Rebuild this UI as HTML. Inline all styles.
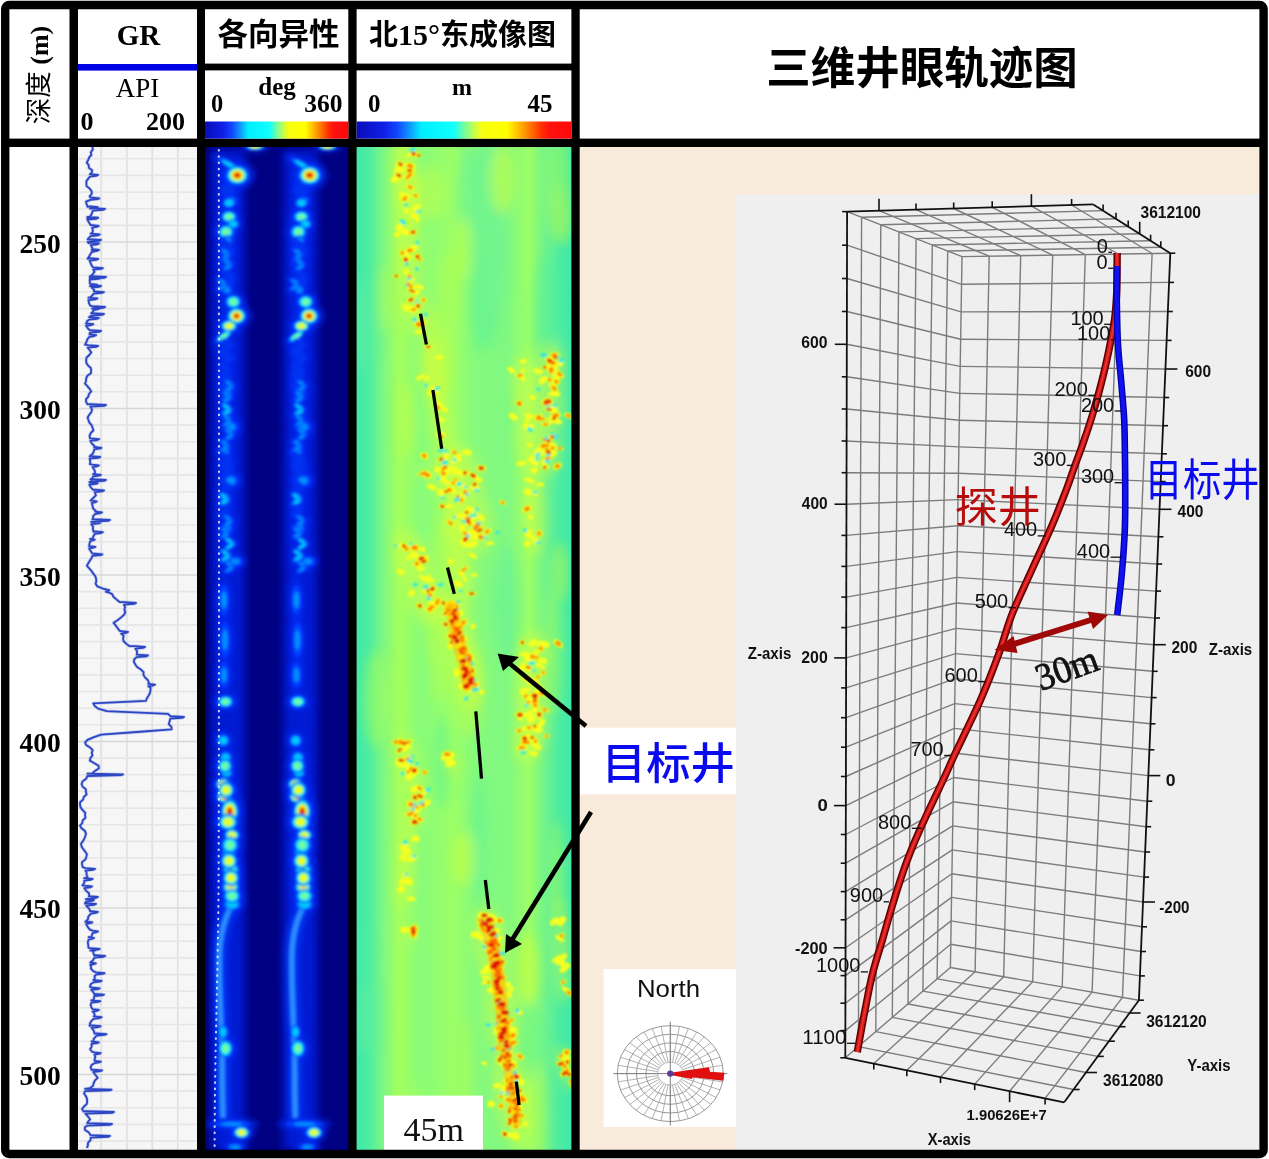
<!DOCTYPE html>
<html><head><meta charset="utf-8"><title>figure</title>
<style>html,body{margin:0;padding:0;background:#fff;}svg{display:block;}</style></head>
<body><svg width="1269" height="1159" viewBox="0 0 1269 1159">
<rect x="0" y="0" width="1269" height="1159" fill="#fff"/>
<rect x="579" y="146" width="681" height="1004" fill="#f9ebdb"/>
<rect x="736" y="194.5" width="524" height="956" fill="#efefef"/>
<rect x="77.5" y="146" width="120.0" height="1004.5" fill="#f6f6f6"/>
<line x1="101.2" y1="146" x2="101.2" y2="1150.5" stroke="#e2e2e2" stroke-width="1.8"/><line x1="126.8" y1="146" x2="126.8" y2="1150.5" stroke="#e2e2e2" stroke-width="1.8"/><line x1="152.3" y1="146" x2="152.3" y2="1150.5" stroke="#e2e2e2" stroke-width="1.8"/><line x1="177.8" y1="146" x2="177.8" y2="1150.5" stroke="#e2e2e2" stroke-width="1.8"/><line x1="77.5" y1="158.8" x2="197.5" y2="158.8" stroke="#e6e6e6" stroke-width="1.6"/><line x1="77.5" y1="175.4" x2="197.5" y2="175.4" stroke="#e6e6e6" stroke-width="1.6"/><line x1="77.5" y1="192.1" x2="197.5" y2="192.1" stroke="#e6e6e6" stroke-width="1.6"/><line x1="77.5" y1="208.7" x2="197.5" y2="208.7" stroke="#e6e6e6" stroke-width="1.6"/><line x1="77.5" y1="225.4" x2="197.5" y2="225.4" stroke="#e6e6e6" stroke-width="1.6"/><line x1="77.5" y1="242.0" x2="197.5" y2="242.0" stroke="#d8d8d8" stroke-width="1.6"/><line x1="77.5" y1="258.7" x2="197.5" y2="258.7" stroke="#e6e6e6" stroke-width="1.6"/><line x1="77.5" y1="275.3" x2="197.5" y2="275.3" stroke="#e6e6e6" stroke-width="1.6"/><line x1="77.5" y1="291.9" x2="197.5" y2="291.9" stroke="#e6e6e6" stroke-width="1.6"/><line x1="77.5" y1="308.6" x2="197.5" y2="308.6" stroke="#e6e6e6" stroke-width="1.6"/><line x1="77.5" y1="325.2" x2="197.5" y2="325.2" stroke="#e6e6e6" stroke-width="1.6"/><line x1="77.5" y1="341.9" x2="197.5" y2="341.9" stroke="#e6e6e6" stroke-width="1.6"/><line x1="77.5" y1="358.5" x2="197.5" y2="358.5" stroke="#e6e6e6" stroke-width="1.6"/><line x1="77.5" y1="375.2" x2="197.5" y2="375.2" stroke="#e6e6e6" stroke-width="1.6"/><line x1="77.5" y1="391.8" x2="197.5" y2="391.8" stroke="#e6e6e6" stroke-width="1.6"/><line x1="77.5" y1="408.5" x2="197.5" y2="408.5" stroke="#d8d8d8" stroke-width="1.6"/><line x1="77.5" y1="425.1" x2="197.5" y2="425.1" stroke="#e6e6e6" stroke-width="1.6"/><line x1="77.5" y1="441.8" x2="197.5" y2="441.8" stroke="#e6e6e6" stroke-width="1.6"/><line x1="77.5" y1="458.4" x2="197.5" y2="458.4" stroke="#e6e6e6" stroke-width="1.6"/><line x1="77.5" y1="475.1" x2="197.5" y2="475.1" stroke="#e6e6e6" stroke-width="1.6"/><line x1="77.5" y1="491.7" x2="197.5" y2="491.7" stroke="#e6e6e6" stroke-width="1.6"/><line x1="77.5" y1="508.4" x2="197.5" y2="508.4" stroke="#e6e6e6" stroke-width="1.6"/><line x1="77.5" y1="525.0" x2="197.5" y2="525.0" stroke="#e6e6e6" stroke-width="1.6"/><line x1="77.5" y1="541.7" x2="197.5" y2="541.7" stroke="#e6e6e6" stroke-width="1.6"/><line x1="77.5" y1="558.3" x2="197.5" y2="558.3" stroke="#e6e6e6" stroke-width="1.6"/><line x1="77.5" y1="575.0" x2="197.5" y2="575.0" stroke="#d8d8d8" stroke-width="1.6"/><line x1="77.5" y1="591.6" x2="197.5" y2="591.6" stroke="#e6e6e6" stroke-width="1.6"/><line x1="77.5" y1="608.3" x2="197.5" y2="608.3" stroke="#e6e6e6" stroke-width="1.6"/><line x1="77.5" y1="624.9" x2="197.5" y2="624.9" stroke="#e6e6e6" stroke-width="1.6"/><line x1="77.5" y1="641.6" x2="197.5" y2="641.6" stroke="#e6e6e6" stroke-width="1.6"/><line x1="77.5" y1="658.2" x2="197.5" y2="658.2" stroke="#e6e6e6" stroke-width="1.6"/><line x1="77.5" y1="674.9" x2="197.5" y2="674.9" stroke="#e6e6e6" stroke-width="1.6"/><line x1="77.5" y1="691.5" x2="197.5" y2="691.5" stroke="#e6e6e6" stroke-width="1.6"/><line x1="77.5" y1="708.2" x2="197.5" y2="708.2" stroke="#e6e6e6" stroke-width="1.6"/><line x1="77.5" y1="724.8" x2="197.5" y2="724.8" stroke="#e6e6e6" stroke-width="1.6"/><line x1="77.5" y1="741.5" x2="197.5" y2="741.5" stroke="#d8d8d8" stroke-width="1.6"/><line x1="77.5" y1="758.1" x2="197.5" y2="758.1" stroke="#e6e6e6" stroke-width="1.6"/><line x1="77.5" y1="774.8" x2="197.5" y2="774.8" stroke="#e6e6e6" stroke-width="1.6"/><line x1="77.5" y1="791.4" x2="197.5" y2="791.4" stroke="#e6e6e6" stroke-width="1.6"/><line x1="77.5" y1="808.1" x2="197.5" y2="808.1" stroke="#e6e6e6" stroke-width="1.6"/><line x1="77.5" y1="824.7" x2="197.5" y2="824.7" stroke="#e6e6e6" stroke-width="1.6"/><line x1="77.5" y1="841.4" x2="197.5" y2="841.4" stroke="#e6e6e6" stroke-width="1.6"/><line x1="77.5" y1="858.0" x2="197.5" y2="858.0" stroke="#e6e6e6" stroke-width="1.6"/><line x1="77.5" y1="874.7" x2="197.5" y2="874.7" stroke="#e6e6e6" stroke-width="1.6"/><line x1="77.5" y1="891.3" x2="197.5" y2="891.3" stroke="#e6e6e6" stroke-width="1.6"/><line x1="77.5" y1="908.0" x2="197.5" y2="908.0" stroke="#d8d8d8" stroke-width="1.6"/><line x1="77.5" y1="924.6" x2="197.5" y2="924.6" stroke="#e6e6e6" stroke-width="1.6"/><line x1="77.5" y1="941.3" x2="197.5" y2="941.3" stroke="#e6e6e6" stroke-width="1.6"/><line x1="77.5" y1="957.9" x2="197.5" y2="957.9" stroke="#e6e6e6" stroke-width="1.6"/><line x1="77.5" y1="974.6" x2="197.5" y2="974.6" stroke="#e6e6e6" stroke-width="1.6"/><line x1="77.5" y1="991.2" x2="197.5" y2="991.2" stroke="#e6e6e6" stroke-width="1.6"/><line x1="77.5" y1="1007.9" x2="197.5" y2="1007.9" stroke="#e6e6e6" stroke-width="1.6"/><line x1="77.5" y1="1024.5" x2="197.5" y2="1024.5" stroke="#e6e6e6" stroke-width="1.6"/><line x1="77.5" y1="1041.2" x2="197.5" y2="1041.2" stroke="#e6e6e6" stroke-width="1.6"/><line x1="77.5" y1="1057.8" x2="197.5" y2="1057.8" stroke="#e6e6e6" stroke-width="1.6"/><line x1="77.5" y1="1074.5" x2="197.5" y2="1074.5" stroke="#d8d8d8" stroke-width="1.6"/><line x1="77.5" y1="1091.1" x2="197.5" y2="1091.1" stroke="#e6e6e6" stroke-width="1.6"/><line x1="77.5" y1="1107.8" x2="197.5" y2="1107.8" stroke="#e6e6e6" stroke-width="1.6"/><line x1="77.5" y1="1124.4" x2="197.5" y2="1124.4" stroke="#e6e6e6" stroke-width="1.6"/><line x1="77.5" y1="1141.1" x2="197.5" y2="1141.1" stroke="#e6e6e6" stroke-width="1.6"/>
<path d="M92.5,147.0 L92.8,149.6 L90.8,152.2 L91.4,154.8 L89.2,157.4 L88.2,160.0 L86.8,162.6 L88.7,165.2 L88.9,167.8 L92.2,170.4 L91.6,173.0 L89.9,174.2 L98.0,175.0 L96.0,175.8 L89.9,176.6 L88.7,178.2 L86.5,180.8 L86.4,183.4 L86.5,186.0 L89.7,188.6 L91.6,191.2 L91.8,193.8 L89.7,196.4 L90.4,197.5 L99.3,198.3 L97.3,199.1 L90.4,199.9 L86.0,201.6 L86.6,204.2 L87.7,206.8 L90.0,206.3 L97.8,207.1 L95.8,207.9 L90.0,208.7 L92.9,208.2 L105.0,209.0 L103.0,209.8 L92.9,210.6 L91.4,214.6 L89.5,217.2 L87.8,216.9 L98.1,217.7 L96.1,218.5 L87.8,219.3 L87.3,217.2 L98.0,218.0 L96.0,218.8 L87.3,219.6 L90.5,225.0 L92.1,225.2 L98.7,226.0 L96.7,226.8 L92.1,227.6 L92.8,230.2 L92.5,232.8 L90.6,233.7 L99.7,234.5 L97.7,235.3 L90.6,236.1 L88.8,238.0 L87.7,239.2 L101.0,240.0 L99.0,240.8 L87.7,241.6 L88.5,243.2 L90.8,242.7 L99.0,243.5 L97.0,244.3 L90.8,245.1 L92.5,248.4 L92.7,249.2 L99.0,250.0 L97.0,250.8 L92.7,251.6 L91.8,249.6 L97.6,250.4 L95.6,251.2 L91.8,252.0 L89.2,256.2 L87.7,258.8 L89.6,258.2 L98.2,259.0 L96.2,259.8 L89.6,260.6 L91.0,264.0 L92.3,266.6 L93.2,267.3 L102.8,268.1 L100.8,268.9 L93.2,269.7 L94.5,271.8 L92.6,274.4 L90.0,277.0 L90.0,276.2 L106.0,277.0 L104.0,277.8 L90.0,278.6 L89.7,277.3 L100.4,278.1 L98.4,278.9 L89.7,279.7 L89.9,283.8 L97.0,284.6 L95.0,285.4 L89.9,286.2 L91.7,285.2 L101.0,286.0 L99.0,286.8 L91.7,287.6 L94.2,290.0 L93.9,291.3 L103.8,292.1 L101.8,292.9 L93.9,293.7 L92.4,295.2 L90.2,297.8 L88.4,297.7 L97.4,298.5 L95.4,299.3 L88.4,300.1 L89.0,303.0 L90.2,305.6 L92.2,306.2 L105.0,307.0 L103.0,307.8 L92.2,308.6 L93.6,307.8 L99.3,308.6 L97.3,309.4 L93.6,310.2 L91.8,313.4 L91.2,313.2 L104.0,314.0 L102.0,314.8 L91.2,315.6 L89.1,317.2 L98.8,318.0 L96.8,318.8 L89.1,319.6 L87.0,321.2 L86.4,323.8 L86.0,323.4 L93.3,324.2 L91.3,325.0 L86.0,325.8 L88.4,329.0 L89.9,330.2 L101.0,331.0 L99.0,331.8 L89.9,332.6 L90.5,334.2 L89.4,334.4 L96.1,335.2 L94.1,336.0 L89.4,336.8 L87.3,339.4 L86.5,342.0 L85.0,344.6 L87.7,345.2 L98.1,346.0 L96.1,346.8 L87.7,347.6 L89.4,349.8 L91.3,352.4 L89.3,355.0 L86.5,357.6 L86.2,360.2 L86.3,362.8 L88.0,365.4 L90.8,368.0 L91.2,370.6 L90.9,373.2 L87.3,375.8 L86.2,378.4 L86.0,381.0 L85.0,383.6 L87.4,386.2 L89.6,388.8 L91.2,391.4 L89.0,394.0 L88.3,396.6 L86.1,399.2 L86.0,401.8 L87.7,404.4 L90.4,404.2 L106.0,405.0 L104.0,405.8 L90.4,406.6 L92.0,409.6 L91.3,412.2 L89.3,414.8 L87.6,417.4 L88.4,420.0 L89.4,422.6 L91.6,425.2 L92.6,427.8 L93.4,430.4 L90.8,433.0 L89.6,435.6 L89.9,438.2 L90.3,438.4 L99.1,439.2 L97.1,440.0 L90.3,440.8 L91.7,443.4 L94.4,446.0 L94.1,447.0 L101.4,447.8 L99.4,448.6 L94.1,449.4 L93.9,451.2 L92.7,453.8 L89.7,456.4 L89.7,456.2 L100.2,457.0 L98.2,457.8 L89.7,458.6 L90.3,461.6 L89.9,464.2 L92.5,464.7 L98.8,465.5 L96.8,466.3 L92.5,467.1 L94.1,469.4 L95.1,472.0 L94.7,474.6 L93.1,474.0 L100.8,474.8 L98.8,475.6 L93.1,476.4 L91.7,479.8 L90.5,479.2 L106.0,480.0 L104.0,480.8 L90.5,481.6 L89.4,482.3 L97.8,483.1 L95.8,483.9 L89.4,484.7 L91.0,487.6 L93.7,490.2 L94.8,489.7 L104.0,490.5 L102.0,491.3 L94.8,492.1 L95.9,495.4 L93.2,498.0 L90.6,500.6 L91.8,500.7 L96.7,501.5 L94.7,502.3 L91.8,503.1 L92.6,505.8 L93.0,508.4 L95.8,511.0 L95.2,511.6 L102.0,512.4 L100.0,513.2 L95.2,514.0 L93.1,516.2 L93.1,518.8 L92.3,519.2 L110.0,520.0 L108.0,520.8 L92.3,521.6 L91.3,521.8 L100.6,522.6 L98.6,523.4 L91.3,524.2 L93.0,526.6 L92.9,529.2 L93.6,531.8 L94.8,531.4 L102.8,532.2 L100.8,533.0 L94.8,533.8 L93.0,537.0 L92.7,539.6 L90.1,538.9 L94.7,539.7 L92.7,540.5 L90.1,541.3 L89.3,544.8 L89.1,546.1 L95.4,546.9 L93.4,547.7 L89.1,548.5 L90.0,550.0 L91.7,552.6 L92.4,553.5 L102.3,554.3 L100.3,555.1 L92.4,555.9 L91.7,557.8 L90.0,560.4 L88.4,563.0 L86.9,565.6 L89.0,568.2 L91.4,570.8 L93.1,573.4 L95.2,576.0 L96.1,578.6 L96.3,581.2 L95.6,583.8 L97.4,586.4 L104.0,589.0 L109.2,590.2 L108.0,591.0 L106.0,591.8 L109.2,592.6 L112.3,594.2 L113.4,596.8 L116.4,599.4 L119.6,602.0 L124.0,602.2 L136.0,603.0 L134.0,603.8 L124.0,604.6 L125.0,607.2 L124.4,609.8 L125.3,612.4 L123.8,615.0 L120.9,617.6 L117.5,620.2 L113.6,622.8 L115.6,625.4 L117.5,628.0 L119.4,630.6 L121.1,631.2 L128.0,632.0 L126.0,632.8 L121.1,633.6 L123.6,635.8 L123.1,638.4 L123.5,641.0 L126.1,643.6 L129.6,646.2 L135.4,646.2 L145.0,647.0 L143.0,647.8 L135.4,648.6 L137.2,651.4 L136.9,654.0 L136.7,654.7 L148.0,655.5 L146.0,656.3 L136.7,657.1 L134.3,659.2 L133.8,661.8 L135.3,664.4 L137.1,667.0 L141.0,669.6 L143.6,672.2 L143.4,674.8 L145.0,677.4 L147.8,680.0 L148.9,682.6 L148.3,683.9 L155.0,684.7 L153.0,685.5 L148.3,686.3 L150.5,687.8 L150.5,690.4 L149.9,693.0 L148.6,695.6 L147.0,698.2 L145.9,700.8 L93.2,703.4 L94.8,706.0 L98.1,708.6 L106.8,711.2 L168.0,713.8 L170.7,716.4 L170.4,716.2 L184.0,717.0 L182.0,717.8 L170.4,718.6 L169.5,721.6 L168.8,724.2 L171.4,726.8 L171.6,729.4 L136.9,732.0 L101.2,734.6 L93.9,737.2 L87.5,739.8 L85.1,742.4 L86.1,745.0 L90.1,747.6 L92.7,750.2 L91.7,752.8 L92.5,755.4 L90.4,758.0 L89.9,760.6 L94.4,763.2 L98.6,765.8 L98.8,768.4 L94.9,771.0 L92.1,773.6 L87.4,773.6 L123.0,774.4 L121.0,775.2 L87.4,776.0 L86.1,778.8 L82.6,781.4 L81.6,784.0 L82.6,786.6 L85.8,789.2 L85.9,791.8 L86.6,794.4 L83.8,797.0 L83.1,799.6 L80.1,802.2 L80.0,804.8 L80.6,807.4 L82.5,810.0 L85.2,812.6 L85.1,815.2 L85.4,817.8 L82.7,820.4 L82.3,823.0 L80.0,825.6 L81.5,828.2 L84.8,830.8 L85.9,833.4 L85.4,836.0 L84.3,838.6 L82.9,841.2 L81.0,843.8 L81.5,846.4 L83.2,849.0 L85.2,851.6 L86.9,854.2 L86.3,856.8 L85.5,859.4 L82.1,862.0 L82.1,864.6 L82.7,867.2 L85.4,868.2 L95.0,869.0 L93.0,869.8 L85.4,870.6 L86.5,872.4 L86.6,875.0 L87.7,877.6 L84.2,878.2 L92.6,879.0 L90.6,879.8 L84.2,880.6 L84.4,882.8 L82.5,885.4 L84.3,885.7 L92.0,886.5 L90.0,887.3 L84.3,888.1 L85.9,890.6 L89.0,893.2 L89.1,895.8 L88.9,896.2 L97.9,897.0 L95.9,897.8 L88.9,898.6 L85.9,899.2 L94.0,900.0 L92.0,900.8 L85.9,901.6 L85.0,903.6 L86.2,903.2 L96.0,904.0 L94.0,904.8 L86.2,905.6 L89.2,908.8 L90.2,911.4 L91.0,911.2 L97.9,912.0 L95.9,912.8 L91.0,913.6 L88.3,916.6 L88.0,919.2 L85.4,921.8 L86.2,921.5 L92.3,922.3 L90.3,923.1 L86.2,923.9 L87.8,927.0 L89.8,929.6 L92.6,930.7 L97.9,931.5 L95.9,932.3 L92.6,933.1 L91.9,934.8 L91.5,937.4 L88.6,937.2 L93.9,938.0 L91.9,938.8 L88.6,939.6 L87.8,942.6 L88.3,945.2 L88.4,947.8 L90.3,948.1 L99.6,948.9 L97.6,949.7 L90.3,950.5 L93.0,949.2 L96.0,950.0 L94.0,950.8 L93.0,951.6 L94.2,955.6 L94.7,955.2 L105.1,956.0 L103.1,956.8 L94.7,957.6 L92.6,960.8 L90.3,962.5 L95.8,963.3 L93.8,964.1 L90.3,964.9 L91.0,966.0 L90.9,968.6 L93.3,971.2 L95.9,972.3 L104.5,973.1 L102.5,973.9 L95.9,974.7 L94.5,976.4 L94.8,979.0 L93.4,980.0 L101.6,980.8 L99.6,981.6 L93.4,982.4 L90.7,984.2 L90.0,986.8 L91.2,987.5 L99.6,988.3 L97.6,989.1 L91.2,989.9 L93.2,992.0 L94.6,994.6 L94.2,993.8 L103.9,994.6 L101.9,995.4 L94.2,996.2 L93.8,999.8 L91.3,1000.3 L100.3,1001.1 L98.3,1001.9 L91.3,1002.7 L90.7,1005.0 L91.5,1007.6 L92.6,1009.2 L98.8,1010.0 L96.8,1010.8 L92.6,1011.6 L94.1,1012.8 L94.7,1015.4 L93.8,1016.4 L101.6,1017.2 L99.6,1018.0 L93.8,1018.8 L91.6,1020.6 L90.1,1023.2 L89.6,1025.8 L91.6,1025.4 L100.6,1026.2 L98.6,1027.0 L91.6,1027.8 L93.9,1031.0 L94.5,1033.6 L96.6,1033.3 L106.4,1034.1 L104.4,1034.9 L96.6,1035.7 L93.7,1038.8 L93.5,1041.4 L91.6,1041.5 L98.8,1042.3 L96.8,1043.1 L91.6,1043.9 L91.7,1046.6 L90.1,1049.2 L92.2,1051.8 L94.5,1052.3 L100.6,1053.1 L98.6,1053.9 L94.5,1054.7 L95.3,1057.0 L94.6,1059.6 L94.5,1060.8 L100.8,1061.6 L98.8,1062.4 L94.5,1063.2 L91.8,1064.8 L90.6,1067.4 L91.7,1070.0 L93.3,1069.6 L102.1,1070.4 L100.1,1071.2 L93.3,1072.0 L95.7,1075.2 L97.7,1077.8 L95.0,1080.4 L93.7,1083.0 L93.1,1085.6 L90.0,1088.2 L85.1,1088.8 L111.5,1089.6 L109.5,1090.4 L85.1,1091.2 L84.0,1093.4 L85.8,1096.0 L87.0,1098.6 L87.1,1101.2 L86.9,1103.8 L84.1,1106.4 L82.1,1109.0 L83.6,1111.6 L85.4,1111.2 L114.0,1112.0 L112.0,1112.8 L85.4,1113.6 L88.3,1116.8 L90.1,1119.4 L87.8,1122.0 L87.3,1123.2 L112.0,1124.0 L110.0,1124.8 L87.3,1125.6 L84.9,1127.2 L84.8,1129.8 L88.8,1132.4 L90.5,1135.0 L90.7,1135.2 L110.0,1136.0 L108.0,1136.8 L90.7,1137.6 L90.5,1140.2 L88.0,1142.8 L87.9,1145.4 L86.9,1148.0" fill="none" stroke="#9aaae6" stroke-width="3.4" stroke-linejoin="round" opacity="0.55"/>
<path d="M92.5,147.0 L92.8,149.6 L90.8,152.2 L91.4,154.8 L89.2,157.4 L88.2,160.0 L86.8,162.6 L88.7,165.2 L88.9,167.8 L92.2,170.4 L91.6,173.0 L89.9,174.2 L98.0,175.0 L96.0,175.8 L89.9,176.6 L88.7,178.2 L86.5,180.8 L86.4,183.4 L86.5,186.0 L89.7,188.6 L91.6,191.2 L91.8,193.8 L89.7,196.4 L90.4,197.5 L99.3,198.3 L97.3,199.1 L90.4,199.9 L86.0,201.6 L86.6,204.2 L87.7,206.8 L90.0,206.3 L97.8,207.1 L95.8,207.9 L90.0,208.7 L92.9,208.2 L105.0,209.0 L103.0,209.8 L92.9,210.6 L91.4,214.6 L89.5,217.2 L87.8,216.9 L98.1,217.7 L96.1,218.5 L87.8,219.3 L87.3,217.2 L98.0,218.0 L96.0,218.8 L87.3,219.6 L90.5,225.0 L92.1,225.2 L98.7,226.0 L96.7,226.8 L92.1,227.6 L92.8,230.2 L92.5,232.8 L90.6,233.7 L99.7,234.5 L97.7,235.3 L90.6,236.1 L88.8,238.0 L87.7,239.2 L101.0,240.0 L99.0,240.8 L87.7,241.6 L88.5,243.2 L90.8,242.7 L99.0,243.5 L97.0,244.3 L90.8,245.1 L92.5,248.4 L92.7,249.2 L99.0,250.0 L97.0,250.8 L92.7,251.6 L91.8,249.6 L97.6,250.4 L95.6,251.2 L91.8,252.0 L89.2,256.2 L87.7,258.8 L89.6,258.2 L98.2,259.0 L96.2,259.8 L89.6,260.6 L91.0,264.0 L92.3,266.6 L93.2,267.3 L102.8,268.1 L100.8,268.9 L93.2,269.7 L94.5,271.8 L92.6,274.4 L90.0,277.0 L90.0,276.2 L106.0,277.0 L104.0,277.8 L90.0,278.6 L89.7,277.3 L100.4,278.1 L98.4,278.9 L89.7,279.7 L89.9,283.8 L97.0,284.6 L95.0,285.4 L89.9,286.2 L91.7,285.2 L101.0,286.0 L99.0,286.8 L91.7,287.6 L94.2,290.0 L93.9,291.3 L103.8,292.1 L101.8,292.9 L93.9,293.7 L92.4,295.2 L90.2,297.8 L88.4,297.7 L97.4,298.5 L95.4,299.3 L88.4,300.1 L89.0,303.0 L90.2,305.6 L92.2,306.2 L105.0,307.0 L103.0,307.8 L92.2,308.6 L93.6,307.8 L99.3,308.6 L97.3,309.4 L93.6,310.2 L91.8,313.4 L91.2,313.2 L104.0,314.0 L102.0,314.8 L91.2,315.6 L89.1,317.2 L98.8,318.0 L96.8,318.8 L89.1,319.6 L87.0,321.2 L86.4,323.8 L86.0,323.4 L93.3,324.2 L91.3,325.0 L86.0,325.8 L88.4,329.0 L89.9,330.2 L101.0,331.0 L99.0,331.8 L89.9,332.6 L90.5,334.2 L89.4,334.4 L96.1,335.2 L94.1,336.0 L89.4,336.8 L87.3,339.4 L86.5,342.0 L85.0,344.6 L87.7,345.2 L98.1,346.0 L96.1,346.8 L87.7,347.6 L89.4,349.8 L91.3,352.4 L89.3,355.0 L86.5,357.6 L86.2,360.2 L86.3,362.8 L88.0,365.4 L90.8,368.0 L91.2,370.6 L90.9,373.2 L87.3,375.8 L86.2,378.4 L86.0,381.0 L85.0,383.6 L87.4,386.2 L89.6,388.8 L91.2,391.4 L89.0,394.0 L88.3,396.6 L86.1,399.2 L86.0,401.8 L87.7,404.4 L90.4,404.2 L106.0,405.0 L104.0,405.8 L90.4,406.6 L92.0,409.6 L91.3,412.2 L89.3,414.8 L87.6,417.4 L88.4,420.0 L89.4,422.6 L91.6,425.2 L92.6,427.8 L93.4,430.4 L90.8,433.0 L89.6,435.6 L89.9,438.2 L90.3,438.4 L99.1,439.2 L97.1,440.0 L90.3,440.8 L91.7,443.4 L94.4,446.0 L94.1,447.0 L101.4,447.8 L99.4,448.6 L94.1,449.4 L93.9,451.2 L92.7,453.8 L89.7,456.4 L89.7,456.2 L100.2,457.0 L98.2,457.8 L89.7,458.6 L90.3,461.6 L89.9,464.2 L92.5,464.7 L98.8,465.5 L96.8,466.3 L92.5,467.1 L94.1,469.4 L95.1,472.0 L94.7,474.6 L93.1,474.0 L100.8,474.8 L98.8,475.6 L93.1,476.4 L91.7,479.8 L90.5,479.2 L106.0,480.0 L104.0,480.8 L90.5,481.6 L89.4,482.3 L97.8,483.1 L95.8,483.9 L89.4,484.7 L91.0,487.6 L93.7,490.2 L94.8,489.7 L104.0,490.5 L102.0,491.3 L94.8,492.1 L95.9,495.4 L93.2,498.0 L90.6,500.6 L91.8,500.7 L96.7,501.5 L94.7,502.3 L91.8,503.1 L92.6,505.8 L93.0,508.4 L95.8,511.0 L95.2,511.6 L102.0,512.4 L100.0,513.2 L95.2,514.0 L93.1,516.2 L93.1,518.8 L92.3,519.2 L110.0,520.0 L108.0,520.8 L92.3,521.6 L91.3,521.8 L100.6,522.6 L98.6,523.4 L91.3,524.2 L93.0,526.6 L92.9,529.2 L93.6,531.8 L94.8,531.4 L102.8,532.2 L100.8,533.0 L94.8,533.8 L93.0,537.0 L92.7,539.6 L90.1,538.9 L94.7,539.7 L92.7,540.5 L90.1,541.3 L89.3,544.8 L89.1,546.1 L95.4,546.9 L93.4,547.7 L89.1,548.5 L90.0,550.0 L91.7,552.6 L92.4,553.5 L102.3,554.3 L100.3,555.1 L92.4,555.9 L91.7,557.8 L90.0,560.4 L88.4,563.0 L86.9,565.6 L89.0,568.2 L91.4,570.8 L93.1,573.4 L95.2,576.0 L96.1,578.6 L96.3,581.2 L95.6,583.8 L97.4,586.4 L104.0,589.0 L109.2,590.2 L108.0,591.0 L106.0,591.8 L109.2,592.6 L112.3,594.2 L113.4,596.8 L116.4,599.4 L119.6,602.0 L124.0,602.2 L136.0,603.0 L134.0,603.8 L124.0,604.6 L125.0,607.2 L124.4,609.8 L125.3,612.4 L123.8,615.0 L120.9,617.6 L117.5,620.2 L113.6,622.8 L115.6,625.4 L117.5,628.0 L119.4,630.6 L121.1,631.2 L128.0,632.0 L126.0,632.8 L121.1,633.6 L123.6,635.8 L123.1,638.4 L123.5,641.0 L126.1,643.6 L129.6,646.2 L135.4,646.2 L145.0,647.0 L143.0,647.8 L135.4,648.6 L137.2,651.4 L136.9,654.0 L136.7,654.7 L148.0,655.5 L146.0,656.3 L136.7,657.1 L134.3,659.2 L133.8,661.8 L135.3,664.4 L137.1,667.0 L141.0,669.6 L143.6,672.2 L143.4,674.8 L145.0,677.4 L147.8,680.0 L148.9,682.6 L148.3,683.9 L155.0,684.7 L153.0,685.5 L148.3,686.3 L150.5,687.8 L150.5,690.4 L149.9,693.0 L148.6,695.6 L147.0,698.2 L145.9,700.8 L93.2,703.4 L94.8,706.0 L98.1,708.6 L106.8,711.2 L168.0,713.8 L170.7,716.4 L170.4,716.2 L184.0,717.0 L182.0,717.8 L170.4,718.6 L169.5,721.6 L168.8,724.2 L171.4,726.8 L171.6,729.4 L136.9,732.0 L101.2,734.6 L93.9,737.2 L87.5,739.8 L85.1,742.4 L86.1,745.0 L90.1,747.6 L92.7,750.2 L91.7,752.8 L92.5,755.4 L90.4,758.0 L89.9,760.6 L94.4,763.2 L98.6,765.8 L98.8,768.4 L94.9,771.0 L92.1,773.6 L87.4,773.6 L123.0,774.4 L121.0,775.2 L87.4,776.0 L86.1,778.8 L82.6,781.4 L81.6,784.0 L82.6,786.6 L85.8,789.2 L85.9,791.8 L86.6,794.4 L83.8,797.0 L83.1,799.6 L80.1,802.2 L80.0,804.8 L80.6,807.4 L82.5,810.0 L85.2,812.6 L85.1,815.2 L85.4,817.8 L82.7,820.4 L82.3,823.0 L80.0,825.6 L81.5,828.2 L84.8,830.8 L85.9,833.4 L85.4,836.0 L84.3,838.6 L82.9,841.2 L81.0,843.8 L81.5,846.4 L83.2,849.0 L85.2,851.6 L86.9,854.2 L86.3,856.8 L85.5,859.4 L82.1,862.0 L82.1,864.6 L82.7,867.2 L85.4,868.2 L95.0,869.0 L93.0,869.8 L85.4,870.6 L86.5,872.4 L86.6,875.0 L87.7,877.6 L84.2,878.2 L92.6,879.0 L90.6,879.8 L84.2,880.6 L84.4,882.8 L82.5,885.4 L84.3,885.7 L92.0,886.5 L90.0,887.3 L84.3,888.1 L85.9,890.6 L89.0,893.2 L89.1,895.8 L88.9,896.2 L97.9,897.0 L95.9,897.8 L88.9,898.6 L85.9,899.2 L94.0,900.0 L92.0,900.8 L85.9,901.6 L85.0,903.6 L86.2,903.2 L96.0,904.0 L94.0,904.8 L86.2,905.6 L89.2,908.8 L90.2,911.4 L91.0,911.2 L97.9,912.0 L95.9,912.8 L91.0,913.6 L88.3,916.6 L88.0,919.2 L85.4,921.8 L86.2,921.5 L92.3,922.3 L90.3,923.1 L86.2,923.9 L87.8,927.0 L89.8,929.6 L92.6,930.7 L97.9,931.5 L95.9,932.3 L92.6,933.1 L91.9,934.8 L91.5,937.4 L88.6,937.2 L93.9,938.0 L91.9,938.8 L88.6,939.6 L87.8,942.6 L88.3,945.2 L88.4,947.8 L90.3,948.1 L99.6,948.9 L97.6,949.7 L90.3,950.5 L93.0,949.2 L96.0,950.0 L94.0,950.8 L93.0,951.6 L94.2,955.6 L94.7,955.2 L105.1,956.0 L103.1,956.8 L94.7,957.6 L92.6,960.8 L90.3,962.5 L95.8,963.3 L93.8,964.1 L90.3,964.9 L91.0,966.0 L90.9,968.6 L93.3,971.2 L95.9,972.3 L104.5,973.1 L102.5,973.9 L95.9,974.7 L94.5,976.4 L94.8,979.0 L93.4,980.0 L101.6,980.8 L99.6,981.6 L93.4,982.4 L90.7,984.2 L90.0,986.8 L91.2,987.5 L99.6,988.3 L97.6,989.1 L91.2,989.9 L93.2,992.0 L94.6,994.6 L94.2,993.8 L103.9,994.6 L101.9,995.4 L94.2,996.2 L93.8,999.8 L91.3,1000.3 L100.3,1001.1 L98.3,1001.9 L91.3,1002.7 L90.7,1005.0 L91.5,1007.6 L92.6,1009.2 L98.8,1010.0 L96.8,1010.8 L92.6,1011.6 L94.1,1012.8 L94.7,1015.4 L93.8,1016.4 L101.6,1017.2 L99.6,1018.0 L93.8,1018.8 L91.6,1020.6 L90.1,1023.2 L89.6,1025.8 L91.6,1025.4 L100.6,1026.2 L98.6,1027.0 L91.6,1027.8 L93.9,1031.0 L94.5,1033.6 L96.6,1033.3 L106.4,1034.1 L104.4,1034.9 L96.6,1035.7 L93.7,1038.8 L93.5,1041.4 L91.6,1041.5 L98.8,1042.3 L96.8,1043.1 L91.6,1043.9 L91.7,1046.6 L90.1,1049.2 L92.2,1051.8 L94.5,1052.3 L100.6,1053.1 L98.6,1053.9 L94.5,1054.7 L95.3,1057.0 L94.6,1059.6 L94.5,1060.8 L100.8,1061.6 L98.8,1062.4 L94.5,1063.2 L91.8,1064.8 L90.6,1067.4 L91.7,1070.0 L93.3,1069.6 L102.1,1070.4 L100.1,1071.2 L93.3,1072.0 L95.7,1075.2 L97.7,1077.8 L95.0,1080.4 L93.7,1083.0 L93.1,1085.6 L90.0,1088.2 L85.1,1088.8 L111.5,1089.6 L109.5,1090.4 L85.1,1091.2 L84.0,1093.4 L85.8,1096.0 L87.0,1098.6 L87.1,1101.2 L86.9,1103.8 L84.1,1106.4 L82.1,1109.0 L83.6,1111.6 L85.4,1111.2 L114.0,1112.0 L112.0,1112.8 L85.4,1113.6 L88.3,1116.8 L90.1,1119.4 L87.8,1122.0 L87.3,1123.2 L112.0,1124.0 L110.0,1124.8 L87.3,1125.6 L84.9,1127.2 L84.8,1129.8 L88.8,1132.4 L90.5,1135.0 L90.7,1135.2 L110.0,1136.0 L108.0,1136.8 L90.7,1137.6 L90.5,1140.2 L88.0,1142.8 L87.9,1145.4 L86.9,1148.0" fill="none" stroke="#2c46c4" stroke-width="1.8" stroke-linejoin="round"/>
<defs><filter id="bl" x="-50%" y="-50%" width="200%" height="200%"><feGaussianBlur stdDeviation="1.6"/></filter><filter id="bl3" x="-50%" y="-50%" width="200%" height="200%"><feGaussianBlur stdDeviation="3.2"/></filter><filter id="bl2" x="-50%" y="-50%" width="200%" height="200%"><feGaussianBlur stdDeviation="5"/></filter><clipPath id="aniclip"><rect x="204" y="146" width="145.5" height="1004.5"/></clipPath></defs>
<g clip-path="url(#aniclip)">
<rect x="204" y="146" width="145.5" height="1004.5" fill="#000082"/>
<rect x="205" y="146" width="4" height="1004.5" fill="#00006a"/>
<g filter="url(#bl2)" opacity="0.8"><rect x="211" y="150" width="34" height="1000" fill="#0020e8"/><rect x="283.4" y="150" width="34" height="1000" fill="#0020e8"/></g>
<g id="anib"><g filter="url(#bl3)" opacity="0.75"><path d="M233,903 C226,915 220,930 219.5,955 C219,990 221,1020 222,1045 C222.5,1070 222,1095 223,1118" fill="none" stroke="#0040ff" stroke-width="14"/><ellipse cx="255" cy="147" rx="14.6" ry="4.4" fill="#0030ff"/><ellipse cx="230" cy="165" rx="20.1" ry="4.4" fill="#0030ff" transform="rotate(30 230 165)"/><ellipse cx="237.3" cy="175.3" rx="17.4" ry="13.7" fill="#0030ff"/><ellipse cx="228" cy="190" rx="9.1" ry="8.5" fill="#0030ff"/><ellipse cx="231" cy="201" rx="9.1" ry="6.8" fill="#0030ff"/><ellipse cx="229" cy="216.8" rx="11.9" ry="8.5" fill="#0030ff"/><ellipse cx="233" cy="224" rx="9.1" ry="6.8" fill="#0030ff"/><ellipse cx="226" cy="232" rx="11.9" ry="10.2" fill="#0030ff"/><ellipse cx="229" cy="203" rx="9.1" ry="6.8" fill="#0030ff"/><ellipse cx="227" cy="240" rx="9.1" ry="6.8" fill="#0030ff"/><ellipse cx="228" cy="252" rx="9.1" ry="10.2" fill="#0030ff"/><ellipse cx="225" cy="264" rx="7.3" ry="8.5" fill="#0030ff"/><ellipse cx="229" cy="280" rx="7.3" ry="10.2" fill="#0030ff"/><ellipse cx="227" cy="290" rx="7.3" ry="6.8" fill="#0030ff"/><ellipse cx="233.3" cy="301.8" rx="11.9" ry="9.4" fill="#0030ff"/><ellipse cx="236.6" cy="316" rx="14.6" ry="12.0" fill="#0030ff"/><ellipse cx="229" cy="326" rx="12.8" ry="8.5" fill="#0030ff"/><ellipse cx="224" cy="336" rx="14.6" ry="5.1" fill="#0030ff" transform="rotate(-35 224 336)"/><ellipse cx="224" cy="352" rx="7.3" ry="8.5" fill="#0030ff"/><ellipse cx="226" cy="375" rx="7.3" ry="13.7" fill="#0030ff"/><ellipse cx="226" cy="398" rx="7.3" ry="8.5" fill="#0030ff"/><ellipse cx="226.5" cy="415" rx="9.1" ry="8.5" fill="#0030ff"/><ellipse cx="230.8" cy="427" rx="11.0" ry="8.5" fill="#0030ff"/><ellipse cx="224.4" cy="451.7" rx="9.1" ry="6.8" fill="#0030ff"/><ellipse cx="226.5" cy="464.6" rx="9.1" ry="6.8" fill="#0030ff"/><ellipse cx="230.8" cy="480.8" rx="11.0" ry="8.5" fill="#0030ff"/><ellipse cx="226" cy="500" rx="7.3" ry="10.2" fill="#0030ff"/><ellipse cx="226.5" cy="529" rx="9.1" ry="8.5" fill="#0030ff"/><ellipse cx="235.2" cy="561.5" rx="11.0" ry="6.8" fill="#0030ff"/><ellipse cx="224" cy="600" rx="7.3" ry="20.5" fill="#0030ff"/><ellipse cx="225" cy="640" rx="7.3" ry="23.9" fill="#0030ff"/><ellipse cx="224" cy="675" rx="7.3" ry="17.1" fill="#0030ff"/><ellipse cx="225.5" cy="701.7" rx="11.9" ry="8.5" fill="#0030ff"/><ellipse cx="223.3" cy="740.5" rx="9.1" ry="8.5" fill="#0030ff"/><ellipse cx="225.5" cy="757.7" rx="9.1" ry="8.5" fill="#0030ff"/><ellipse cx="226.5" cy="772.8" rx="9.1" ry="6.8" fill="#0030ff"/><ellipse cx="223.3" cy="784.6" rx="11.9" ry="9.4" fill="#0030ff"/><ellipse cx="224.4" cy="796.5" rx="11.9" ry="9.4" fill="#0030ff"/><ellipse cx="229.8" cy="811.5" rx="13.7" ry="18.8" fill="#0030ff"/><ellipse cx="232" cy="835" rx="11.9" ry="8.5" fill="#0030ff"/><ellipse cx="228.7" cy="852.5" rx="11.0" ry="8.5" fill="#0030ff"/><ellipse cx="230.8" cy="869.7" rx="12.8" ry="10.2" fill="#0030ff"/><ellipse cx="230.8" cy="887" rx="12.8" ry="11.1" fill="#0030ff"/><ellipse cx="232" cy="904.3" rx="12.8" ry="8.5" fill="#0030ff"/><ellipse cx="223" cy="1032" rx="7.3" ry="10.2" fill="#0030ff"/><ellipse cx="226" cy="790" rx="12.8" ry="12.0" fill="#0030ff"/><ellipse cx="228" cy="822" rx="14.6" ry="12.0" fill="#0030ff"/><ellipse cx="230" cy="845" rx="12.8" ry="12.0" fill="#0030ff"/><ellipse cx="229" cy="861" rx="12.8" ry="12.0" fill="#0030ff"/><ellipse cx="231" cy="878" rx="12.8" ry="12.0" fill="#0030ff"/><ellipse cx="232" cy="896" rx="12.8" ry="10.2" fill="#0030ff"/><ellipse cx="225" cy="766" rx="11.0" ry="10.2" fill="#0030ff"/><ellipse cx="225.5" cy="1048.6" rx="11.0" ry="12.8" fill="#0030ff"/><ellipse cx="232" cy="1124" rx="27.5" ry="4.8" fill="#0030ff"/><ellipse cx="241.6" cy="1132.6" rx="12.8" ry="8.5" fill="#0030ff"/><ellipse cx="235" cy="1147" rx="12.8" ry="5.1" fill="#0030ff"/><ellipse cx="224.92595558485664" cy="241.5" rx="10.1" ry="3.8" fill="#0030ff" transform="rotate(32 224.92595558485664 241.5)"/><ellipse cx="224.92595558485664" cy="246.5" rx="10.1" ry="3.8" fill="#0030ff" transform="rotate(-32 224.92595558485664 246.5)"/><ellipse cx="225.35370330440216" cy="252.17212032184005" rx="10.1" ry="3.8" fill="#0030ff" transform="rotate(32 225.35370330440216 252.17212032184005)"/><ellipse cx="225.35370330440216" cy="257.17212032184005" rx="10.1" ry="3.8" fill="#0030ff" transform="rotate(-32 225.35370330440216 257.17212032184005)"/><ellipse cx="227.654980113674" cy="262.03617771341567" rx="10.1" ry="3.8" fill="#0030ff" transform="rotate(32 227.654980113674 262.03617771341567)"/><ellipse cx="227.654980113674" cy="267.03617771341567" rx="10.1" ry="3.8" fill="#0030ff" transform="rotate(-32 227.654980113674 267.03617771341567)"/><ellipse cx="227.51882462965148" cy="273.086002671966" rx="10.1" ry="3.8" fill="#0030ff" transform="rotate(32 227.51882462965148 273.086002671966)"/><ellipse cx="227.51882462965148" cy="278.086002671966" rx="10.1" ry="3.8" fill="#0030ff" transform="rotate(-32 227.51882462965148 278.086002671966)"/><ellipse cx="222.48485334228317" cy="282.14248806772673" rx="10.1" ry="3.8" fill="#0030ff" transform="rotate(32 222.48485334228317 282.14248806772673)"/><ellipse cx="222.48485334228317" cy="287.14248806772673" rx="10.1" ry="3.8" fill="#0030ff" transform="rotate(-32 222.48485334228317 287.14248806772673)"/><ellipse cx="227.45046505055475" cy="342.5" rx="10.1" ry="3.8" fill="#0030ff" transform="rotate(32 227.45046505055475 342.5)"/><ellipse cx="227.45046505055475" cy="347.5" rx="10.1" ry="3.8" fill="#0030ff" transform="rotate(-32 227.45046505055475 347.5)"/><ellipse cx="227.9829284620852" cy="355.2756740761499" rx="10.1" ry="3.8" fill="#0030ff" transform="rotate(32 227.9829284620852 355.2756740761499)"/><ellipse cx="227.9829284620852" cy="360.2756740761499" rx="10.1" ry="3.8" fill="#0030ff" transform="rotate(-32 227.9829284620852 360.2756740761499)"/><ellipse cx="225.31123062292397" cy="368.2304250840258" rx="10.1" ry="3.8" fill="#0030ff" transform="rotate(32 225.31123062292397 368.2304250840258)"/><ellipse cx="225.31123062292397" cy="373.2304250840258" rx="10.1" ry="3.8" fill="#0030ff" transform="rotate(-32 225.31123062292397 373.2304250840258)"/><ellipse cx="224.7810455000614" cy="378.3667053213657" rx="10.1" ry="3.8" fill="#0030ff" transform="rotate(32 224.7810455000614 378.3667053213657)"/><ellipse cx="224.7810455000614" cy="383.3667053213657" rx="10.1" ry="3.8" fill="#0030ff" transform="rotate(-32 224.7810455000614 383.3667053213657)"/><ellipse cx="227.6637488198681" cy="391.1423669423346" rx="10.1" ry="3.8" fill="#0030ff" transform="rotate(32 227.6637488198681 391.1423669423346)"/><ellipse cx="227.6637488198681" cy="396.1423669423346" rx="10.1" ry="3.8" fill="#0030ff" transform="rotate(-32 227.6637488198681 396.1423669423346)"/><ellipse cx="229.187152465601" cy="383.5" rx="10.1" ry="3.8" fill="#0030ff" transform="rotate(32 229.187152465601 383.5)"/><ellipse cx="229.187152465601" cy="388.5" rx="10.1" ry="3.8" fill="#0030ff" transform="rotate(-32 229.187152465601 388.5)"/><ellipse cx="227.17189315801627" cy="394.35385558381313" rx="10.1" ry="3.8" fill="#0030ff" transform="rotate(32 227.17189315801627 394.35385558381313)"/><ellipse cx="227.17189315801627" cy="399.35385558381313" rx="10.1" ry="3.8" fill="#0030ff" transform="rotate(-32 227.17189315801627 399.35385558381313)"/><ellipse cx="226.809402714617" cy="407.06186708370853" rx="10.1" ry="3.8" fill="#0030ff" transform="rotate(32 226.809402714617 407.06186708370853)"/><ellipse cx="226.809402714617" cy="412.06186708370853" rx="10.1" ry="3.8" fill="#0030ff" transform="rotate(-32 226.809402714617 412.06186708370853)"/><ellipse cx="227.2895941217333" cy="418.16625744224325" rx="10.1" ry="3.8" fill="#0030ff" transform="rotate(32 227.2895941217333 418.16625744224325)"/><ellipse cx="227.2895941217333" cy="423.16625744224325" rx="10.1" ry="3.8" fill="#0030ff" transform="rotate(-32 227.2895941217333 423.16625744224325)"/><ellipse cx="229.46181544945867" cy="431.9468349896405" rx="10.1" ry="3.8" fill="#0030ff" transform="rotate(32 229.46181544945867 431.9468349896405)"/><ellipse cx="229.46181544945867" cy="436.9468349896405" rx="10.1" ry="3.8" fill="#0030ff" transform="rotate(-32 229.46181544945867 436.9468349896405)"/><ellipse cx="224.8573450961773" cy="443.28108385052997" rx="10.1" ry="3.8" fill="#0030ff" transform="rotate(32 224.8573450961773 443.28108385052997)"/><ellipse cx="224.8573450961773" cy="448.28108385052997" rx="10.1" ry="3.8" fill="#0030ff" transform="rotate(-32 224.8573450961773 448.28108385052997)"/><ellipse cx="225.4075559630142" cy="455.6863854082778" rx="10.1" ry="3.8" fill="#0030ff" transform="rotate(32 225.4075559630142 455.6863854082778)"/><ellipse cx="225.4075559630142" cy="460.6863854082778" rx="10.1" ry="3.8" fill="#0030ff" transform="rotate(-32 225.4075559630142 460.6863854082778)"/><ellipse cx="226.04391106632758" cy="469.87905519169567" rx="10.1" ry="3.8" fill="#0030ff" transform="rotate(32 226.04391106632758 469.87905519169567)"/><ellipse cx="226.04391106632758" cy="474.87905519169567" rx="10.1" ry="3.8" fill="#0030ff" transform="rotate(-32 226.04391106632758 474.87905519169567)"/><ellipse cx="226.22566295388265" cy="484.1970885725415" rx="10.1" ry="3.8" fill="#0030ff" transform="rotate(32 226.22566295388265 484.1970885725415)"/><ellipse cx="226.22566295388265" cy="489.1970885725415" rx="10.1" ry="3.8" fill="#0030ff" transform="rotate(-32 226.22566295388265 489.1970885725415)"/><ellipse cx="224.18784964709613" cy="496.6348984388087" rx="10.1" ry="3.8" fill="#0030ff" transform="rotate(32 224.18784964709613 496.6348984388087)"/><ellipse cx="224.18784964709613" cy="501.6348984388087" rx="10.1" ry="3.8" fill="#0030ff" transform="rotate(-32 224.18784964709613 501.6348984388087)"/><ellipse cx="224.0198239418922" cy="507.5079485669987" rx="10.1" ry="3.8" fill="#0030ff" transform="rotate(32 224.0198239418922 507.5079485669987)"/><ellipse cx="224.0198239418922" cy="512.5079485669987" rx="10.1" ry="3.8" fill="#0030ff" transform="rotate(-32 224.0198239418922 512.5079485669987)"/><ellipse cx="228.00062897996835" cy="518.2884151101496" rx="10.1" ry="3.8" fill="#0030ff" transform="rotate(32 228.00062897996835 518.2884151101496)"/><ellipse cx="228.00062897996835" cy="523.2884151101496" rx="10.1" ry="3.8" fill="#0030ff" transform="rotate(-32 228.00062897996835 523.2884151101496)"/><ellipse cx="225.26474151527682" cy="530.0629797207646" rx="10.1" ry="3.8" fill="#0030ff" transform="rotate(32 225.26474151527682 530.0629797207646)"/><ellipse cx="225.26474151527682" cy="535.0629797207646" rx="10.1" ry="3.8" fill="#0030ff" transform="rotate(-32 225.26474151527682 535.0629797207646)"/><ellipse cx="229.83561018474037" cy="541.2433471198162" rx="10.1" ry="3.8" fill="#0030ff" transform="rotate(32 229.83561018474037 541.2433471198162)"/><ellipse cx="229.83561018474037" cy="546.2433471198162" rx="10.1" ry="3.8" fill="#0030ff" transform="rotate(-32 229.83561018474037 546.2433471198162)"/><ellipse cx="225.72035787793183" cy="553.0728599050905" rx="10.1" ry="3.8" fill="#0030ff" transform="rotate(32 225.72035787793183 553.0728599050905)"/><ellipse cx="225.72035787793183" cy="558.0728599050905" rx="10.1" ry="3.8" fill="#0030ff" transform="rotate(-32 225.72035787793183 558.0728599050905)"/><ellipse cx="229.4391301125363" cy="564.2476295470157" rx="10.1" ry="3.8" fill="#0030ff" transform="rotate(32 229.4391301125363 564.2476295470157)"/><ellipse cx="229.4391301125363" cy="569.2476295470157" rx="10.1" ry="3.8" fill="#0030ff" transform="rotate(-32 229.4391301125363 569.2476295470157)"/></g><g filter="url(#bl)"><path d="M233,903 C226,915 220,930 219.5,955 C219,990 221,1020 222,1045 C222.5,1070 222,1095 223,1118" fill="none" stroke="#2a8cff" stroke-width="6"/><ellipse cx="255" cy="147" rx="9.8" ry="3.2" fill="#0058ff"/><ellipse cx="255" cy="147" rx="7.8" ry="2.5" fill="#00d8ff"/><ellipse cx="255" cy="147" rx="5.9" ry="1.9" fill="#90ff70"/><ellipse cx="255" cy="147" rx="4.1" ry="1.3" fill="#f0ff10"/><ellipse cx="230" cy="165" rx="13.4" ry="3.2" fill="#0050ff" transform="rotate(30 230 165)"/><ellipse cx="230" cy="165" rx="9.4" ry="2.2" fill="#00c8ff" transform="rotate(30 230 165)"/><ellipse cx="237.3" cy="175.3" rx="11.6" ry="9.8" fill="#0058ff"/><ellipse cx="237.3" cy="175.3" rx="9.5" ry="8.0" fill="#00d8ff"/><ellipse cx="237.3" cy="175.3" rx="7.4" ry="6.2" fill="#90ff70"/><ellipse cx="237.3" cy="175.3" rx="5.8" ry="4.9" fill="#ffff00"/><ellipse cx="237.3" cy="175.3" rx="4.2" ry="3.5" fill="#ff8000"/><ellipse cx="237.3" cy="175.3" rx="2.5" ry="2.1" fill="#d00000"/><ellipse cx="228" cy="190" rx="6.1" ry="6.1" fill="#0030f0"/><ellipse cx="231" cy="201" rx="6.1" ry="4.9" fill="#0040ff"/><ellipse cx="231" cy="201" rx="3.7" ry="2.9" fill="#0090ff"/><ellipse cx="229" cy="216.8" rx="7.9" ry="6.1" fill="#0058ff"/><ellipse cx="229" cy="216.8" rx="6.2" ry="4.8" fill="#00d8ff"/><ellipse cx="229" cy="216.8" rx="4.0" ry="3.0" fill="#70ffa0"/><ellipse cx="233" cy="224" rx="6.1" ry="4.9" fill="#0050ff"/><ellipse cx="233" cy="224" rx="4.3" ry="3.4" fill="#00c8ff"/><ellipse cx="226" cy="232" rx="7.9" ry="7.3" fill="#0058ff"/><ellipse cx="226" cy="232" rx="6.2" ry="5.7" fill="#00d8ff"/><ellipse cx="226" cy="232" rx="4.0" ry="3.7" fill="#70ffa0"/><ellipse cx="229" cy="203" rx="6.1" ry="4.9" fill="#0050ff"/><ellipse cx="229" cy="203" rx="4.3" ry="3.4" fill="#00c8ff"/><ellipse cx="227" cy="240" rx="6.1" ry="4.9" fill="#0040ff"/><ellipse cx="227" cy="240" rx="3.7" ry="2.9" fill="#0090ff"/><ellipse cx="228" cy="252" rx="6.1" ry="7.3" fill="#0030f0"/><ellipse cx="225" cy="264" rx="4.9" ry="6.1" fill="#0030f0"/><ellipse cx="229" cy="280" rx="4.9" ry="7.3" fill="#0030f0"/><ellipse cx="227" cy="290" rx="4.9" ry="4.9" fill="#0040ff"/><ellipse cx="227" cy="290" rx="2.9" ry="2.9" fill="#0090ff"/><ellipse cx="233.3" cy="301.8" rx="7.9" ry="6.7" fill="#0058ff"/><ellipse cx="233.3" cy="301.8" rx="6.2" ry="5.2" fill="#00d8ff"/><ellipse cx="233.3" cy="301.8" rx="4.0" ry="3.4" fill="#70ffa0"/><ellipse cx="236.6" cy="316" rx="9.8" ry="8.5" fill="#0058ff"/><ellipse cx="236.6" cy="316" rx="8.0" ry="7.0" fill="#00d8ff"/><ellipse cx="236.6" cy="316" rx="6.2" ry="5.5" fill="#90ff70"/><ellipse cx="236.6" cy="316" rx="4.9" ry="4.3" fill="#ffff00"/><ellipse cx="236.6" cy="316" rx="3.5" ry="3.1" fill="#ff8000"/><ellipse cx="236.6" cy="316" rx="2.1" ry="1.9" fill="#d00000"/><ellipse cx="229" cy="326" rx="8.5" ry="6.1" fill="#0058ff"/><ellipse cx="229" cy="326" rx="6.8" ry="4.9" fill="#00d8ff"/><ellipse cx="229" cy="326" rx="5.1" ry="3.7" fill="#90ff70"/><ellipse cx="229" cy="326" rx="3.6" ry="2.6" fill="#f0ff10"/><ellipse cx="224" cy="336" rx="9.8" ry="3.7" fill="#0058ff" transform="rotate(-35 224 336)"/><ellipse cx="224" cy="336" rx="7.6" ry="2.9" fill="#00d8ff" transform="rotate(-35 224 336)"/><ellipse cx="224" cy="336" rx="4.9" ry="1.8" fill="#70ffa0" transform="rotate(-35 224 336)"/><ellipse cx="224" cy="352" rx="4.9" ry="6.1" fill="#0030f0"/><ellipse cx="226" cy="375" rx="4.9" ry="9.8" fill="#0030f0"/><ellipse cx="226" cy="398" rx="4.9" ry="6.1" fill="#0030f0"/><ellipse cx="226.5" cy="415" rx="6.1" ry="6.1" fill="#0030f0"/><ellipse cx="230.8" cy="427" rx="7.3" ry="6.1" fill="#0040ff"/><ellipse cx="230.8" cy="427" rx="4.4" ry="3.7" fill="#0090ff"/><ellipse cx="224.4" cy="451.7" rx="6.1" ry="4.9" fill="#0040ff"/><ellipse cx="224.4" cy="451.7" rx="3.7" ry="2.9" fill="#0090ff"/><ellipse cx="226.5" cy="464.6" rx="6.1" ry="4.9" fill="#0030f0"/><ellipse cx="230.8" cy="480.8" rx="7.3" ry="6.1" fill="#0040ff"/><ellipse cx="230.8" cy="480.8" rx="4.4" ry="3.7" fill="#0090ff"/><ellipse cx="226" cy="500" rx="4.9" ry="7.3" fill="#0030f0"/><ellipse cx="226.5" cy="529" rx="6.1" ry="6.1" fill="#0040ff"/><ellipse cx="226.5" cy="529" rx="3.7" ry="3.7" fill="#0090ff"/><ellipse cx="235.2" cy="561.5" rx="7.3" ry="4.9" fill="#0040ff"/><ellipse cx="235.2" cy="561.5" rx="4.4" ry="2.9" fill="#0090ff"/><ellipse cx="224" cy="600" rx="4.9" ry="14.6" fill="#0040ff"/><ellipse cx="224" cy="600" rx="2.9" ry="8.8" fill="#0090ff"/><ellipse cx="225" cy="640" rx="4.9" ry="17.1" fill="#0040ff"/><ellipse cx="225" cy="640" rx="2.9" ry="10.2" fill="#0090ff"/><ellipse cx="224" cy="675" rx="4.9" ry="12.2" fill="#0040ff"/><ellipse cx="224" cy="675" rx="2.9" ry="7.3" fill="#0090ff"/><ellipse cx="225.5" cy="701.7" rx="7.9" ry="6.1" fill="#0058ff"/><ellipse cx="225.5" cy="701.7" rx="6.2" ry="4.8" fill="#00d8ff"/><ellipse cx="225.5" cy="701.7" rx="4.0" ry="3.0" fill="#70ffa0"/><ellipse cx="223.3" cy="740.5" rx="6.1" ry="6.1" fill="#0050ff"/><ellipse cx="223.3" cy="740.5" rx="4.3" ry="4.3" fill="#00c8ff"/><ellipse cx="225.5" cy="757.7" rx="6.1" ry="6.1" fill="#0050ff"/><ellipse cx="225.5" cy="757.7" rx="4.3" ry="4.3" fill="#00c8ff"/><ellipse cx="226.5" cy="772.8" rx="6.1" ry="4.9" fill="#0050ff"/><ellipse cx="226.5" cy="772.8" rx="4.3" ry="3.4" fill="#00c8ff"/><ellipse cx="223.3" cy="784.6" rx="7.9" ry="6.7" fill="#0058ff"/><ellipse cx="223.3" cy="784.6" rx="6.5" ry="5.5" fill="#00d8ff"/><ellipse cx="223.3" cy="784.6" rx="5.1" ry="4.3" fill="#90ff70"/><ellipse cx="223.3" cy="784.6" rx="4.0" ry="3.4" fill="#ffff00"/><ellipse cx="223.3" cy="784.6" rx="2.9" ry="2.4" fill="#ff8000"/><ellipse cx="223.3" cy="784.6" rx="1.7" ry="1.5" fill="#d00000"/><ellipse cx="224.4" cy="796.5" rx="7.9" ry="6.7" fill="#0058ff"/><ellipse cx="224.4" cy="796.5" rx="6.5" ry="5.5" fill="#00d8ff"/><ellipse cx="224.4" cy="796.5" rx="5.1" ry="4.3" fill="#90ff70"/><ellipse cx="224.4" cy="796.5" rx="4.0" ry="3.4" fill="#ffff00"/><ellipse cx="224.4" cy="796.5" rx="2.9" ry="2.4" fill="#ff8000"/><ellipse cx="224.4" cy="796.5" rx="1.7" ry="1.5" fill="#d00000"/><ellipse cx="229.8" cy="811.5" rx="9.2" ry="13.4" fill="#0058ff"/><ellipse cx="229.8" cy="811.5" rx="7.5" ry="11.0" fill="#00d8ff"/><ellipse cx="229.8" cy="811.5" rx="5.9" ry="8.6" fill="#90ff70"/><ellipse cx="229.8" cy="811.5" rx="4.6" ry="6.7" fill="#ffff00"/><ellipse cx="229.8" cy="811.5" rx="3.3" ry="4.8" fill="#ff8000"/><ellipse cx="229.8" cy="811.5" rx="2.0" ry="3.0" fill="#d00000"/><ellipse cx="232" cy="835" rx="7.9" ry="6.1" fill="#0058ff"/><ellipse cx="232" cy="835" rx="6.3" ry="4.9" fill="#00d8ff"/><ellipse cx="232" cy="835" rx="4.8" ry="3.7" fill="#90ff70"/><ellipse cx="232" cy="835" rx="3.3" ry="2.6" fill="#f0ff10"/><ellipse cx="228.7" cy="852.5" rx="7.3" ry="6.1" fill="#0050ff"/><ellipse cx="228.7" cy="852.5" rx="5.1" ry="4.3" fill="#00c8ff"/><ellipse cx="230.8" cy="869.7" rx="8.5" ry="7.3" fill="#0058ff"/><ellipse cx="230.8" cy="869.7" rx="6.7" ry="5.7" fill="#00d8ff"/><ellipse cx="230.8" cy="869.7" rx="4.3" ry="3.7" fill="#70ffa0"/><ellipse cx="230.8" cy="887" rx="8.5" ry="7.9" fill="#0058ff"/><ellipse cx="230.8" cy="887" rx="6.8" ry="6.3" fill="#00d8ff"/><ellipse cx="230.8" cy="887" rx="5.1" ry="4.8" fill="#90ff70"/><ellipse cx="230.8" cy="887" rx="3.6" ry="3.3" fill="#f0ff10"/><ellipse cx="232" cy="904.3" rx="8.5" ry="6.1" fill="#0050ff"/><ellipse cx="232" cy="904.3" rx="6.0" ry="4.3" fill="#00c8ff"/><ellipse cx="223" cy="1032" rx="4.9" ry="7.3" fill="#0050ff"/><ellipse cx="223" cy="1032" rx="3.4" ry="5.1" fill="#00c8ff"/><ellipse cx="226" cy="790" rx="8.5" ry="8.5" fill="#0058ff"/><ellipse cx="226" cy="790" rx="6.8" ry="6.8" fill="#00d8ff"/><ellipse cx="226" cy="790" rx="5.1" ry="5.1" fill="#90ff70"/><ellipse cx="226" cy="790" rx="3.6" ry="3.6" fill="#f0ff10"/><ellipse cx="228" cy="822" rx="9.8" ry="8.5" fill="#0058ff"/><ellipse cx="228" cy="822" rx="7.8" ry="6.8" fill="#00d8ff"/><ellipse cx="228" cy="822" rx="5.9" ry="5.1" fill="#90ff70"/><ellipse cx="228" cy="822" rx="4.1" ry="3.6" fill="#f0ff10"/><ellipse cx="230" cy="845" rx="8.5" ry="8.5" fill="#0058ff"/><ellipse cx="230" cy="845" rx="6.7" ry="6.7" fill="#00d8ff"/><ellipse cx="230" cy="845" rx="4.3" ry="4.3" fill="#70ffa0"/><ellipse cx="229" cy="861" rx="8.5" ry="8.5" fill="#0058ff"/><ellipse cx="229" cy="861" rx="6.8" ry="6.8" fill="#00d8ff"/><ellipse cx="229" cy="861" rx="5.1" ry="5.1" fill="#90ff70"/><ellipse cx="229" cy="861" rx="3.6" ry="3.6" fill="#f0ff10"/><ellipse cx="231" cy="878" rx="8.5" ry="8.5" fill="#0058ff"/><ellipse cx="231" cy="878" rx="6.8" ry="6.8" fill="#00d8ff"/><ellipse cx="231" cy="878" rx="5.1" ry="5.1" fill="#90ff70"/><ellipse cx="231" cy="878" rx="3.6" ry="3.6" fill="#f0ff10"/><ellipse cx="232" cy="896" rx="8.5" ry="7.3" fill="#0058ff"/><ellipse cx="232" cy="896" rx="6.7" ry="5.7" fill="#00d8ff"/><ellipse cx="232" cy="896" rx="4.3" ry="3.7" fill="#70ffa0"/><ellipse cx="225" cy="766" rx="7.3" ry="7.3" fill="#0058ff"/><ellipse cx="225" cy="766" rx="5.7" ry="5.7" fill="#00d8ff"/><ellipse cx="225" cy="766" rx="3.7" ry="3.7" fill="#70ffa0"/><ellipse cx="225.5" cy="1048.6" rx="7.3" ry="9.2" fill="#0058ff"/><ellipse cx="225.5" cy="1048.6" rx="5.7" ry="7.1" fill="#00d8ff"/><ellipse cx="225.5" cy="1048.6" rx="3.7" ry="4.6" fill="#70ffa0"/><ellipse cx="232" cy="1124" rx="18.3" ry="3.4" fill="#0040ff"/><ellipse cx="232" cy="1124" rx="11.0" ry="2.0" fill="#0090ff"/><ellipse cx="241.6" cy="1132.6" rx="8.5" ry="6.1" fill="#0058ff"/><ellipse cx="241.6" cy="1132.6" rx="6.8" ry="4.9" fill="#00d8ff"/><ellipse cx="241.6" cy="1132.6" rx="5.1" ry="3.7" fill="#90ff70"/><ellipse cx="241.6" cy="1132.6" rx="3.6" ry="2.6" fill="#f0ff10"/><ellipse cx="235" cy="1147" rx="8.5" ry="3.7" fill="#0040ff"/><ellipse cx="235" cy="1147" rx="5.1" ry="2.2" fill="#0090ff"/><ellipse cx="224.92595558485664" cy="241.5" rx="6.7" ry="2.7" fill="#0030f0" transform="rotate(32 224.92595558485664 241.5)"/><ellipse cx="224.92595558485664" cy="246.5" rx="6.7" ry="2.7" fill="#0030f0" transform="rotate(-32 224.92595558485664 246.5)"/><ellipse cx="225.35370330440216" cy="252.17212032184005" rx="6.7" ry="2.7" fill="#0040ff" transform="rotate(32 225.35370330440216 252.17212032184005)"/><ellipse cx="225.35370330440216" cy="252.17212032184005" rx="4.0" ry="1.6" fill="#0090ff" transform="rotate(32 225.35370330440216 252.17212032184005)"/><ellipse cx="225.35370330440216" cy="257.17212032184005" rx="6.7" ry="2.7" fill="#0040ff" transform="rotate(-32 225.35370330440216 257.17212032184005)"/><ellipse cx="225.35370330440216" cy="257.17212032184005" rx="4.0" ry="1.6" fill="#0090ff" transform="rotate(-32 225.35370330440216 257.17212032184005)"/><ellipse cx="227.654980113674" cy="262.03617771341567" rx="6.7" ry="2.7" fill="#0040ff" transform="rotate(32 227.654980113674 262.03617771341567)"/><ellipse cx="227.654980113674" cy="262.03617771341567" rx="4.0" ry="1.6" fill="#0090ff" transform="rotate(32 227.654980113674 262.03617771341567)"/><ellipse cx="227.654980113674" cy="267.03617771341567" rx="6.7" ry="2.7" fill="#0040ff" transform="rotate(-32 227.654980113674 267.03617771341567)"/><ellipse cx="227.654980113674" cy="267.03617771341567" rx="4.0" ry="1.6" fill="#0090ff" transform="rotate(-32 227.654980113674 267.03617771341567)"/><ellipse cx="227.51882462965148" cy="273.086002671966" rx="6.7" ry="2.7" fill="#0030f0" transform="rotate(32 227.51882462965148 273.086002671966)"/><ellipse cx="227.51882462965148" cy="278.086002671966" rx="6.7" ry="2.7" fill="#0030f0" transform="rotate(-32 227.51882462965148 278.086002671966)"/><ellipse cx="222.48485334228317" cy="282.14248806772673" rx="6.7" ry="2.7" fill="#0040ff" transform="rotate(32 222.48485334228317 282.14248806772673)"/><ellipse cx="222.48485334228317" cy="282.14248806772673" rx="4.0" ry="1.6" fill="#0090ff" transform="rotate(32 222.48485334228317 282.14248806772673)"/><ellipse cx="222.48485334228317" cy="287.14248806772673" rx="6.7" ry="2.7" fill="#0040ff" transform="rotate(-32 222.48485334228317 287.14248806772673)"/><ellipse cx="222.48485334228317" cy="287.14248806772673" rx="4.0" ry="1.6" fill="#0090ff" transform="rotate(-32 222.48485334228317 287.14248806772673)"/><ellipse cx="227.45046505055475" cy="342.5" rx="6.7" ry="2.7" fill="#0030f0" transform="rotate(32 227.45046505055475 342.5)"/><ellipse cx="227.45046505055475" cy="347.5" rx="6.7" ry="2.7" fill="#0030f0" transform="rotate(-32 227.45046505055475 347.5)"/><ellipse cx="227.9829284620852" cy="355.2756740761499" rx="6.7" ry="2.7" fill="#0030f0" transform="rotate(32 227.9829284620852 355.2756740761499)"/><ellipse cx="227.9829284620852" cy="360.2756740761499" rx="6.7" ry="2.7" fill="#0030f0" transform="rotate(-32 227.9829284620852 360.2756740761499)"/><ellipse cx="225.31123062292397" cy="368.2304250840258" rx="6.7" ry="2.7" fill="#0030f0" transform="rotate(32 225.31123062292397 368.2304250840258)"/><ellipse cx="225.31123062292397" cy="373.2304250840258" rx="6.7" ry="2.7" fill="#0030f0" transform="rotate(-32 225.31123062292397 373.2304250840258)"/><ellipse cx="224.7810455000614" cy="378.3667053213657" rx="6.7" ry="2.7" fill="#0030f0" transform="rotate(32 224.7810455000614 378.3667053213657)"/><ellipse cx="224.7810455000614" cy="383.3667053213657" rx="6.7" ry="2.7" fill="#0030f0" transform="rotate(-32 224.7810455000614 383.3667053213657)"/><ellipse cx="227.6637488198681" cy="391.1423669423346" rx="6.7" ry="2.7" fill="#0040ff" transform="rotate(32 227.6637488198681 391.1423669423346)"/><ellipse cx="227.6637488198681" cy="391.1423669423346" rx="4.0" ry="1.6" fill="#0090ff" transform="rotate(32 227.6637488198681 391.1423669423346)"/><ellipse cx="227.6637488198681" cy="396.1423669423346" rx="6.7" ry="2.7" fill="#0040ff" transform="rotate(-32 227.6637488198681 396.1423669423346)"/><ellipse cx="227.6637488198681" cy="396.1423669423346" rx="4.0" ry="1.6" fill="#0090ff" transform="rotate(-32 227.6637488198681 396.1423669423346)"/><ellipse cx="229.187152465601" cy="383.5" rx="6.7" ry="2.7" fill="#0040ff" transform="rotate(32 229.187152465601 383.5)"/><ellipse cx="229.187152465601" cy="383.5" rx="4.0" ry="1.6" fill="#0090ff" transform="rotate(32 229.187152465601 383.5)"/><ellipse cx="229.187152465601" cy="388.5" rx="6.7" ry="2.7" fill="#0040ff" transform="rotate(-32 229.187152465601 388.5)"/><ellipse cx="229.187152465601" cy="388.5" rx="4.0" ry="1.6" fill="#0090ff" transform="rotate(-32 229.187152465601 388.5)"/><ellipse cx="227.17189315801627" cy="394.35385558381313" rx="6.7" ry="2.7" fill="#0040ff" transform="rotate(32 227.17189315801627 394.35385558381313)"/><ellipse cx="227.17189315801627" cy="394.35385558381313" rx="4.0" ry="1.6" fill="#0090ff" transform="rotate(32 227.17189315801627 394.35385558381313)"/><ellipse cx="227.17189315801627" cy="399.35385558381313" rx="6.7" ry="2.7" fill="#0040ff" transform="rotate(-32 227.17189315801627 399.35385558381313)"/><ellipse cx="227.17189315801627" cy="399.35385558381313" rx="4.0" ry="1.6" fill="#0090ff" transform="rotate(-32 227.17189315801627 399.35385558381313)"/><ellipse cx="226.809402714617" cy="407.06186708370853" rx="6.7" ry="2.7" fill="#0050ff" transform="rotate(32 226.809402714617 407.06186708370853)"/><ellipse cx="226.809402714617" cy="407.06186708370853" rx="4.7" ry="1.9" fill="#00c8ff" transform="rotate(32 226.809402714617 407.06186708370853)"/><ellipse cx="226.809402714617" cy="412.06186708370853" rx="6.7" ry="2.7" fill="#0050ff" transform="rotate(-32 226.809402714617 412.06186708370853)"/><ellipse cx="226.809402714617" cy="412.06186708370853" rx="4.7" ry="1.9" fill="#00c8ff" transform="rotate(-32 226.809402714617 412.06186708370853)"/><ellipse cx="227.2895941217333" cy="418.16625744224325" rx="6.7" ry="2.7" fill="#0040ff" transform="rotate(32 227.2895941217333 418.16625744224325)"/><ellipse cx="227.2895941217333" cy="418.16625744224325" rx="4.0" ry="1.6" fill="#0090ff" transform="rotate(32 227.2895941217333 418.16625744224325)"/><ellipse cx="227.2895941217333" cy="423.16625744224325" rx="6.7" ry="2.7" fill="#0040ff" transform="rotate(-32 227.2895941217333 423.16625744224325)"/><ellipse cx="227.2895941217333" cy="423.16625744224325" rx="4.0" ry="1.6" fill="#0090ff" transform="rotate(-32 227.2895941217333 423.16625744224325)"/><ellipse cx="229.46181544945867" cy="431.9468349896405" rx="6.7" ry="2.7" fill="#0040ff" transform="rotate(32 229.46181544945867 431.9468349896405)"/><ellipse cx="229.46181544945867" cy="431.9468349896405" rx="4.0" ry="1.6" fill="#0090ff" transform="rotate(32 229.46181544945867 431.9468349896405)"/><ellipse cx="229.46181544945867" cy="436.9468349896405" rx="6.7" ry="2.7" fill="#0040ff" transform="rotate(-32 229.46181544945867 436.9468349896405)"/><ellipse cx="229.46181544945867" cy="436.9468349896405" rx="4.0" ry="1.6" fill="#0090ff" transform="rotate(-32 229.46181544945867 436.9468349896405)"/><ellipse cx="224.8573450961773" cy="443.28108385052997" rx="6.7" ry="2.7" fill="#0040ff" transform="rotate(32 224.8573450961773 443.28108385052997)"/><ellipse cx="224.8573450961773" cy="443.28108385052997" rx="4.0" ry="1.6" fill="#0090ff" transform="rotate(32 224.8573450961773 443.28108385052997)"/><ellipse cx="224.8573450961773" cy="448.28108385052997" rx="6.7" ry="2.7" fill="#0040ff" transform="rotate(-32 224.8573450961773 448.28108385052997)"/><ellipse cx="224.8573450961773" cy="448.28108385052997" rx="4.0" ry="1.6" fill="#0090ff" transform="rotate(-32 224.8573450961773 448.28108385052997)"/><ellipse cx="225.4075559630142" cy="455.6863854082778" rx="6.7" ry="2.7" fill="#0030f0" transform="rotate(32 225.4075559630142 455.6863854082778)"/><ellipse cx="225.4075559630142" cy="460.6863854082778" rx="6.7" ry="2.7" fill="#0030f0" transform="rotate(-32 225.4075559630142 460.6863854082778)"/><ellipse cx="226.04391106632758" cy="469.87905519169567" rx="6.7" ry="2.7" fill="#0030f0" transform="rotate(32 226.04391106632758 469.87905519169567)"/><ellipse cx="226.04391106632758" cy="474.87905519169567" rx="6.7" ry="2.7" fill="#0030f0" transform="rotate(-32 226.04391106632758 474.87905519169567)"/><ellipse cx="226.22566295388265" cy="484.1970885725415" rx="6.7" ry="2.7" fill="#0030f0" transform="rotate(32 226.22566295388265 484.1970885725415)"/><ellipse cx="226.22566295388265" cy="489.1970885725415" rx="6.7" ry="2.7" fill="#0030f0" transform="rotate(-32 226.22566295388265 489.1970885725415)"/><ellipse cx="224.18784964709613" cy="496.6348984388087" rx="6.7" ry="2.7" fill="#0050ff" transform="rotate(32 224.18784964709613 496.6348984388087)"/><ellipse cx="224.18784964709613" cy="496.6348984388087" rx="4.7" ry="1.9" fill="#00c8ff" transform="rotate(32 224.18784964709613 496.6348984388087)"/><ellipse cx="224.18784964709613" cy="501.6348984388087" rx="6.7" ry="2.7" fill="#0050ff" transform="rotate(-32 224.18784964709613 501.6348984388087)"/><ellipse cx="224.18784964709613" cy="501.6348984388087" rx="4.7" ry="1.9" fill="#00c8ff" transform="rotate(-32 224.18784964709613 501.6348984388087)"/><ellipse cx="224.0198239418922" cy="507.5079485669987" rx="6.7" ry="2.7" fill="#0030f0" transform="rotate(32 224.0198239418922 507.5079485669987)"/><ellipse cx="224.0198239418922" cy="512.5079485669987" rx="6.7" ry="2.7" fill="#0030f0" transform="rotate(-32 224.0198239418922 512.5079485669987)"/><ellipse cx="228.00062897996835" cy="518.2884151101496" rx="6.7" ry="2.7" fill="#0040ff" transform="rotate(32 228.00062897996835 518.2884151101496)"/><ellipse cx="228.00062897996835" cy="518.2884151101496" rx="4.0" ry="1.6" fill="#0090ff" transform="rotate(32 228.00062897996835 518.2884151101496)"/><ellipse cx="228.00062897996835" cy="523.2884151101496" rx="6.7" ry="2.7" fill="#0040ff" transform="rotate(-32 228.00062897996835 523.2884151101496)"/><ellipse cx="228.00062897996835" cy="523.2884151101496" rx="4.0" ry="1.6" fill="#0090ff" transform="rotate(-32 228.00062897996835 523.2884151101496)"/><ellipse cx="225.26474151527682" cy="530.0629797207646" rx="6.7" ry="2.7" fill="#0040ff" transform="rotate(32 225.26474151527682 530.0629797207646)"/><ellipse cx="225.26474151527682" cy="530.0629797207646" rx="4.0" ry="1.6" fill="#0090ff" transform="rotate(32 225.26474151527682 530.0629797207646)"/><ellipse cx="225.26474151527682" cy="535.0629797207646" rx="6.7" ry="2.7" fill="#0040ff" transform="rotate(-32 225.26474151527682 535.0629797207646)"/><ellipse cx="225.26474151527682" cy="535.0629797207646" rx="4.0" ry="1.6" fill="#0090ff" transform="rotate(-32 225.26474151527682 535.0629797207646)"/><ellipse cx="229.83561018474037" cy="541.2433471198162" rx="6.7" ry="2.7" fill="#0050ff" transform="rotate(32 229.83561018474037 541.2433471198162)"/><ellipse cx="229.83561018474037" cy="541.2433471198162" rx="4.7" ry="1.9" fill="#00c8ff" transform="rotate(32 229.83561018474037 541.2433471198162)"/><ellipse cx="229.83561018474037" cy="546.2433471198162" rx="6.7" ry="2.7" fill="#0050ff" transform="rotate(-32 229.83561018474037 546.2433471198162)"/><ellipse cx="229.83561018474037" cy="546.2433471198162" rx="4.7" ry="1.9" fill="#00c8ff" transform="rotate(-32 229.83561018474037 546.2433471198162)"/><ellipse cx="225.72035787793183" cy="553.0728599050905" rx="6.7" ry="2.7" fill="#0050ff" transform="rotate(32 225.72035787793183 553.0728599050905)"/><ellipse cx="225.72035787793183" cy="553.0728599050905" rx="4.7" ry="1.9" fill="#00c8ff" transform="rotate(32 225.72035787793183 553.0728599050905)"/><ellipse cx="225.72035787793183" cy="558.0728599050905" rx="6.7" ry="2.7" fill="#0050ff" transform="rotate(-32 225.72035787793183 558.0728599050905)"/><ellipse cx="225.72035787793183" cy="558.0728599050905" rx="4.7" ry="1.9" fill="#00c8ff" transform="rotate(-32 225.72035787793183 558.0728599050905)"/><ellipse cx="229.4391301125363" cy="564.2476295470157" rx="6.7" ry="2.7" fill="#0040ff" transform="rotate(32 229.4391301125363 564.2476295470157)"/><ellipse cx="229.4391301125363" cy="564.2476295470157" rx="4.0" ry="1.6" fill="#0090ff" transform="rotate(32 229.4391301125363 564.2476295470157)"/><ellipse cx="229.4391301125363" cy="569.2476295470157" rx="6.7" ry="2.7" fill="#0040ff" transform="rotate(-32 229.4391301125363 569.2476295470157)"/><ellipse cx="229.4391301125363" cy="569.2476295470157" rx="4.0" ry="1.6" fill="#0090ff" transform="rotate(-32 229.4391301125363 569.2476295470157)"/></g></g>
<use href="#anib" transform="translate(72.4,0)"/>
<path d="M218.8,150 C219,400 219.2,700 218.6,880 C218,980 214.8,1040 214.6,1148" fill="none" stroke="#f0ecff" stroke-width="2.1" stroke-dasharray="0.6 5.7" stroke-linecap="round" opacity="0.85"/>
</g>
<defs><linearGradient id="imgbg" x1="0" x2="1" y1="0" y2="0">
<stop offset="0" stop-color="#40e8aa"/><stop offset="0.06" stop-color="#4ceca2"/><stop offset="0.12" stop-color="#78f688"/>
<stop offset="0.2" stop-color="#a4ff5c"/><stop offset="0.3" stop-color="#88fc7a"/><stop offset="0.45" stop-color="#9cff66"/>
<stop offset="0.55" stop-color="#86fa7c"/><stop offset="0.7" stop-color="#80f882"/><stop offset="0.8" stop-color="#9cff66"/>
<stop offset="0.88" stop-color="#6cf290"/><stop offset="0.94" stop-color="#4ceca2"/><stop offset="1" stop-color="#40e8aa"/></linearGradient>
<filter id="sp" x="-20%" y="-20%" width="140%" height="140%"><feGaussianBlur stdDeviation="0.9"/></filter>
<filter id="sp2" x="-50%" y="-50%" width="200%" height="200%"><feGaussianBlur stdDeviation="6"/></filter>
<clipPath id="imgclip"><rect x="355.5" y="146" width="217" height="1004.5"/></clipPath></defs>
<g clip-path="url(#imgclip)">
<rect x="355.5" y="146" width="217.0" height="1004.5" fill="url(#imgbg)"/>
<g filter="url(#sp2)" opacity="0.45"><ellipse cx="457" cy="523" rx="7" ry="55" fill="#d8ff30"/><ellipse cx="431" cy="614" rx="7" ry="50" fill="#b0ff50"/><ellipse cx="489" cy="191" rx="7" ry="68" fill="#60f0a0"/><ellipse cx="560" cy="573" rx="8" ry="30" fill="#d8ff30"/><ellipse cx="466" cy="1074" rx="7" ry="56" fill="#b0ff50"/><ellipse cx="526" cy="1037" rx="8" ry="35" fill="#50f0a0"/><ellipse cx="527" cy="1040" rx="13" ry="43" fill="#50f0a0"/><ellipse cx="432" cy="193" rx="13" ry="27" fill="#c8ff40"/><ellipse cx="440" cy="642" rx="8" ry="58" fill="#c8ff40"/><ellipse cx="539" cy="1114" rx="7" ry="51" fill="#c8ff40"/><ellipse cx="548" cy="353" rx="13" ry="31" fill="#c8ff40"/><ellipse cx="553" cy="651" rx="10" ry="66" fill="#b0ff50"/><ellipse cx="448" cy="548" rx="12" ry="32" fill="#c8ff40"/><ellipse cx="557" cy="870" rx="6" ry="50" fill="#c8ff40"/><ellipse cx="487" cy="299" rx="12" ry="51" fill="#50f0a0"/><ellipse cx="367" cy="1019" rx="14" ry="36" fill="#60f0a0"/><ellipse cx="488" cy="193" rx="13" ry="48" fill="#50f0a0"/><ellipse cx="479" cy="838" rx="7" ry="65" fill="#50f0a0"/><ellipse cx="437" cy="360" rx="14" ry="51" fill="#d8ff30"/><ellipse cx="364" cy="949" rx="6" ry="30" fill="#50f0a0"/><ellipse cx="407" cy="420" rx="8" ry="38" fill="#c8ff40"/><ellipse cx="469" cy="205" rx="12" ry="61" fill="#60f0a0"/><ellipse cx="464" cy="859" rx="11" ry="28" fill="#d8ff30"/><ellipse cx="496" cy="246" rx="10" ry="68" fill="#60f0a0"/><ellipse cx="478" cy="289" rx="7" ry="63" fill="#50f0a0"/><ellipse cx="414" cy="201" rx="8" ry="32" fill="#d8ff30"/><ellipse cx="385" cy="298" rx="6" ry="34" fill="#c8ff40"/><ellipse cx="442" cy="762" rx="8" ry="47" fill="#50f0a0"/><ellipse cx="418" cy="1112" rx="8" ry="30" fill="#b0ff50"/><ellipse cx="448" cy="293" rx="12" ry="42" fill="#b0ff50"/><ellipse cx="546" cy="319" rx="12" ry="65" fill="#50f0a0"/><ellipse cx="464" cy="249" rx="8" ry="31" fill="#c8ff40"/><ellipse cx="528" cy="970" rx="12" ry="35" fill="#d8ff30"/><ellipse cx="363" cy="326" rx="11" ry="50" fill="#60f0a0"/><ellipse cx="377" cy="699" rx="14" ry="49" fill="#b0ff50"/><ellipse cx="558" cy="179" rx="13" ry="49" fill="#b0ff50"/><ellipse cx="470" cy="687" rx="13" ry="51" fill="#c8ff40"/><ellipse cx="561" cy="214" rx="12" ry="30" fill="#d8ff30"/><ellipse cx="507" cy="604" rx="13" ry="58" fill="#60f0a0"/><ellipse cx="503" cy="179" rx="13" ry="35" fill="#d8ff30"/></g>
<g filter="url(#sp2)" opacity="0.38"><ellipse cx="406.5" cy="185.0" rx="42.2" ry="13.2" transform="rotate(87.5 406.5 185.0)" fill="#e8ff30"/><ellipse cx="410.0" cy="255.0" rx="42.3" ry="13.2" transform="rotate(86.7 410.0 255.0)" fill="#e8ff30"/><ellipse cx="416.0" cy="310.0" rx="27.6" ry="13.2" transform="rotate(78.7 416.0 310.0)" fill="#e8ff30"/><ellipse cx="433.0" cy="372.5" rx="34.0" ry="11.0" transform="rotate(79.7 433.0 372.5)" fill="#e8ff30"/><ellipse cx="441.5" cy="425.0" rx="31.2" ry="11.0" transform="rotate(82.0 441.5 425.0)" fill="#e8ff30"/><ellipse cx="457.5" cy="478.0" rx="36.4" ry="24.2" transform="rotate(71.2 457.5 478.0)" fill="#e8ff30"/><ellipse cx="468.5" cy="522.0" rx="35.5" ry="24.2" transform="rotate(81.0 468.5 522.0)" fill="#e8ff30"/><ellipse cx="423.0" cy="472.0" rx="7.0" ry="5.5" transform="rotate(90.0 423.0 472.0)" fill="#e8ff30"/><ellipse cx="550.0" cy="370.0" rx="28.5" ry="15.4" transform="rotate(84.3 550.0 370.0)" fill="#e8ff30"/><ellipse cx="550.0" cy="410.0" rx="28.5" ry="15.4" transform="rotate(95.7 550.0 410.0)" fill="#e8ff30"/><ellipse cx="546.5" cy="450.0" rx="28.5" ry="15.4" transform="rotate(94.3 546.5 450.0)" fill="#e8ff30"/><ellipse cx="523.5" cy="390.0" rx="36.0" ry="11.0" transform="rotate(87.1 523.5 390.0)" fill="#e8ff30"/><ellipse cx="527.5" cy="445.0" rx="31.1" ry="11.0" transform="rotate(84.3 527.5 445.0)" fill="#e8ff30"/><ellipse cx="534.0" cy="515.0" rx="41.0" ry="11.0" transform="rotate(88.4 534.0 515.0)" fill="#e8ff30"/><ellipse cx="412.5" cy="560.0" rx="31.0" ry="17.6" transform="rotate(69.4 412.5 560.0)" fill="#e8ff30"/><ellipse cx="425.0" cy="597.5" rx="27.8" ry="17.6" transform="rotate(74.1 425.0 597.5)" fill="#e8ff30"/><ellipse cx="463.5" cy="577.5" rx="28.5" ry="11.0" transform="rotate(86.2 463.5 577.5)" fill="#e8ff30"/><ellipse cx="453.0" cy="616.5" rx="18.0" ry="7.7" transform="rotate(77.5 453.0 616.5)" fill="#e8ff30"/><ellipse cx="460.0" cy="645.0" rx="19.7" ry="7.7" transform="rotate(75.1 460.0 645.0)" fill="#e8ff30"/><ellipse cx="467.0" cy="675.0" rx="19.5" ry="7.7" transform="rotate(78.7 467.0 675.0)" fill="#e8ff30"/><ellipse cx="457.0" cy="625.0" rx="33.9" ry="15.4" transform="rotate(78.7 457.0 625.0)" fill="#e8ff30"/><ellipse cx="467.0" cy="675.0" rx="33.9" ry="15.4" transform="rotate(78.7 467.0 675.0)" fill="#e8ff30"/><ellipse cx="532.5" cy="660.0" rx="29.2" ry="16.5" transform="rotate(97.1 532.5 660.0)" fill="#e8ff30"/><ellipse cx="532.5" cy="700.0" rx="29.2" ry="16.5" transform="rotate(82.9 532.5 700.0)" fill="#e8ff30"/><ellipse cx="530.0" cy="736.5" rx="26.2" ry="16.5" transform="rotate(106.9 530.0 736.5)" fill="#e8ff30"/><ellipse cx="407.0" cy="756.0" rx="20.9" ry="11.0" transform="rotate(70.3 407.0 756.0)" fill="#e8ff30"/><ellipse cx="415.0" cy="785.0" rx="21.3" ry="11.0" transform="rotate(78.7 415.0 785.0)" fill="#e8ff30"/><ellipse cx="414.0" cy="815.0" rx="21.5" ry="11.0" transform="rotate(104.9 414.0 815.0)" fill="#e8ff30"/><ellipse cx="407.0" cy="852.5" rx="22.3" ry="8.8" transform="rotate(93.3 407.0 852.5)" fill="#e8ff30"/><ellipse cx="405.0" cy="885.0" rx="19.8" ry="8.8" transform="rotate(93.8 405.0 885.0)" fill="#e8ff30"/><ellipse cx="451.0" cy="762.0" rx="14.8" ry="6.6" transform="rotate(63.4 451.0 762.0)" fill="#e8ff30"/><ellipse cx="412.0" cy="932.5" rx="10.5" ry="5.5" transform="rotate(90.0 412.0 932.5)" fill="#e8ff30"/><ellipse cx="491.0" cy="940.0" rx="26.8" ry="7.7" transform="rotate(77.2 491.0 940.0)" fill="#e8ff30"/><ellipse cx="499.5" cy="991.0" rx="33.4" ry="7.7" transform="rotate(83.1 499.5 991.0)" fill="#e8ff30"/><ellipse cx="504.0" cy="1034.0" rx="18.2" ry="7.7" transform="rotate(85.9 504.0 1034.0)" fill="#e8ff30"/><ellipse cx="508.5" cy="1069.0" rx="25.5" ry="7.7" transform="rotate(80.5 508.5 1069.0)" fill="#e8ff30"/><ellipse cx="514.5" cy="1107.5" rx="21.9" ry="7.7" transform="rotate(81.9 514.5 1107.5)" fill="#e8ff30"/><ellipse cx="492.0" cy="947.5" rx="42.6" ry="17.6" transform="rotate(79.5 492.0 947.5)" fill="#e8ff30"/><ellipse cx="502.0" cy="1015.0" rx="44.8" ry="17.6" transform="rotate(83.5 502.0 1015.0)" fill="#e8ff30"/><ellipse cx="512.0" cy="1095.0" rx="55.0" ry="17.6" transform="rotate(82.4 512.0 1095.0)" fill="#e8ff30"/><ellipse cx="563.0" cy="1060.0" rx="14.6" ry="7.7" transform="rotate(73.3 563.0 1060.0)" fill="#e8ff30"/><ellipse cx="568.5" cy="1077.5" rx="12.1" ry="7.7" transform="rotate(71.6 568.5 1077.5)" fill="#e8ff30"/><ellipse cx="561.0" cy="950.0" rx="54.8" ry="8.8" transform="rotate(88.9 561.0 950.0)" fill="#e8ff30"/></g>
<g filter="url(#sp)"><ellipse cx="405.1" cy="197.9" rx="4.6" ry="2.1" transform="rotate(-35 405.1 197.9)" fill="#f4ff20"/><ellipse cx="398.8" cy="175.3" rx="5.1" ry="2.3" transform="rotate(23 398.8 175.3)" fill="#f4ff20"/><ellipse cx="407.3" cy="177.9" rx="3.4" ry="2.0" transform="rotate(-30 407.3 177.9)" fill="#f4ff20"/><ellipse cx="413.5" cy="215.4" rx="4.2" ry="2.7" transform="rotate(-10 413.5 215.4)" fill="#f4ff20"/><ellipse cx="407.3" cy="196.0" rx="3.3" ry="2.5" transform="rotate(36 407.3 196.0)" fill="#f4ff20"/><ellipse cx="413.6" cy="153.7" rx="3.5" ry="3.3" transform="rotate(8 413.6 153.7)" fill="#f4ff20"/><ellipse cx="410.2" cy="166.0" rx="5.2" ry="3.5" transform="rotate(23 410.2 166.0)" fill="#f4ff20"/><ellipse cx="400.2" cy="165.9" rx="5.3" ry="2.5" transform="rotate(-23 400.2 165.9)" fill="#f4ff20"/><ellipse cx="397.8" cy="170.0" rx="4.1" ry="2.1" transform="rotate(-8 397.8 170.0)" fill="#f4ff20"/><ellipse cx="409.6" cy="175.0" rx="4.9" ry="2.9" transform="rotate(-29 409.6 175.0)" fill="#f4ff20"/><ellipse cx="403.5" cy="195.6" rx="5.1" ry="3.3" transform="rotate(19 403.5 195.6)" fill="#f4ff20"/><ellipse cx="400.4" cy="164.3" rx="4.4" ry="2.6" transform="rotate(29 400.4 164.3)" fill="#f4ff20"/><ellipse cx="409.6" cy="170.6" rx="4.9" ry="2.3" transform="rotate(3 409.6 170.6)" fill="#f4ff20"/><ellipse cx="418.7" cy="155.3" rx="3.2" ry="2.0" transform="rotate(-32 418.7 155.3)" fill="#f4ff20"/><ellipse cx="416.2" cy="207.6" rx="5.4" ry="2.7" transform="rotate(-29 416.2 207.6)" fill="#f4ff20"/><ellipse cx="404.1" cy="199.5" rx="3.9" ry="2.1" transform="rotate(9 404.1 199.5)" fill="#f4ff20"/><ellipse cx="406.9" cy="210.7" rx="2.8" ry="2.6" transform="rotate(29 406.9 210.7)" fill="#f4ff20"/><ellipse cx="415.5" cy="195.6" rx="3.2" ry="2.6" transform="rotate(14 415.5 195.6)" fill="#f4ff20"/><ellipse cx="400.8" cy="169.1" rx="4.6" ry="2.7" transform="rotate(34 400.8 169.1)" fill="#f4ff20"/><ellipse cx="409.1" cy="155.0" rx="3.0" ry="2.0" transform="rotate(-23 409.1 155.0)" fill="#f4ff20"/><ellipse cx="410.1" cy="187.2" rx="4.8" ry="2.5" transform="rotate(28 410.1 187.2)" fill="#f4ff20"/><ellipse cx="416.8" cy="218.7" rx="2.9" ry="3.2" transform="rotate(-8 416.8 218.7)" fill="#f4ff20"/><ellipse cx="396.0" cy="178.6" rx="5.5" ry="3.5" transform="rotate(-33 396.0 178.6)" fill="#f4ff20"/><ellipse cx="402.3" cy="253.0" rx="2.9" ry="3.3" transform="rotate(6 402.3 253.0)" fill="#f4ff20"/><ellipse cx="411.2" cy="232.6" rx="3.6" ry="1.8" transform="rotate(-8 411.2 232.6)" fill="#f4ff20"/><ellipse cx="396.3" cy="276.0" rx="3.2" ry="2.0" transform="rotate(6 396.3 276.0)" fill="#f4ff20"/><ellipse cx="405.2" cy="231.9" rx="5.3" ry="3.2" transform="rotate(34 405.2 231.9)" fill="#f4ff20"/><ellipse cx="397.5" cy="234.1" rx="3.6" ry="2.6" transform="rotate(-26 397.5 234.1)" fill="#f4ff20"/><ellipse cx="411.2" cy="286.7" rx="2.9" ry="2.7" transform="rotate(-15 411.2 286.7)" fill="#f4ff20"/><ellipse cx="411.7" cy="279.9" rx="3.1" ry="2.3" transform="rotate(-22 411.7 279.9)" fill="#f4ff20"/><ellipse cx="399.5" cy="228.9" rx="4.7" ry="2.3" transform="rotate(33 399.5 228.9)" fill="#f4ff20"/><ellipse cx="419.9" cy="259.3" rx="2.9" ry="1.8" transform="rotate(27 419.9 259.3)" fill="#f4ff20"/><ellipse cx="406.0" cy="271.7" rx="3.0" ry="3.0" transform="rotate(17 406.0 271.7)" fill="#f4ff20"/><ellipse cx="419.1" cy="286.9" rx="5.3" ry="2.4" transform="rotate(13 419.1 286.9)" fill="#f4ff20"/><ellipse cx="407.3" cy="255.5" rx="5.0" ry="1.9" transform="rotate(30 407.3 255.5)" fill="#f4ff20"/><ellipse cx="409.5" cy="276.2" rx="4.1" ry="1.9" transform="rotate(36 409.5 276.2)" fill="#f4ff20"/><ellipse cx="413.3" cy="248.2" rx="5.2" ry="2.9" transform="rotate(-6 413.3 248.2)" fill="#f4ff20"/><ellipse cx="413.6" cy="232.1" rx="3.1" ry="2.8" transform="rotate(-24 413.6 232.1)" fill="#f4ff20"/><ellipse cx="410.0" cy="250.4" rx="4.8" ry="3.1" transform="rotate(-3 410.0 250.4)" fill="#f4ff20"/><ellipse cx="405.8" cy="259.6" rx="4.0" ry="3.1" transform="rotate(18 405.8 259.6)" fill="#f4ff20"/><ellipse cx="400.4" cy="225.6" rx="3.2" ry="2.9" transform="rotate(16 400.4 225.6)" fill="#f4ff20"/><ellipse cx="417.5" cy="256.5" rx="3.6" ry="3.0" transform="rotate(-34 417.5 256.5)" fill="#f4ff20"/><ellipse cx="408.6" cy="284.3" rx="2.7" ry="3.3" transform="rotate(1 408.6 284.3)" fill="#f4ff20"/><ellipse cx="405.3" cy="307.3" rx="5.1" ry="2.0" transform="rotate(38 405.3 307.3)" fill="#f4ff20"/><ellipse cx="419.3" cy="332.0" rx="5.2" ry="1.9" transform="rotate(-7 419.3 332.0)" fill="#f4ff20"/><ellipse cx="418.2" cy="306.0" rx="3.4" ry="3.2" transform="rotate(31 418.2 306.0)" fill="#f4ff20"/><ellipse cx="412.1" cy="291.0" rx="5.5" ry="1.9" transform="rotate(21 412.1 291.0)" fill="#f4ff20"/><ellipse cx="418.5" cy="324.5" rx="4.9" ry="3.5" transform="rotate(20 418.5 324.5)" fill="#f4ff20"/><ellipse cx="410.0" cy="309.2" rx="3.5" ry="2.2" transform="rotate(16 410.0 309.2)" fill="#f4ff20"/><ellipse cx="423.7" cy="300.0" rx="2.8" ry="2.8" transform="rotate(-29 423.7 300.0)" fill="#f4ff20"/><ellipse cx="407.2" cy="307.9" rx="4.4" ry="3.2" transform="rotate(-29 407.2 307.9)" fill="#f4ff20"/><ellipse cx="412.9" cy="309.6" rx="5.5" ry="3.4" transform="rotate(10 412.9 309.6)" fill="#f4ff20"/><ellipse cx="411.0" cy="299.7" rx="5.2" ry="2.2" transform="rotate(-27 411.0 299.7)" fill="#f4ff20"/><ellipse cx="421.7" cy="323.8" rx="5.5" ry="3.0" transform="rotate(-26 421.7 323.8)" fill="#f4ff20"/><ellipse cx="415.2" cy="292.3" rx="4.8" ry="2.8" transform="rotate(-2 415.2 292.3)" fill="#f4ff20"/><ellipse cx="413.6" cy="309.5" rx="4.2" ry="2.2" transform="rotate(-11 413.6 309.5)" fill="#f4ff20"/><ellipse cx="430.3" cy="392.8" rx="2.7" ry="3.1" transform="rotate(30 430.3 392.8)" fill="#f4ff20"/><ellipse cx="428.4" cy="346.8" rx="3.9" ry="1.8" transform="rotate(-2 428.4 346.8)" fill="#f4ff20"/><ellipse cx="436.1" cy="391.1" rx="3.3" ry="3.2" transform="rotate(12 436.1 391.1)" fill="#f4ff20"/><ellipse cx="420.5" cy="377.1" rx="5.5" ry="2.1" transform="rotate(-32 420.5 377.1)" fill="#f4ff20"/><ellipse cx="439.3" cy="357.7" rx="4.5" ry="2.2" transform="rotate(-11 439.3 357.7)" fill="#f4ff20"/><ellipse cx="432.1" cy="387.7" rx="3.2" ry="1.8" transform="rotate(16 432.1 387.7)" fill="#f4ff20"/><ellipse cx="426.8" cy="378.3" rx="2.9" ry="2.1" transform="rotate(-29 426.8 378.3)" fill="#f4ff20"/><ellipse cx="440.8" cy="434.3" rx="5.0" ry="2.5" transform="rotate(-0 440.8 434.3)" fill="#f4ff20"/><ellipse cx="444.8" cy="409.8" rx="3.4" ry="2.5" transform="rotate(-2 444.8 409.8)" fill="#f4ff20"/><ellipse cx="440.8" cy="419.5" rx="4.8" ry="2.0" transform="rotate(26 440.8 419.5)" fill="#f4ff20"/><ellipse cx="438.0" cy="407.3" rx="3.6" ry="2.5" transform="rotate(36 438.0 407.3)" fill="#f4ff20"/><ellipse cx="440.0" cy="403.7" rx="4.5" ry="1.9" transform="rotate(35 440.0 403.7)" fill="#f4ff20"/><ellipse cx="441.5" cy="436.7" rx="3.5" ry="2.2" transform="rotate(-19 441.5 436.7)" fill="#f4ff20"/><ellipse cx="457.7" cy="496.9" rx="2.9" ry="2.5" transform="rotate(-6 457.7 496.9)" fill="#f4ff20"/><ellipse cx="441.1" cy="459.3" rx="4.2" ry="2.0" transform="rotate(-26 441.1 459.3)" fill="#f4ff20"/><ellipse cx="452.0" cy="489.9" rx="5.0" ry="2.9" transform="rotate(36 452.0 489.9)" fill="#f4ff20"/><ellipse cx="446.0" cy="491.6" rx="3.3" ry="2.0" transform="rotate(-9 446.0 491.6)" fill="#f4ff20"/><ellipse cx="443.4" cy="473.4" rx="4.2" ry="3.0" transform="rotate(34 443.4 473.4)" fill="#f4ff20"/><ellipse cx="445.9" cy="469.5" rx="5.6" ry="2.4" transform="rotate(0 445.9 469.5)" fill="#f4ff20"/><ellipse cx="443.1" cy="468.9" rx="2.9" ry="3.1" transform="rotate(26 443.1 468.9)" fill="#f4ff20"/><ellipse cx="456.7" cy="471.8" rx="4.5" ry="3.4" transform="rotate(14 456.7 471.8)" fill="#f4ff20"/><ellipse cx="467.0" cy="452.4" rx="5.0" ry="2.9" transform="rotate(12 467.0 452.4)" fill="#f4ff20"/><ellipse cx="465.0" cy="472.8" rx="2.9" ry="3.1" transform="rotate(22 465.0 472.8)" fill="#f4ff20"/><ellipse cx="465.2" cy="492.2" rx="3.6" ry="3.3" transform="rotate(-40 465.2 492.2)" fill="#f4ff20"/><ellipse cx="445.6" cy="467.1" rx="3.1" ry="2.1" transform="rotate(-22 445.6 467.1)" fill="#f4ff20"/><ellipse cx="477.9" cy="479.2" rx="4.7" ry="2.4" transform="rotate(28 477.9 479.2)" fill="#f4ff20"/><ellipse cx="457.1" cy="459.5" rx="4.4" ry="2.9" transform="rotate(3 457.1 459.5)" fill="#f4ff20"/><ellipse cx="473.7" cy="488.4" rx="4.6" ry="1.9" transform="rotate(17 473.7 488.4)" fill="#f4ff20"/><ellipse cx="462.1" cy="485.3" rx="4.8" ry="2.7" transform="rotate(17 462.1 485.3)" fill="#f4ff20"/><ellipse cx="457.7" cy="456.6" rx="5.1" ry="1.8" transform="rotate(-24 457.7 456.6)" fill="#f4ff20"/><ellipse cx="455.8" cy="479.8" rx="2.8" ry="1.8" transform="rotate(27 455.8 479.8)" fill="#f4ff20"/><ellipse cx="453.0" cy="468.4" rx="5.4" ry="1.8" transform="rotate(8 453.0 468.4)" fill="#f4ff20"/><ellipse cx="464.3" cy="495.0" rx="5.0" ry="2.0" transform="rotate(13 464.3 495.0)" fill="#f4ff20"/><ellipse cx="424.3" cy="455.8" rx="4.2" ry="3.4" transform="rotate(30 424.3 455.8)" fill="#f4ff20"/><ellipse cx="502.6" cy="502.4" rx="3.8" ry="2.1" transform="rotate(25 502.6 502.4)" fill="#f4ff20"/><ellipse cx="446.4" cy="482.5" rx="4.5" ry="2.0" transform="rotate(18 446.4 482.5)" fill="#f4ff20"/><ellipse cx="481.3" cy="468.2" rx="5.2" ry="3.1" transform="rotate(-6 481.3 468.2)" fill="#f4ff20"/><ellipse cx="454.6" cy="452.5" rx="4.6" ry="2.0" transform="rotate(37 454.6 452.5)" fill="#f4ff20"/><ellipse cx="476.4" cy="488.4" rx="4.1" ry="2.8" transform="rotate(35 476.4 488.4)" fill="#f4ff20"/><ellipse cx="431.7" cy="486.9" rx="5.1" ry="2.7" transform="rotate(21 431.7 486.9)" fill="#f4ff20"/><ellipse cx="449.3" cy="490.1" rx="4.7" ry="3.0" transform="rotate(-7 449.3 490.1)" fill="#f4ff20"/><ellipse cx="446.6" cy="456.1" rx="3.2" ry="3.3" transform="rotate(18 446.6 456.1)" fill="#f4ff20"/><ellipse cx="467.2" cy="492.5" rx="2.7" ry="3.5" transform="rotate(-26 467.2 492.5)" fill="#f4ff20"/><ellipse cx="454.5" cy="461.2" rx="4.7" ry="2.1" transform="rotate(-36 454.5 461.2)" fill="#f4ff20"/><ellipse cx="474.7" cy="484.4" rx="3.7" ry="2.6" transform="rotate(-37 474.7 484.4)" fill="#f4ff20"/><ellipse cx="437.5" cy="469.6" rx="3.1" ry="3.2" transform="rotate(-12 437.5 469.6)" fill="#f4ff20"/><ellipse cx="440.5" cy="492.3" rx="3.8" ry="3.5" transform="rotate(38 440.5 492.3)" fill="#f4ff20"/><ellipse cx="443.4" cy="479.7" rx="3.6" ry="3.4" transform="rotate(-6 443.4 479.7)" fill="#f4ff20"/><ellipse cx="453.3" cy="482.9" rx="3.0" ry="2.6" transform="rotate(2 453.3 482.9)" fill="#f4ff20"/><ellipse cx="463.2" cy="473.5" rx="5.0" ry="2.7" transform="rotate(-3 463.2 473.5)" fill="#f4ff20"/><ellipse cx="473.1" cy="475.6" rx="5.3" ry="2.8" transform="rotate(28 473.1 475.6)" fill="#f4ff20"/><ellipse cx="446.1" cy="471.9" rx="5.4" ry="2.5" transform="rotate(14 446.1 471.9)" fill="#f4ff20"/><ellipse cx="490.0" cy="543.4" rx="4.1" ry="1.8" transform="rotate(-0 490.0 543.4)" fill="#f4ff20"/><ellipse cx="470.6" cy="509.5" rx="5.6" ry="2.9" transform="rotate(21 470.6 509.5)" fill="#f4ff20"/><ellipse cx="478.5" cy="524.3" rx="4.6" ry="2.3" transform="rotate(9 478.5 524.3)" fill="#f4ff20"/><ellipse cx="458.5" cy="516.3" rx="5.1" ry="2.4" transform="rotate(-18 458.5 516.3)" fill="#f4ff20"/><ellipse cx="461.2" cy="500.3" rx="4.1" ry="2.4" transform="rotate(-23 461.2 500.3)" fill="#f4ff20"/><ellipse cx="480.3" cy="517.2" rx="5.8" ry="2.9" transform="rotate(36 480.3 517.2)" fill="#f4ff20"/><ellipse cx="442.3" cy="506.3" rx="4.0" ry="2.3" transform="rotate(9 442.3 506.3)" fill="#f4ff20"/><ellipse cx="464.8" cy="539.9" rx="3.5" ry="2.5" transform="rotate(11 464.8 539.9)" fill="#f4ff20"/><ellipse cx="481.1" cy="537.1" rx="5.2" ry="3.2" transform="rotate(23 481.1 537.1)" fill="#f4ff20"/><ellipse cx="462.2" cy="527.9" rx="3.8" ry="3.0" transform="rotate(30 462.2 527.9)" fill="#f4ff20"/><ellipse cx="466.7" cy="512.4" rx="3.3" ry="2.3" transform="rotate(-5 466.7 512.4)" fill="#f4ff20"/><ellipse cx="465.6" cy="519.4" rx="2.8" ry="2.0" transform="rotate(-17 465.6 519.4)" fill="#f4ff20"/><ellipse cx="468.2" cy="522.0" rx="4.0" ry="2.2" transform="rotate(17 468.2 522.0)" fill="#f4ff20"/><ellipse cx="474.9" cy="537.0" rx="2.9" ry="3.2" transform="rotate(32 474.9 537.0)" fill="#f4ff20"/><ellipse cx="479.8" cy="530.2" rx="5.4" ry="2.2" transform="rotate(-36 479.8 530.2)" fill="#f4ff20"/><ellipse cx="469.9" cy="523.8" rx="3.1" ry="2.4" transform="rotate(-5 469.9 523.8)" fill="#f4ff20"/><ellipse cx="449.0" cy="506.1" rx="3.9" ry="2.2" transform="rotate(6 449.0 506.1)" fill="#f4ff20"/><ellipse cx="468.2" cy="520.6" rx="3.0" ry="3.1" transform="rotate(36 468.2 520.6)" fill="#f4ff20"/><ellipse cx="464.9" cy="533.4" rx="4.2" ry="2.5" transform="rotate(26 464.9 533.4)" fill="#f4ff20"/><ellipse cx="464.5" cy="543.2" rx="5.5" ry="3.5" transform="rotate(38 464.5 543.2)" fill="#f4ff20"/><ellipse cx="476.5" cy="533.0" rx="3.4" ry="3.5" transform="rotate(-21 476.5 533.0)" fill="#f4ff20"/><ellipse cx="475.5" cy="529.7" rx="4.2" ry="1.8" transform="rotate(30 475.5 529.7)" fill="#f4ff20"/><ellipse cx="475.4" cy="526.9" rx="4.2" ry="2.3" transform="rotate(-19 475.4 526.9)" fill="#f4ff20"/><ellipse cx="469.0" cy="520.7" rx="3.9" ry="3.4" transform="rotate(21 469.0 520.7)" fill="#f4ff20"/><ellipse cx="487.2" cy="531.6" rx="4.8" ry="2.6" transform="rotate(-33 487.2 531.6)" fill="#f4ff20"/><ellipse cx="467.9" cy="522.8" rx="3.5" ry="1.8" transform="rotate(-36 467.9 522.8)" fill="#f4ff20"/><ellipse cx="467.8" cy="518.4" rx="5.1" ry="2.7" transform="rotate(6 467.8 518.4)" fill="#f4ff20"/><ellipse cx="473.0" cy="544.0" rx="4.9" ry="3.4" transform="rotate(-27 473.0 544.0)" fill="#f4ff20"/><ellipse cx="469.0" cy="535.5" rx="4.4" ry="3.3" transform="rotate(6 469.0 535.5)" fill="#f4ff20"/><ellipse cx="471.9" cy="521.0" rx="2.8" ry="3.0" transform="rotate(-5 471.9 521.0)" fill="#f4ff20"/><ellipse cx="450.3" cy="523.0" rx="5.4" ry="2.0" transform="rotate(26 450.3 523.0)" fill="#f4ff20"/><ellipse cx="477.2" cy="526.9" rx="3.0" ry="3.4" transform="rotate(2 477.2 526.9)" fill="#f4ff20"/><ellipse cx="464.0" cy="516.7" rx="4.8" ry="3.1" transform="rotate(29 464.0 516.7)" fill="#f4ff20"/><ellipse cx="465.5" cy="539.1" rx="4.8" ry="2.9" transform="rotate(-31 465.5 539.1)" fill="#f4ff20"/><ellipse cx="472.1" cy="531.4" rx="5.1" ry="3.1" transform="rotate(-18 472.1 531.4)" fill="#f4ff20"/><ellipse cx="474.3" cy="517.3" rx="5.5" ry="2.4" transform="rotate(13 474.3 517.3)" fill="#f4ff20"/><ellipse cx="422.6" cy="474.1" rx="5.6" ry="1.8" transform="rotate(-1 422.6 474.1)" fill="#f4ff20"/><ellipse cx="424.4" cy="473.2" rx="3.6" ry="3.2" transform="rotate(16 424.4 473.2)" fill="#f4ff20"/><ellipse cx="427.5" cy="475.2" rx="4.3" ry="3.4" transform="rotate(2 427.5 475.2)" fill="#f4ff20"/><ellipse cx="552.3" cy="385.2" rx="3.7" ry="2.7" transform="rotate(1 552.3 385.2)" fill="#f4ff20"/><ellipse cx="558.3" cy="376.1" rx="3.6" ry="3.1" transform="rotate(1 558.3 376.1)" fill="#f4ff20"/><ellipse cx="551.4" cy="369.3" rx="4.2" ry="3.4" transform="rotate(15 551.4 369.3)" fill="#f4ff20"/><ellipse cx="549.9" cy="360.9" rx="5.6" ry="3.2" transform="rotate(29 549.9 360.9)" fill="#f4ff20"/><ellipse cx="553.3" cy="355.6" rx="3.5" ry="2.4" transform="rotate(15 553.3 355.6)" fill="#f4ff20"/><ellipse cx="559.6" cy="374.3" rx="5.5" ry="2.5" transform="rotate(36 559.6 374.3)" fill="#f4ff20"/><ellipse cx="549.6" cy="379.8" rx="3.9" ry="2.4" transform="rotate(14 549.6 379.8)" fill="#f4ff20"/><ellipse cx="553.4" cy="387.2" rx="3.6" ry="2.1" transform="rotate(29 553.4 387.2)" fill="#f4ff20"/><ellipse cx="551.1" cy="367.0" rx="4.5" ry="3.4" transform="rotate(-6 551.1 367.0)" fill="#f4ff20"/><ellipse cx="560.5" cy="363.8" rx="2.8" ry="2.7" transform="rotate(16 560.5 363.8)" fill="#f4ff20"/><ellipse cx="554.5" cy="365.4" rx="4.2" ry="2.9" transform="rotate(-40 554.5 365.4)" fill="#f4ff20"/><ellipse cx="537.9" cy="371.3" rx="5.4" ry="2.6" transform="rotate(19 537.9 371.3)" fill="#f4ff20"/><ellipse cx="555.9" cy="375.3" rx="4.2" ry="2.5" transform="rotate(-18 555.9 375.3)" fill="#f4ff20"/><ellipse cx="543.0" cy="380.0" rx="5.1" ry="3.3" transform="rotate(-39 543.0 380.0)" fill="#f4ff20"/><ellipse cx="556.4" cy="381.8" rx="3.7" ry="3.3" transform="rotate(29 556.4 381.8)" fill="#f4ff20"/><ellipse cx="544.7" cy="367.3" rx="3.2" ry="2.3" transform="rotate(-25 544.7 367.3)" fill="#f4ff20"/><ellipse cx="551.0" cy="371.5" rx="3.4" ry="2.6" transform="rotate(-27 551.0 371.5)" fill="#f4ff20"/><ellipse cx="555.6" cy="369.2" rx="3.0" ry="2.0" transform="rotate(-14 555.6 369.2)" fill="#f4ff20"/><ellipse cx="555.3" cy="357.1" rx="3.8" ry="2.9" transform="rotate(33 555.3 357.1)" fill="#f4ff20"/><ellipse cx="553.2" cy="363.1" rx="4.9" ry="2.8" transform="rotate(-9 553.2 363.1)" fill="#f4ff20"/><ellipse cx="554.6" cy="355.3" rx="4.9" ry="3.4" transform="rotate(-3 554.6 355.3)" fill="#f4ff20"/><ellipse cx="554.0" cy="418.3" rx="3.1" ry="3.1" transform="rotate(5 554.0 418.3)" fill="#f4ff20"/><ellipse cx="552.8" cy="418.2" rx="4.2" ry="2.6" transform="rotate(-0 552.8 418.2)" fill="#f4ff20"/><ellipse cx="551.3" cy="409.6" rx="3.8" ry="3.4" transform="rotate(6 551.3 409.6)" fill="#f4ff20"/><ellipse cx="538.4" cy="417.6" rx="4.9" ry="3.2" transform="rotate(-39 538.4 417.6)" fill="#f4ff20"/><ellipse cx="548.9" cy="409.4" rx="5.0" ry="1.8" transform="rotate(13 548.9 409.4)" fill="#f4ff20"/><ellipse cx="555.6" cy="394.2" rx="4.9" ry="2.5" transform="rotate(1 555.6 394.2)" fill="#f4ff20"/><ellipse cx="556.4" cy="415.9" rx="2.8" ry="2.7" transform="rotate(0 556.4 415.9)" fill="#f4ff20"/><ellipse cx="558.3" cy="420.8" rx="3.8" ry="1.8" transform="rotate(27 558.3 420.8)" fill="#f4ff20"/><ellipse cx="568.4" cy="415.7" rx="4.6" ry="2.6" transform="rotate(23 568.4 415.7)" fill="#f4ff20"/><ellipse cx="549.0" cy="401.6" rx="4.3" ry="3.5" transform="rotate(-18 549.0 401.6)" fill="#f4ff20"/><ellipse cx="541.8" cy="419.0" rx="5.7" ry="2.0" transform="rotate(6 541.8 419.0)" fill="#f4ff20"/><ellipse cx="553.8" cy="408.9" rx="4.4" ry="3.3" transform="rotate(24 553.8 408.9)" fill="#f4ff20"/><ellipse cx="544.8" cy="403.3" rx="3.5" ry="2.4" transform="rotate(-20 544.8 403.3)" fill="#f4ff20"/><ellipse cx="546.4" cy="402.2" rx="4.6" ry="3.4" transform="rotate(36 546.4 402.2)" fill="#f4ff20"/><ellipse cx="551.8" cy="421.2" rx="3.8" ry="2.3" transform="rotate(-8 551.8 421.2)" fill="#f4ff20"/><ellipse cx="545.6" cy="424.2" rx="4.9" ry="2.1" transform="rotate(-4 545.6 424.2)" fill="#f4ff20"/><ellipse cx="558.0" cy="422.1" rx="4.0" ry="2.0" transform="rotate(10 558.0 422.1)" fill="#f4ff20"/><ellipse cx="555.6" cy="415.3" rx="5.5" ry="3.2" transform="rotate(-17 555.6 415.3)" fill="#f4ff20"/><ellipse cx="548.7" cy="403.0" rx="3.5" ry="2.1" transform="rotate(13 548.7 403.0)" fill="#f4ff20"/><ellipse cx="554.7" cy="389.1" rx="3.8" ry="2.8" transform="rotate(37 554.7 389.1)" fill="#f4ff20"/><ellipse cx="552.1" cy="393.2" rx="4.9" ry="2.4" transform="rotate(-26 552.1 393.2)" fill="#f4ff20"/><ellipse cx="546.3" cy="401.3" rx="3.5" ry="2.4" transform="rotate(-39 546.3 401.3)" fill="#f4ff20"/><ellipse cx="548.3" cy="452.2" rx="5.0" ry="3.0" transform="rotate(29 548.3 452.2)" fill="#f4ff20"/><ellipse cx="559.8" cy="448.3" rx="3.8" ry="1.8" transform="rotate(2 559.8 448.3)" fill="#f4ff20"/><ellipse cx="544.3" cy="439.6" rx="2.8" ry="1.9" transform="rotate(36 544.3 439.6)" fill="#f4ff20"/><ellipse cx="543.6" cy="445.9" rx="5.1" ry="3.3" transform="rotate(-20 543.6 445.9)" fill="#f4ff20"/><ellipse cx="544.7" cy="467.4" rx="3.5" ry="2.1" transform="rotate(-29 544.7 467.4)" fill="#f4ff20"/><ellipse cx="552.0" cy="452.9" rx="5.4" ry="3.5" transform="rotate(2 552.0 452.9)" fill="#f4ff20"/><ellipse cx="539.5" cy="451.2" rx="5.0" ry="2.8" transform="rotate(24 539.5 451.2)" fill="#f4ff20"/><ellipse cx="557.5" cy="466.2" rx="4.7" ry="3.2" transform="rotate(-35 557.5 466.2)" fill="#f4ff20"/><ellipse cx="541.5" cy="452.8" rx="4.8" ry="2.5" transform="rotate(2 541.5 452.8)" fill="#f4ff20"/><ellipse cx="546.9" cy="449.3" rx="2.9" ry="2.5" transform="rotate(-14 546.9 449.3)" fill="#f4ff20"/><ellipse cx="545.0" cy="460.5" rx="4.3" ry="2.6" transform="rotate(-37 545.0 460.5)" fill="#f4ff20"/><ellipse cx="547.5" cy="445.2" rx="3.6" ry="2.2" transform="rotate(-20 547.5 445.2)" fill="#f4ff20"/><ellipse cx="545.3" cy="466.1" rx="4.3" ry="2.1" transform="rotate(31 545.3 466.1)" fill="#f4ff20"/><ellipse cx="553.5" cy="445.2" rx="3.2" ry="2.3" transform="rotate(8 553.5 445.2)" fill="#f4ff20"/><ellipse cx="537.6" cy="452.8" rx="4.5" ry="2.5" transform="rotate(-12 537.6 452.8)" fill="#f4ff20"/><ellipse cx="552.6" cy="437.0" rx="5.2" ry="1.8" transform="rotate(9 552.6 437.0)" fill="#f4ff20"/><ellipse cx="552.6" cy="448.0" rx="3.4" ry="2.9" transform="rotate(-31 552.6 448.0)" fill="#f4ff20"/><ellipse cx="547.9" cy="458.1" rx="5.3" ry="2.2" transform="rotate(-17 547.9 458.1)" fill="#f4ff20"/><ellipse cx="548.5" cy="440.8" rx="3.7" ry="2.6" transform="rotate(1 548.5 440.8)" fill="#f4ff20"/><ellipse cx="528.9" cy="417.2" rx="2.9" ry="2.2" transform="rotate(38 528.9 417.2)" fill="#f4ff20"/><ellipse cx="513.2" cy="416.6" rx="5.2" ry="3.1" transform="rotate(36 513.2 416.6)" fill="#f4ff20"/><ellipse cx="511.5" cy="370.2" rx="4.6" ry="2.5" transform="rotate(31 511.5 370.2)" fill="#f4ff20"/><ellipse cx="529.4" cy="415.7" rx="5.2" ry="2.2" transform="rotate(8 529.4 415.7)" fill="#f4ff20"/><ellipse cx="527.8" cy="420.0" rx="3.0" ry="1.8" transform="rotate(-17 527.8 420.0)" fill="#f4ff20"/><ellipse cx="523.0" cy="370.5" rx="2.8" ry="1.8" transform="rotate(13 523.0 370.5)" fill="#f4ff20"/><ellipse cx="519.2" cy="403.8" rx="4.0" ry="2.2" transform="rotate(19 519.2 403.8)" fill="#f4ff20"/><ellipse cx="519.9" cy="402.6" rx="4.1" ry="1.8" transform="rotate(33 519.9 402.6)" fill="#f4ff20"/><ellipse cx="523.3" cy="361.4" rx="3.4" ry="2.5" transform="rotate(-9 523.3 361.4)" fill="#f4ff20"/><ellipse cx="521.8" cy="377.8" rx="4.7" ry="1.9" transform="rotate(35 521.8 377.8)" fill="#f4ff20"/><ellipse cx="532.7" cy="397.3" rx="3.1" ry="2.6" transform="rotate(26 532.7 397.3)" fill="#f4ff20"/><ellipse cx="519.9" cy="375.6" rx="4.1" ry="2.4" transform="rotate(-7 519.9 375.6)" fill="#f4ff20"/><ellipse cx="534.4" cy="462.7" rx="5.2" ry="2.4" transform="rotate(20 534.4 462.7)" fill="#f4ff20"/><ellipse cx="525.9" cy="426.0" rx="2.9" ry="3.5" transform="rotate(5 525.9 426.0)" fill="#f4ff20"/><ellipse cx="521.3" cy="463.4" rx="5.0" ry="2.5" transform="rotate(-9 521.3 463.4)" fill="#f4ff20"/><ellipse cx="531.3" cy="458.9" rx="4.2" ry="1.9" transform="rotate(-17 531.3 458.9)" fill="#f4ff20"/><ellipse cx="529.7" cy="444.9" rx="3.6" ry="1.8" transform="rotate(-6 529.7 444.9)" fill="#f4ff20"/><ellipse cx="534.4" cy="470.4" rx="3.6" ry="3.2" transform="rotate(4 534.4 470.4)" fill="#f4ff20"/><ellipse cx="532.4" cy="458.2" rx="3.2" ry="2.4" transform="rotate(-5 532.4 458.2)" fill="#f4ff20"/><ellipse cx="531.3" cy="426.5" rx="2.8" ry="2.8" transform="rotate(-32 531.3 426.5)" fill="#f4ff20"/><ellipse cx="527.9" cy="492.0" rx="4.3" ry="3.3" transform="rotate(30 527.9 492.0)" fill="#f4ff20"/><ellipse cx="539.1" cy="533.5" rx="3.7" ry="3.1" transform="rotate(-12 539.1 533.5)" fill="#f4ff20"/><ellipse cx="535.2" cy="540.7" rx="3.7" ry="3.3" transform="rotate(20 535.2 540.7)" fill="#f4ff20"/><ellipse cx="530.6" cy="517.0" rx="2.8" ry="2.4" transform="rotate(37 530.6 517.0)" fill="#f4ff20"/><ellipse cx="527.5" cy="544.0" rx="3.2" ry="3.4" transform="rotate(8 527.5 544.0)" fill="#f4ff20"/><ellipse cx="529.6" cy="480.2" rx="5.8" ry="2.2" transform="rotate(17 529.6 480.2)" fill="#f4ff20"/><ellipse cx="529.7" cy="536.1" rx="4.4" ry="2.6" transform="rotate(9 529.7 536.1)" fill="#f4ff20"/><ellipse cx="540.2" cy="484.6" rx="4.2" ry="2.1" transform="rotate(-1 540.2 484.6)" fill="#f4ff20"/><ellipse cx="527.1" cy="508.9" rx="5.0" ry="3.4" transform="rotate(-30 527.1 508.9)" fill="#f4ff20"/><ellipse cx="528.4" cy="532.5" rx="4.7" ry="2.2" transform="rotate(-37 528.4 532.5)" fill="#f4ff20"/><ellipse cx="535.6" cy="493.5" rx="2.9" ry="2.8" transform="rotate(23 535.6 493.5)" fill="#f4ff20"/><ellipse cx="403.8" cy="546.0" rx="3.3" ry="2.7" transform="rotate(19 403.8 546.0)" fill="#f4ff20"/><ellipse cx="427.1" cy="578.0" rx="4.1" ry="2.3" transform="rotate(-27 427.1 578.0)" fill="#f4ff20"/><ellipse cx="406.7" cy="548.6" rx="3.3" ry="3.1" transform="rotate(-34 406.7 548.6)" fill="#f4ff20"/><ellipse cx="400.6" cy="571.7" rx="4.2" ry="2.7" transform="rotate(26 400.6 571.7)" fill="#f4ff20"/><ellipse cx="414.7" cy="547.7" rx="5.7" ry="3.5" transform="rotate(3 414.7 547.7)" fill="#f4ff20"/><ellipse cx="417.0" cy="563.7" rx="4.0" ry="3.1" transform="rotate(-13 417.0 563.7)" fill="#f4ff20"/><ellipse cx="424.4" cy="557.5" rx="4.9" ry="2.1" transform="rotate(-9 424.4 557.5)" fill="#f4ff20"/><ellipse cx="410.2" cy="557.6" rx="4.4" ry="2.3" transform="rotate(-14 410.2 557.6)" fill="#f4ff20"/><ellipse cx="430.8" cy="580.7" rx="4.1" ry="1.9" transform="rotate(-15 430.8 580.7)" fill="#f4ff20"/><ellipse cx="423.3" cy="578.2" rx="5.7" ry="2.0" transform="rotate(37 423.3 578.2)" fill="#f4ff20"/><ellipse cx="418.1" cy="565.6" rx="3.1" ry="2.2" transform="rotate(27 418.1 565.6)" fill="#f4ff20"/><ellipse cx="421.4" cy="558.4" rx="5.4" ry="2.9" transform="rotate(-15 421.4 558.4)" fill="#f4ff20"/><ellipse cx="420.8" cy="568.4" rx="4.1" ry="2.7" transform="rotate(-19 420.8 568.4)" fill="#f4ff20"/><ellipse cx="422.7" cy="549.3" rx="2.8" ry="2.8" transform="rotate(30 422.7 549.3)" fill="#f4ff20"/><ellipse cx="414.3" cy="555.1" rx="5.1" ry="3.1" transform="rotate(13 414.3 555.1)" fill="#f4ff20"/><ellipse cx="400.9" cy="545.6" rx="2.7" ry="2.8" transform="rotate(9 400.9 545.6)" fill="#f4ff20"/><ellipse cx="424.1" cy="561.4" rx="5.5" ry="2.2" transform="rotate(-18 424.1 561.4)" fill="#f4ff20"/><ellipse cx="430.1" cy="595.1" rx="3.7" ry="1.8" transform="rotate(-15 430.1 595.1)" fill="#f4ff20"/><ellipse cx="432.5" cy="588.9" rx="4.3" ry="3.2" transform="rotate(-36 432.5 588.9)" fill="#f4ff20"/><ellipse cx="436.9" cy="603.3" rx="4.0" ry="2.3" transform="rotate(21 436.9 603.3)" fill="#f4ff20"/><ellipse cx="411.4" cy="593.1" rx="3.8" ry="2.8" transform="rotate(-38 411.4 593.1)" fill="#f4ff20"/><ellipse cx="438.2" cy="600.3" rx="3.1" ry="2.7" transform="rotate(11 438.2 600.3)" fill="#f4ff20"/><ellipse cx="429.9" cy="609.2" rx="4.3" ry="3.4" transform="rotate(-6 429.9 609.2)" fill="#f4ff20"/><ellipse cx="419.8" cy="605.8" rx="3.7" ry="2.8" transform="rotate(20 419.8 605.8)" fill="#f4ff20"/><ellipse cx="433.7" cy="603.8" rx="5.4" ry="3.1" transform="rotate(4 433.7 603.8)" fill="#f4ff20"/><ellipse cx="425.5" cy="591.6" rx="3.9" ry="1.8" transform="rotate(10 425.5 591.6)" fill="#f4ff20"/><ellipse cx="427.9" cy="590.6" rx="2.8" ry="2.6" transform="rotate(-28 427.9 590.6)" fill="#f4ff20"/><ellipse cx="429.5" cy="594.7" rx="4.8" ry="2.0" transform="rotate(38 429.5 594.7)" fill="#f4ff20"/><ellipse cx="432.4" cy="606.5" rx="5.2" ry="2.0" transform="rotate(11 432.4 606.5)" fill="#f4ff20"/><ellipse cx="464.1" cy="569.6" rx="5.6" ry="1.8" transform="rotate(-34 464.1 569.6)" fill="#f4ff20"/><ellipse cx="472.4" cy="555.5" rx="5.6" ry="2.1" transform="rotate(31 472.4 555.5)" fill="#f4ff20"/><ellipse cx="450.8" cy="561.7" rx="2.9" ry="2.7" transform="rotate(-8 450.8 561.7)" fill="#f4ff20"/><ellipse cx="465.1" cy="579.3" rx="3.0" ry="1.9" transform="rotate(37 465.1 579.3)" fill="#f4ff20"/><ellipse cx="461.7" cy="574.1" rx="2.8" ry="2.8" transform="rotate(40 461.7 574.1)" fill="#f4ff20"/><ellipse cx="474.2" cy="575.0" rx="3.8" ry="1.8" transform="rotate(1 474.2 575.0)" fill="#f4ff20"/><ellipse cx="471.7" cy="593.8" rx="4.8" ry="1.9" transform="rotate(-8 471.7 593.8)" fill="#f4ff20"/><ellipse cx="458.4" cy="583.8" rx="4.4" ry="3.1" transform="rotate(31 458.4 583.8)" fill="#f4ff20"/><ellipse cx="447.7" cy="609.9" rx="3.9" ry="2.3" transform="rotate(34 447.7 609.9)" fill="#f4ff20"/><ellipse cx="445.6" cy="613.1" rx="4.5" ry="1.8" transform="rotate(-31 445.6 613.1)" fill="#f4ff20"/><ellipse cx="456.0" cy="627.0" rx="5.5" ry="2.0" transform="rotate(28 456.0 627.0)" fill="#f4ff20"/><ellipse cx="452.7" cy="612.7" rx="4.6" ry="2.5" transform="rotate(-26 452.7 612.7)" fill="#f4ff20"/><ellipse cx="443.4" cy="603.0" rx="3.5" ry="2.5" transform="rotate(12 443.4 603.0)" fill="#f4ff20"/><ellipse cx="454.4" cy="606.4" rx="5.8" ry="2.1" transform="rotate(-11 454.4 606.4)" fill="#f4ff20"/><ellipse cx="451.5" cy="611.6" rx="3.4" ry="2.3" transform="rotate(-10 451.5 611.6)" fill="#f4ff20"/><ellipse cx="454.8" cy="620.4" rx="3.3" ry="2.5" transform="rotate(27 454.8 620.4)" fill="#f4ff20"/><ellipse cx="460.5" cy="626.3" rx="2.8" ry="2.6" transform="rotate(1 460.5 626.3)" fill="#f4ff20"/><ellipse cx="451.9" cy="604.6" rx="4.9" ry="2.8" transform="rotate(22 451.9 604.6)" fill="#f4ff20"/><ellipse cx="455.7" cy="607.0" rx="4.5" ry="2.1" transform="rotate(-5 455.7 607.0)" fill="#f4ff20"/><ellipse cx="456.6" cy="618.8" rx="3.3" ry="2.9" transform="rotate(13 456.6 618.8)" fill="#f4ff20"/><ellipse cx="455.7" cy="619.4" rx="4.5" ry="2.0" transform="rotate(-14 455.7 619.4)" fill="#f4ff20"/><ellipse cx="451.1" cy="604.1" rx="4.7" ry="2.8" transform="rotate(-17 451.1 604.1)" fill="#f4ff20"/><ellipse cx="454.9" cy="627.8" rx="4.6" ry="2.4" transform="rotate(-17 454.9 627.8)" fill="#f4ff20"/><ellipse cx="445.8" cy="624.4" rx="4.3" ry="2.2" transform="rotate(29 445.8 624.4)" fill="#f4ff20"/><ellipse cx="452.5" cy="624.2" rx="3.0" ry="2.8" transform="rotate(36 452.5 624.2)" fill="#f4ff20"/><ellipse cx="448.5" cy="609.0" rx="4.9" ry="3.3" transform="rotate(5 448.5 609.0)" fill="#f4ff20"/><ellipse cx="469.5" cy="657.9" rx="4.1" ry="1.9" transform="rotate(14 469.5 657.9)" fill="#f4ff20"/><ellipse cx="451.9" cy="642.2" rx="3.9" ry="2.3" transform="rotate(-35 451.9 642.2)" fill="#f4ff20"/><ellipse cx="456.3" cy="631.3" rx="5.4" ry="2.0" transform="rotate(-22 456.3 631.3)" fill="#f4ff20"/><ellipse cx="462.6" cy="641.2" rx="3.6" ry="2.4" transform="rotate(-24 462.6 641.2)" fill="#f4ff20"/><ellipse cx="462.3" cy="655.5" rx="3.5" ry="2.2" transform="rotate(18 462.3 655.5)" fill="#f4ff20"/><ellipse cx="461.6" cy="654.2" rx="4.7" ry="1.8" transform="rotate(5 461.6 654.2)" fill="#f4ff20"/><ellipse cx="459.0" cy="634.9" rx="2.7" ry="2.0" transform="rotate(-37 459.0 634.9)" fill="#f4ff20"/><ellipse cx="463.4" cy="650.9" rx="5.3" ry="3.0" transform="rotate(9 463.4 650.9)" fill="#f4ff20"/><ellipse cx="468.7" cy="656.0" rx="5.1" ry="3.2" transform="rotate(-10 468.7 656.0)" fill="#f4ff20"/><ellipse cx="465.9" cy="659.2" rx="4.2" ry="1.8" transform="rotate(-9 465.9 659.2)" fill="#f4ff20"/><ellipse cx="462.1" cy="656.8" rx="4.6" ry="2.3" transform="rotate(-31 462.1 656.8)" fill="#f4ff20"/><ellipse cx="454.3" cy="635.2" rx="3.4" ry="2.2" transform="rotate(18 454.3 635.2)" fill="#f4ff20"/><ellipse cx="461.7" cy="637.5" rx="3.7" ry="3.3" transform="rotate(-25 461.7 637.5)" fill="#f4ff20"/><ellipse cx="453.7" cy="638.2" rx="4.9" ry="2.4" transform="rotate(15 453.7 638.2)" fill="#f4ff20"/><ellipse cx="450.9" cy="635.6" rx="5.1" ry="2.5" transform="rotate(-16 450.9 635.6)" fill="#f4ff20"/><ellipse cx="464.3" cy="648.6" rx="4.6" ry="3.2" transform="rotate(23 464.3 648.6)" fill="#f4ff20"/><ellipse cx="460.9" cy="641.5" rx="3.8" ry="3.3" transform="rotate(8 460.9 641.5)" fill="#f4ff20"/><ellipse cx="460.9" cy="649.3" rx="3.9" ry="2.6" transform="rotate(-22 460.9 649.3)" fill="#f4ff20"/><ellipse cx="458.4" cy="644.8" rx="3.3" ry="2.8" transform="rotate(-10 458.4 644.8)" fill="#f4ff20"/><ellipse cx="461.2" cy="641.9" rx="5.6" ry="2.0" transform="rotate(18 461.2 641.9)" fill="#f4ff20"/><ellipse cx="466.8" cy="668.6" rx="3.7" ry="2.1" transform="rotate(10 466.8 668.6)" fill="#f4ff20"/><ellipse cx="473.5" cy="682.9" rx="5.3" ry="3.1" transform="rotate(29 473.5 682.9)" fill="#f4ff20"/><ellipse cx="471.2" cy="677.2" rx="4.1" ry="1.8" transform="rotate(18 471.2 677.2)" fill="#f4ff20"/><ellipse cx="463.7" cy="679.8" rx="2.9" ry="2.2" transform="rotate(15 463.7 679.8)" fill="#f4ff20"/><ellipse cx="472.1" cy="670.7" rx="3.3" ry="3.2" transform="rotate(19 472.1 670.7)" fill="#f4ff20"/><ellipse cx="463.5" cy="665.4" rx="4.1" ry="2.8" transform="rotate(-16 463.5 665.4)" fill="#f4ff20"/><ellipse cx="468.1" cy="673.9" rx="5.1" ry="2.9" transform="rotate(35 468.1 673.9)" fill="#f4ff20"/><ellipse cx="466.5" cy="670.1" rx="3.0" ry="2.3" transform="rotate(7 466.5 670.1)" fill="#f4ff20"/><ellipse cx="462.9" cy="687.0" rx="5.6" ry="2.6" transform="rotate(26 462.9 687.0)" fill="#f4ff20"/><ellipse cx="474.8" cy="684.5" rx="5.5" ry="2.0" transform="rotate(16 474.8 684.5)" fill="#f4ff20"/><ellipse cx="469.0" cy="660.6" rx="4.9" ry="3.3" transform="rotate(37 469.0 660.6)" fill="#f4ff20"/><ellipse cx="467.0" cy="677.2" rx="3.1" ry="2.5" transform="rotate(37 467.0 677.2)" fill="#f4ff20"/><ellipse cx="471.0" cy="681.2" rx="5.3" ry="2.1" transform="rotate(34 471.0 681.2)" fill="#f4ff20"/><ellipse cx="475.6" cy="683.6" rx="3.1" ry="1.8" transform="rotate(-37 475.6 683.6)" fill="#f4ff20"/><ellipse cx="468.4" cy="682.0" rx="3.4" ry="2.6" transform="rotate(-9 468.4 682.0)" fill="#f4ff20"/><ellipse cx="472.0" cy="688.6" rx="3.6" ry="2.4" transform="rotate(-37 472.0 688.6)" fill="#f4ff20"/><ellipse cx="466.7" cy="680.1" rx="3.2" ry="2.4" transform="rotate(-21 466.7 680.1)" fill="#f4ff20"/><ellipse cx="467.8" cy="685.0" rx="4.2" ry="1.8" transform="rotate(39 467.8 685.0)" fill="#f4ff20"/><ellipse cx="464.2" cy="638.9" rx="3.1" ry="3.2" transform="rotate(14 464.2 638.9)" fill="#f4ff20"/><ellipse cx="456.8" cy="614.3" rx="2.9" ry="2.4" transform="rotate(-26 456.8 614.3)" fill="#f4ff20"/><ellipse cx="462.5" cy="650.5" rx="3.4" ry="1.9" transform="rotate(-6 462.5 650.5)" fill="#f4ff20"/><ellipse cx="446.8" cy="604.9" rx="4.4" ry="1.9" transform="rotate(28 446.8 604.9)" fill="#f4ff20"/><ellipse cx="473.1" cy="626.5" rx="2.7" ry="2.6" transform="rotate(18 473.1 626.5)" fill="#f4ff20"/><ellipse cx="448.1" cy="607.3" rx="4.0" ry="2.6" transform="rotate(-13 448.1 607.3)" fill="#f4ff20"/><ellipse cx="451.8" cy="619.3" rx="3.5" ry="2.8" transform="rotate(18 451.8 619.3)" fill="#f4ff20"/><ellipse cx="460.0" cy="612.4" rx="4.6" ry="2.4" transform="rotate(30 460.0 612.4)" fill="#f4ff20"/><ellipse cx="450.3" cy="646.8" rx="3.7" ry="2.1" transform="rotate(-6 450.3 646.8)" fill="#f4ff20"/><ellipse cx="457.5" cy="610.6" rx="3.2" ry="2.6" transform="rotate(15 457.5 610.6)" fill="#f4ff20"/><ellipse cx="456.7" cy="642.9" rx="5.6" ry="3.2" transform="rotate(0 456.7 642.9)" fill="#f4ff20"/><ellipse cx="450.1" cy="614.4" rx="4.3" ry="2.0" transform="rotate(0 450.1 614.4)" fill="#f4ff20"/><ellipse cx="452.4" cy="633.4" rx="5.3" ry="3.1" transform="rotate(-33 452.4 633.4)" fill="#f4ff20"/><ellipse cx="463.4" cy="622.5" rx="4.3" ry="3.2" transform="rotate(-28 463.4 622.5)" fill="#f4ff20"/><ellipse cx="466.9" cy="672.8" rx="3.4" ry="2.5" transform="rotate(17 466.9 672.8)" fill="#f4ff20"/><ellipse cx="456.8" cy="674.2" rx="2.8" ry="2.8" transform="rotate(16 456.8 674.2)" fill="#f4ff20"/><ellipse cx="481.7" cy="692.0" rx="2.8" ry="2.6" transform="rotate(-11 481.7 692.0)" fill="#f4ff20"/><ellipse cx="468.2" cy="688.1" rx="4.7" ry="2.8" transform="rotate(-23 468.2 688.1)" fill="#f4ff20"/><ellipse cx="464.0" cy="658.9" rx="3.7" ry="1.8" transform="rotate(5 464.0 658.9)" fill="#f4ff20"/><ellipse cx="468.4" cy="674.2" rx="2.9" ry="2.2" transform="rotate(14 468.4 674.2)" fill="#f4ff20"/><ellipse cx="464.1" cy="653.5" rx="4.5" ry="3.0" transform="rotate(-19 464.1 653.5)" fill="#f4ff20"/><ellipse cx="466.6" cy="672.4" rx="3.6" ry="2.5" transform="rotate(1 466.6 672.4)" fill="#f4ff20"/><ellipse cx="469.1" cy="672.5" rx="3.1" ry="2.8" transform="rotate(-21 469.1 672.5)" fill="#f4ff20"/><ellipse cx="456.5" cy="671.3" rx="3.0" ry="2.8" transform="rotate(21 456.5 671.3)" fill="#f4ff20"/><ellipse cx="459.9" cy="672.0" rx="4.4" ry="2.1" transform="rotate(26 459.9 672.0)" fill="#f4ff20"/><ellipse cx="543.4" cy="672.5" rx="2.9" ry="2.4" transform="rotate(19 543.4 672.5)" fill="#f4ff20"/><ellipse cx="540.6" cy="643.4" rx="4.0" ry="2.6" transform="rotate(6 540.6 643.4)" fill="#f4ff20"/><ellipse cx="532.7" cy="656.9" rx="3.5" ry="3.1" transform="rotate(-11 532.7 656.9)" fill="#f4ff20"/><ellipse cx="558.2" cy="643.6" rx="5.8" ry="3.0" transform="rotate(39 558.2 643.6)" fill="#f4ff20"/><ellipse cx="532.1" cy="656.0" rx="3.1" ry="2.6" transform="rotate(33 532.1 656.0)" fill="#f4ff20"/><ellipse cx="523.8" cy="654.2" rx="4.2" ry="2.4" transform="rotate(-1 523.8 654.2)" fill="#f4ff20"/><ellipse cx="540.8" cy="648.4" rx="2.9" ry="3.5" transform="rotate(-33 540.8 648.4)" fill="#f4ff20"/><ellipse cx="542.6" cy="661.1" rx="4.8" ry="3.0" transform="rotate(2 542.6 661.1)" fill="#f4ff20"/><ellipse cx="531.1" cy="656.1" rx="4.8" ry="3.4" transform="rotate(2 531.1 656.1)" fill="#f4ff20"/><ellipse cx="522.4" cy="642.5" rx="3.1" ry="2.6" transform="rotate(-23 522.4 642.5)" fill="#f4ff20"/><ellipse cx="540.5" cy="666.3" rx="5.6" ry="1.9" transform="rotate(23 540.5 666.3)" fill="#f4ff20"/><ellipse cx="526.6" cy="678.3" rx="4.9" ry="3.0" transform="rotate(-1 526.6 678.3)" fill="#f4ff20"/><ellipse cx="545.9" cy="644.4" rx="3.6" ry="3.3" transform="rotate(8 545.9 644.4)" fill="#f4ff20"/><ellipse cx="523.1" cy="665.9" rx="3.6" ry="3.1" transform="rotate(5 523.1 665.9)" fill="#f4ff20"/><ellipse cx="536.2" cy="652.1" rx="3.3" ry="2.5" transform="rotate(13 536.2 652.1)" fill="#f4ff20"/><ellipse cx="528.4" cy="669.3" rx="3.3" ry="2.2" transform="rotate(35 528.4 669.3)" fill="#f4ff20"/><ellipse cx="533.1" cy="643.2" rx="4.9" ry="3.4" transform="rotate(-31 533.1 643.2)" fill="#f4ff20"/><ellipse cx="537.8" cy="677.0" rx="4.6" ry="1.8" transform="rotate(-38 537.8 677.0)" fill="#f4ff20"/><ellipse cx="528.4" cy="667.4" rx="5.1" ry="1.8" transform="rotate(23 528.4 667.4)" fill="#f4ff20"/><ellipse cx="520.7" cy="670.0" rx="5.6" ry="2.7" transform="rotate(-30 520.7 670.0)" fill="#f4ff20"/><ellipse cx="536.8" cy="657.5" rx="2.9" ry="2.5" transform="rotate(30 536.8 657.5)" fill="#f4ff20"/><ellipse cx="528.7" cy="658.9" rx="5.4" ry="3.5" transform="rotate(20 528.7 658.9)" fill="#f4ff20"/><ellipse cx="533.6" cy="699.8" rx="5.7" ry="2.1" transform="rotate(25 533.6 699.8)" fill="#f4ff20"/><ellipse cx="526.8" cy="714.7" rx="5.2" ry="2.5" transform="rotate(-6 526.8 714.7)" fill="#f4ff20"/><ellipse cx="525.7" cy="695.9" rx="4.3" ry="2.1" transform="rotate(-29 525.7 695.9)" fill="#f4ff20"/><ellipse cx="531.2" cy="701.0" rx="4.6" ry="3.2" transform="rotate(18 531.2 701.0)" fill="#f4ff20"/><ellipse cx="525.9" cy="689.7" rx="5.4" ry="2.1" transform="rotate(-8 525.9 689.7)" fill="#f4ff20"/><ellipse cx="528.3" cy="702.2" rx="3.1" ry="2.2" transform="rotate(-13 528.3 702.2)" fill="#f4ff20"/><ellipse cx="533.8" cy="710.5" rx="5.0" ry="2.7" transform="rotate(-37 533.8 710.5)" fill="#f4ff20"/><ellipse cx="535.4" cy="705.5" rx="3.7" ry="2.7" transform="rotate(-2 535.4 705.5)" fill="#f4ff20"/><ellipse cx="544.8" cy="709.7" rx="5.2" ry="2.0" transform="rotate(23 544.8 709.7)" fill="#f4ff20"/><ellipse cx="535.3" cy="700.0" rx="2.9" ry="3.4" transform="rotate(-37 535.3 700.0)" fill="#f4ff20"/><ellipse cx="532.2" cy="681.5" rx="5.0" ry="3.5" transform="rotate(-12 532.2 681.5)" fill="#f4ff20"/><ellipse cx="519.8" cy="714.8" rx="5.1" ry="3.3" transform="rotate(2 519.8 714.8)" fill="#f4ff20"/><ellipse cx="542.1" cy="720.4" rx="3.7" ry="1.8" transform="rotate(24 542.1 720.4)" fill="#f4ff20"/><ellipse cx="531.4" cy="719.2" rx="4.8" ry="3.2" transform="rotate(-26 531.4 719.2)" fill="#f4ff20"/><ellipse cx="536.4" cy="683.7" rx="4.0" ry="1.8" transform="rotate(7 536.4 683.7)" fill="#f4ff20"/><ellipse cx="539.2" cy="714.5" rx="3.8" ry="3.3" transform="rotate(-38 539.2 714.5)" fill="#f4ff20"/><ellipse cx="538.4" cy="689.7" rx="5.0" ry="2.3" transform="rotate(-34 538.4 689.7)" fill="#f4ff20"/><ellipse cx="534.7" cy="695.7" rx="5.5" ry="3.5" transform="rotate(-1 534.7 695.7)" fill="#f4ff20"/><ellipse cx="542.4" cy="692.8" rx="5.6" ry="3.4" transform="rotate(16 542.4 692.8)" fill="#f4ff20"/><ellipse cx="519.9" cy="718.4" rx="2.8" ry="2.2" transform="rotate(35 519.9 718.4)" fill="#f4ff20"/><ellipse cx="535.2" cy="701.9" rx="4.0" ry="2.2" transform="rotate(-24 535.2 701.9)" fill="#f4ff20"/><ellipse cx="534.0" cy="701.6" rx="3.2" ry="2.8" transform="rotate(6 534.0 701.6)" fill="#f4ff20"/><ellipse cx="522.8" cy="692.7" rx="3.8" ry="2.0" transform="rotate(24 522.8 692.7)" fill="#f4ff20"/><ellipse cx="519.2" cy="730.7" rx="3.6" ry="2.4" transform="rotate(8 519.2 730.7)" fill="#f4ff20"/><ellipse cx="536.6" cy="728.7" rx="4.5" ry="3.0" transform="rotate(-34 536.6 728.7)" fill="#f4ff20"/><ellipse cx="534.9" cy="726.2" rx="3.0" ry="2.2" transform="rotate(-20 534.9 726.2)" fill="#f4ff20"/><ellipse cx="524.8" cy="738.5" rx="4.4" ry="3.4" transform="rotate(23 524.8 738.5)" fill="#f4ff20"/><ellipse cx="538.3" cy="728.7" rx="4.6" ry="3.5" transform="rotate(40 538.3 728.7)" fill="#f4ff20"/><ellipse cx="525.4" cy="728.9" rx="3.6" ry="1.8" transform="rotate(29 525.4 728.9)" fill="#f4ff20"/><ellipse cx="527.1" cy="735.6" rx="3.5" ry="1.8" transform="rotate(-26 527.1 735.6)" fill="#f4ff20"/><ellipse cx="541.2" cy="723.6" rx="3.2" ry="2.5" transform="rotate(-11 541.2 723.6)" fill="#f4ff20"/><ellipse cx="535.5" cy="741.1" rx="2.9" ry="3.0" transform="rotate(-11 535.5 741.1)" fill="#f4ff20"/><ellipse cx="521.8" cy="747.6" rx="5.7" ry="2.8" transform="rotate(2 521.8 747.6)" fill="#f4ff20"/><ellipse cx="536.6" cy="726.3" rx="3.6" ry="2.0" transform="rotate(-13 536.6 726.3)" fill="#f4ff20"/><ellipse cx="524.6" cy="739.2" rx="2.8" ry="2.5" transform="rotate(34 524.6 739.2)" fill="#f4ff20"/><ellipse cx="528.9" cy="727.8" rx="4.4" ry="2.1" transform="rotate(8 528.9 727.8)" fill="#f4ff20"/><ellipse cx="546.7" cy="736.1" rx="3.4" ry="1.8" transform="rotate(-10 546.7 736.1)" fill="#f4ff20"/><ellipse cx="536.6" cy="746.1" rx="5.7" ry="3.2" transform="rotate(35 536.6 746.1)" fill="#f4ff20"/><ellipse cx="527.0" cy="742.4" rx="4.7" ry="2.6" transform="rotate(-4 527.0 742.4)" fill="#f4ff20"/><ellipse cx="534.9" cy="741.4" rx="3.5" ry="2.9" transform="rotate(33 534.9 741.4)" fill="#f4ff20"/><ellipse cx="533.7" cy="753.5" rx="4.4" ry="2.6" transform="rotate(20 533.7 753.5)" fill="#f4ff20"/><ellipse cx="532.1" cy="737.5" rx="3.8" ry="2.1" transform="rotate(7 532.1 737.5)" fill="#f4ff20"/><ellipse cx="524.2" cy="742.2" rx="4.1" ry="2.9" transform="rotate(-11 524.2 742.2)" fill="#f4ff20"/><ellipse cx="401.0" cy="742.1" rx="5.0" ry="3.4" transform="rotate(-1 401.0 742.1)" fill="#f4ff20"/><ellipse cx="414.5" cy="770.5" rx="4.4" ry="3.3" transform="rotate(-39 414.5 770.5)" fill="#f4ff20"/><ellipse cx="401.2" cy="760.3" rx="5.1" ry="2.4" transform="rotate(4 401.2 760.3)" fill="#f4ff20"/><ellipse cx="400.0" cy="764.3" rx="4.8" ry="2.8" transform="rotate(20 400.0 764.3)" fill="#f4ff20"/><ellipse cx="395.7" cy="742.1" rx="3.6" ry="2.6" transform="rotate(-19 395.7 742.1)" fill="#f4ff20"/><ellipse cx="399.8" cy="749.9" rx="4.9" ry="1.9" transform="rotate(-34 399.8 749.9)" fill="#f4ff20"/><ellipse cx="404.9" cy="743.5" rx="4.6" ry="2.1" transform="rotate(-36 404.9 743.5)" fill="#f4ff20"/><ellipse cx="406.5" cy="747.2" rx="5.5" ry="2.0" transform="rotate(-15 406.5 747.2)" fill="#f4ff20"/><ellipse cx="407.5" cy="759.1" rx="4.6" ry="3.1" transform="rotate(-39 407.5 759.1)" fill="#f4ff20"/><ellipse cx="404.0" cy="749.2" rx="3.7" ry="2.5" transform="rotate(-4 404.0 749.2)" fill="#f4ff20"/><ellipse cx="408.5" cy="742.2" rx="4.8" ry="2.0" transform="rotate(-28 408.5 742.2)" fill="#f4ff20"/><ellipse cx="406.1" cy="758.8" rx="3.1" ry="2.2" transform="rotate(20 406.1 758.8)" fill="#f4ff20"/><ellipse cx="407.2" cy="766.3" rx="4.6" ry="3.1" transform="rotate(27 407.2 766.3)" fill="#f4ff20"/><ellipse cx="411.8" cy="774.7" rx="4.0" ry="3.2" transform="rotate(-3 411.8 774.7)" fill="#f4ff20"/><ellipse cx="415.5" cy="773.2" rx="4.6" ry="2.0" transform="rotate(-39 415.5 773.2)" fill="#f4ff20"/><ellipse cx="419.8" cy="795.9" rx="5.6" ry="2.2" transform="rotate(26 419.8 795.9)" fill="#f4ff20"/><ellipse cx="419.7" cy="788.3" rx="5.1" ry="2.3" transform="rotate(32 419.7 788.3)" fill="#f4ff20"/><ellipse cx="422.7" cy="804.8" rx="4.1" ry="3.3" transform="rotate(-18 422.7 804.8)" fill="#f4ff20"/><ellipse cx="413.5" cy="789.3" rx="3.4" ry="3.0" transform="rotate(-27 413.5 789.3)" fill="#f4ff20"/><ellipse cx="421.0" cy="796.7" rx="3.2" ry="2.3" transform="rotate(-16 421.0 796.7)" fill="#f4ff20"/><ellipse cx="415.0" cy="797.5" rx="4.2" ry="2.7" transform="rotate(36 415.0 797.5)" fill="#f4ff20"/><ellipse cx="408.8" cy="777.5" rx="3.3" ry="3.0" transform="rotate(-12 408.8 777.5)" fill="#f4ff20"/><ellipse cx="423.4" cy="793.7" rx="3.7" ry="1.8" transform="rotate(-27 423.4 793.7)" fill="#f4ff20"/><ellipse cx="408.3" cy="771.7" rx="3.7" ry="1.8" transform="rotate(-25 408.3 771.7)" fill="#f4ff20"/><ellipse cx="411.2" cy="768.8" rx="2.8" ry="3.3" transform="rotate(-27 411.2 768.8)" fill="#f4ff20"/><ellipse cx="424.7" cy="772.3" rx="3.7" ry="2.2" transform="rotate(-25 424.7 772.3)" fill="#f4ff20"/><ellipse cx="416.8" cy="788.3" rx="3.8" ry="3.3" transform="rotate(15 416.8 788.3)" fill="#f4ff20"/><ellipse cx="422.2" cy="802.7" rx="4.0" ry="2.4" transform="rotate(25 422.2 802.7)" fill="#f4ff20"/><ellipse cx="411.3" cy="804.5" rx="5.7" ry="3.3" transform="rotate(22 411.3 804.5)" fill="#f4ff20"/><ellipse cx="419.6" cy="819.2" rx="4.2" ry="2.5" transform="rotate(33 419.6 819.2)" fill="#f4ff20"/><ellipse cx="415.0" cy="819.8" rx="5.7" ry="2.1" transform="rotate(-25 415.0 819.8)" fill="#f4ff20"/><ellipse cx="415.3" cy="815.5" rx="2.9" ry="2.8" transform="rotate(33 415.3 815.5)" fill="#f4ff20"/><ellipse cx="416.7" cy="822.8" rx="2.8" ry="1.8" transform="rotate(1 416.7 822.8)" fill="#f4ff20"/><ellipse cx="414.4" cy="821.9" rx="4.5" ry="3.4" transform="rotate(-17 414.4 821.9)" fill="#f4ff20"/><ellipse cx="426.4" cy="802.8" rx="5.1" ry="3.0" transform="rotate(-19 426.4 802.8)" fill="#f4ff20"/><ellipse cx="411.9" cy="812.3" rx="3.0" ry="2.6" transform="rotate(-20 411.9 812.3)" fill="#f4ff20"/><ellipse cx="415.5" cy="809.4" rx="5.6" ry="3.3" transform="rotate(2 415.5 809.4)" fill="#f4ff20"/><ellipse cx="417.1" cy="807.2" rx="3.9" ry="1.8" transform="rotate(7 417.1 807.2)" fill="#f4ff20"/><ellipse cx="413.7" cy="807.5" rx="3.7" ry="2.9" transform="rotate(-37 413.7 807.5)" fill="#f4ff20"/><ellipse cx="409.4" cy="814.4" rx="4.9" ry="2.3" transform="rotate(-9 409.4 814.4)" fill="#f4ff20"/><ellipse cx="404.0" cy="846.8" rx="5.1" ry="2.9" transform="rotate(-22 404.0 846.8)" fill="#f4ff20"/><ellipse cx="415.5" cy="838.8" rx="4.1" ry="3.2" transform="rotate(-6 415.5 838.8)" fill="#f4ff20"/><ellipse cx="412.3" cy="858.4" rx="5.4" ry="3.3" transform="rotate(-22 412.3 858.4)" fill="#f4ff20"/><ellipse cx="403.1" cy="859.0" rx="4.2" ry="2.1" transform="rotate(14 403.1 859.0)" fill="#f4ff20"/><ellipse cx="404.9" cy="854.8" rx="4.6" ry="2.1" transform="rotate(-28 404.9 854.8)" fill="#f4ff20"/><ellipse cx="406.4" cy="851.0" rx="5.1" ry="3.3" transform="rotate(10 406.4 851.0)" fill="#f4ff20"/><ellipse cx="407.6" cy="882.4" rx="5.3" ry="2.6" transform="rotate(16 407.6 882.4)" fill="#f4ff20"/><ellipse cx="401.3" cy="889.1" rx="4.1" ry="3.1" transform="rotate(-8 401.3 889.1)" fill="#f4ff20"/><ellipse cx="411.1" cy="898.8" rx="4.4" ry="2.3" transform="rotate(2 411.1 898.8)" fill="#f4ff20"/><ellipse cx="408.0" cy="881.1" rx="5.1" ry="3.3" transform="rotate(-6 408.0 881.1)" fill="#f4ff20"/><ellipse cx="404.9" cy="875.2" rx="3.9" ry="2.4" transform="rotate(-0 404.9 875.2)" fill="#f4ff20"/><ellipse cx="402.0" cy="881.8" rx="2.8" ry="3.5" transform="rotate(14 402.0 881.8)" fill="#f4ff20"/><ellipse cx="450.6" cy="755.0" rx="3.8" ry="2.7" transform="rotate(-16 450.6 755.0)" fill="#f4ff20"/><ellipse cx="445.7" cy="757.6" rx="5.4" ry="2.6" transform="rotate(-22 445.7 757.6)" fill="#f4ff20"/><ellipse cx="451.2" cy="755.3" rx="3.5" ry="2.9" transform="rotate(-18 451.2 755.3)" fill="#f4ff20"/><ellipse cx="450.8" cy="761.5" rx="5.7" ry="3.2" transform="rotate(35 450.8 761.5)" fill="#f4ff20"/><ellipse cx="447.2" cy="754.2" rx="5.7" ry="2.9" transform="rotate(-3 447.2 754.2)" fill="#f4ff20"/><ellipse cx="450.2" cy="763.3" rx="5.5" ry="3.4" transform="rotate(-21 450.2 763.3)" fill="#f4ff20"/><ellipse cx="404.6" cy="929.8" rx="5.0" ry="3.3" transform="rotate(-8 404.6 929.8)" fill="#f4ff20"/><ellipse cx="413.5" cy="932.3" rx="4.6" ry="3.0" transform="rotate(-7 413.5 932.3)" fill="#f4ff20"/><ellipse cx="413.1" cy="935.0" rx="4.0" ry="2.8" transform="rotate(25 413.1 935.0)" fill="#f4ff20"/><ellipse cx="413.2" cy="928.5" rx="4.9" ry="3.4" transform="rotate(-35 413.2 928.5)" fill="#f4ff20"/><ellipse cx="414.7" cy="928.7" rx="4.2" ry="2.0" transform="rotate(34 414.7 928.7)" fill="#f4ff20"/><ellipse cx="495.3" cy="943.3" rx="5.6" ry="3.3" transform="rotate(14 495.3 943.3)" fill="#f4ff20"/><ellipse cx="491.8" cy="941.2" rx="4.7" ry="2.7" transform="rotate(31 491.8 941.2)" fill="#f4ff20"/><ellipse cx="502.2" cy="961.8" rx="3.4" ry="2.8" transform="rotate(21 502.2 961.8)" fill="#f4ff20"/><ellipse cx="485.3" cy="924.0" rx="5.1" ry="3.0" transform="rotate(35 485.3 924.0)" fill="#f4ff20"/><ellipse cx="490.0" cy="951.1" rx="3.3" ry="2.6" transform="rotate(-27 490.0 951.1)" fill="#f4ff20"/><ellipse cx="491.6" cy="936.0" rx="3.8" ry="2.2" transform="rotate(15 491.6 936.0)" fill="#f4ff20"/><ellipse cx="498.1" cy="945.0" rx="4.0" ry="2.3" transform="rotate(27 498.1 945.0)" fill="#f4ff20"/><ellipse cx="496.0" cy="955.9" rx="3.3" ry="3.4" transform="rotate(-3 496.0 955.9)" fill="#f4ff20"/><ellipse cx="493.8" cy="947.4" rx="4.6" ry="2.0" transform="rotate(-36 493.8 947.4)" fill="#f4ff20"/><ellipse cx="488.4" cy="942.9" rx="5.2" ry="2.1" transform="rotate(6 488.4 942.9)" fill="#f4ff20"/><ellipse cx="501.8" cy="961.4" rx="3.8" ry="2.7" transform="rotate(32 501.8 961.4)" fill="#f4ff20"/><ellipse cx="482.8" cy="920.8" rx="4.0" ry="2.1" transform="rotate(26 482.8 920.8)" fill="#f4ff20"/><ellipse cx="496.0" cy="959.0" rx="4.2" ry="2.8" transform="rotate(3 496.0 959.0)" fill="#f4ff20"/><ellipse cx="482.2" cy="925.0" rx="4.6" ry="3.0" transform="rotate(-4 482.2 925.0)" fill="#f4ff20"/><ellipse cx="498.0" cy="952.1" rx="3.8" ry="1.8" transform="rotate(-15 498.0 952.1)" fill="#f4ff20"/><ellipse cx="491.0" cy="960.4" rx="2.9" ry="3.4" transform="rotate(11 491.0 960.4)" fill="#f4ff20"/><ellipse cx="495.0" cy="939.3" rx="3.2" ry="3.0" transform="rotate(2 495.0 939.3)" fill="#f4ff20"/><ellipse cx="485.9" cy="924.9" rx="3.9" ry="2.7" transform="rotate(16 485.9 924.9)" fill="#f4ff20"/><ellipse cx="492.1" cy="917.8" rx="4.0" ry="1.9" transform="rotate(14 492.1 917.8)" fill="#f4ff20"/><ellipse cx="484.4" cy="915.5" rx="5.8" ry="3.1" transform="rotate(-3 484.4 915.5)" fill="#f4ff20"/><ellipse cx="493.1" cy="957.2" rx="5.5" ry="2.0" transform="rotate(-18 493.1 957.2)" fill="#f4ff20"/><ellipse cx="491.5" cy="920.2" rx="4.8" ry="2.5" transform="rotate(1 491.5 920.2)" fill="#f4ff20"/><ellipse cx="483.5" cy="929.4" rx="5.6" ry="3.2" transform="rotate(34 483.5 929.4)" fill="#f4ff20"/><ellipse cx="493.7" cy="943.8" rx="4.7" ry="2.5" transform="rotate(10 493.7 943.8)" fill="#f4ff20"/><ellipse cx="492.0" cy="945.8" rx="4.0" ry="3.5" transform="rotate(-33 492.0 945.8)" fill="#f4ff20"/><ellipse cx="497.5" cy="960.3" rx="5.1" ry="2.8" transform="rotate(-36 497.5 960.3)" fill="#f4ff20"/><ellipse cx="499.3" cy="964.7" rx="5.0" ry="3.0" transform="rotate(18 499.3 964.7)" fill="#f4ff20"/><ellipse cx="497.5" cy="986.5" rx="5.3" ry="1.8" transform="rotate(6 497.5 986.5)" fill="#f4ff20"/><ellipse cx="497.7" cy="979.5" rx="5.3" ry="2.7" transform="rotate(-29 497.7 979.5)" fill="#f4ff20"/><ellipse cx="500.2" cy="988.4" rx="3.3" ry="2.5" transform="rotate(36 500.2 988.4)" fill="#f4ff20"/><ellipse cx="500.4" cy="977.6" rx="3.2" ry="2.3" transform="rotate(-29 500.4 977.6)" fill="#f4ff20"/><ellipse cx="498.4" cy="1023.0" rx="3.3" ry="3.4" transform="rotate(38 498.4 1023.0)" fill="#f4ff20"/><ellipse cx="499.9" cy="989.1" rx="5.6" ry="1.9" transform="rotate(31 499.9 989.1)" fill="#f4ff20"/><ellipse cx="494.5" cy="965.0" rx="4.3" ry="2.0" transform="rotate(-9 494.5 965.0)" fill="#f4ff20"/><ellipse cx="493.7" cy="969.4" rx="3.5" ry="3.0" transform="rotate(-31 493.7 969.4)" fill="#f4ff20"/><ellipse cx="499.2" cy="981.8" rx="3.2" ry="2.0" transform="rotate(14 499.2 981.8)" fill="#f4ff20"/><ellipse cx="495.7" cy="968.6" rx="4.5" ry="3.3" transform="rotate(35 495.7 968.6)" fill="#f4ff20"/><ellipse cx="501.4" cy="977.7" rx="5.4" ry="3.3" transform="rotate(-14 501.4 977.7)" fill="#f4ff20"/><ellipse cx="503.3" cy="1002.6" rx="3.6" ry="2.3" transform="rotate(-31 503.3 1002.6)" fill="#f4ff20"/><ellipse cx="498.7" cy="1005.8" rx="5.1" ry="2.9" transform="rotate(-32 498.7 1005.8)" fill="#f4ff20"/><ellipse cx="507.9" cy="994.5" rx="4.2" ry="3.1" transform="rotate(27 507.9 994.5)" fill="#f4ff20"/><ellipse cx="496.0" cy="975.6" rx="4.2" ry="3.2" transform="rotate(39 496.0 975.6)" fill="#f4ff20"/><ellipse cx="498.2" cy="970.1" rx="5.7" ry="2.8" transform="rotate(10 498.2 970.1)" fill="#f4ff20"/><ellipse cx="493.0" cy="964.0" rx="3.7" ry="3.1" transform="rotate(-10 493.0 964.0)" fill="#f4ff20"/><ellipse cx="500.9" cy="980.1" rx="2.9" ry="3.3" transform="rotate(-21 500.9 980.1)" fill="#f4ff20"/><ellipse cx="497.0" cy="972.2" rx="2.7" ry="3.2" transform="rotate(27 497.0 972.2)" fill="#f4ff20"/><ellipse cx="502.5" cy="1014.1" rx="5.4" ry="1.8" transform="rotate(35 502.5 1014.1)" fill="#f4ff20"/><ellipse cx="499.6" cy="1008.4" rx="4.5" ry="2.8" transform="rotate(-9 499.6 1008.4)" fill="#f4ff20"/><ellipse cx="496.2" cy="986.9" rx="4.4" ry="3.0" transform="rotate(-2 496.2 986.9)" fill="#f4ff20"/><ellipse cx="495.5" cy="965.7" rx="3.7" ry="1.9" transform="rotate(-27 495.5 965.7)" fill="#f4ff20"/><ellipse cx="499.9" cy="978.2" rx="3.4" ry="3.1" transform="rotate(11 499.9 978.2)" fill="#f4ff20"/><ellipse cx="498.3" cy="966.5" rx="3.2" ry="2.3" transform="rotate(-40 498.3 966.5)" fill="#f4ff20"/><ellipse cx="495.8" cy="993.8" rx="3.0" ry="2.9" transform="rotate(7 495.8 993.8)" fill="#f4ff20"/><ellipse cx="498.3" cy="1005.6" rx="2.8" ry="3.0" transform="rotate(-10 498.3 1005.6)" fill="#f4ff20"/><ellipse cx="492.5" cy="960.7" rx="3.3" ry="3.5" transform="rotate(20 492.5 960.7)" fill="#f4ff20"/><ellipse cx="496.5" cy="985.0" rx="5.7" ry="2.7" transform="rotate(7 496.5 985.0)" fill="#f4ff20"/><ellipse cx="498.8" cy="993.4" rx="3.1" ry="3.2" transform="rotate(24 498.8 993.4)" fill="#f4ff20"/><ellipse cx="500.5" cy="987.6" rx="3.5" ry="2.7" transform="rotate(2 500.5 987.6)" fill="#f4ff20"/><ellipse cx="504.1" cy="1043.3" rx="5.1" ry="1.8" transform="rotate(1 504.1 1043.3)" fill="#f4ff20"/><ellipse cx="501.5" cy="1040.6" rx="4.7" ry="3.2" transform="rotate(-13 501.5 1040.6)" fill="#f4ff20"/><ellipse cx="500.6" cy="1037.0" rx="4.6" ry="2.2" transform="rotate(17 500.6 1037.0)" fill="#f4ff20"/><ellipse cx="506.1" cy="1032.5" rx="3.1" ry="2.6" transform="rotate(-12 506.1 1032.5)" fill="#f4ff20"/><ellipse cx="506.8" cy="1022.5" rx="5.5" ry="3.5" transform="rotate(22 506.8 1022.5)" fill="#f4ff20"/><ellipse cx="503.8" cy="1029.6" rx="5.7" ry="1.9" transform="rotate(9 503.8 1029.6)" fill="#f4ff20"/><ellipse cx="508.3" cy="1046.8" rx="5.2" ry="3.5" transform="rotate(13 508.3 1046.8)" fill="#f4ff20"/><ellipse cx="505.0" cy="1028.8" rx="4.7" ry="3.0" transform="rotate(32 505.0 1028.8)" fill="#f4ff20"/><ellipse cx="504.4" cy="1037.7" rx="4.6" ry="3.1" transform="rotate(22 504.4 1037.7)" fill="#f4ff20"/><ellipse cx="506.4" cy="1032.8" rx="5.1" ry="3.0" transform="rotate(-37 506.4 1032.8)" fill="#f4ff20"/><ellipse cx="511.6" cy="1043.2" rx="4.2" ry="3.4" transform="rotate(-23 511.6 1043.2)" fill="#f4ff20"/><ellipse cx="504.8" cy="1043.0" rx="3.1" ry="1.9" transform="rotate(-12 504.8 1043.0)" fill="#f4ff20"/><ellipse cx="511.4" cy="1020.0" rx="3.0" ry="2.4" transform="rotate(-28 511.4 1020.0)" fill="#f4ff20"/><ellipse cx="502.7" cy="1027.6" rx="5.1" ry="2.5" transform="rotate(-32 502.7 1027.6)" fill="#f4ff20"/><ellipse cx="507.1" cy="1035.3" rx="3.9" ry="2.0" transform="rotate(5 507.1 1035.3)" fill="#f4ff20"/><ellipse cx="505.4" cy="1022.2" rx="4.2" ry="3.3" transform="rotate(-6 505.4 1022.2)" fill="#f4ff20"/><ellipse cx="498.4" cy="1030.3" rx="5.7" ry="3.0" transform="rotate(-33 498.4 1030.3)" fill="#f4ff20"/><ellipse cx="515.3" cy="1075.9" rx="4.7" ry="3.5" transform="rotate(-1 515.3 1075.9)" fill="#f4ff20"/><ellipse cx="518.4" cy="1090.0" rx="5.5" ry="2.3" transform="rotate(35 518.4 1090.0)" fill="#f4ff20"/><ellipse cx="502.1" cy="1056.9" rx="3.4" ry="1.9" transform="rotate(-25 502.1 1056.9)" fill="#f4ff20"/><ellipse cx="502.5" cy="1056.3" rx="4.2" ry="3.2" transform="rotate(-32 502.5 1056.3)" fill="#f4ff20"/><ellipse cx="515.1" cy="1074.2" rx="3.6" ry="3.1" transform="rotate(-37 515.1 1074.2)" fill="#f4ff20"/><ellipse cx="513.5" cy="1065.6" rx="4.3" ry="1.9" transform="rotate(20 513.5 1065.6)" fill="#f4ff20"/><ellipse cx="508.7" cy="1090.3" rx="5.6" ry="3.4" transform="rotate(-10 508.7 1090.3)" fill="#f4ff20"/><ellipse cx="512.7" cy="1074.4" rx="2.9" ry="2.7" transform="rotate(36 512.7 1074.4)" fill="#f4ff20"/><ellipse cx="506.0" cy="1065.6" rx="5.7" ry="2.9" transform="rotate(30 506.0 1065.6)" fill="#f4ff20"/><ellipse cx="508.9" cy="1054.8" rx="5.2" ry="3.2" transform="rotate(30 508.9 1054.8)" fill="#f4ff20"/><ellipse cx="515.4" cy="1077.6" rx="3.2" ry="3.1" transform="rotate(23 515.4 1077.6)" fill="#f4ff20"/><ellipse cx="499.7" cy="1059.9" rx="3.6" ry="3.5" transform="rotate(23 499.7 1059.9)" fill="#f4ff20"/><ellipse cx="508.4" cy="1087.7" rx="4.3" ry="2.4" transform="rotate(24 508.4 1087.7)" fill="#f4ff20"/><ellipse cx="508.7" cy="1056.3" rx="4.2" ry="3.3" transform="rotate(-13 508.7 1056.3)" fill="#f4ff20"/><ellipse cx="507.6" cy="1067.3" rx="5.5" ry="3.0" transform="rotate(5 507.6 1067.3)" fill="#f4ff20"/><ellipse cx="512.4" cy="1083.9" rx="5.1" ry="2.0" transform="rotate(-12 512.4 1083.9)" fill="#f4ff20"/><ellipse cx="516.9" cy="1076.9" rx="4.4" ry="3.4" transform="rotate(-9 516.9 1076.9)" fill="#f4ff20"/><ellipse cx="507.4" cy="1082.0" rx="5.3" ry="2.1" transform="rotate(21 507.4 1082.0)" fill="#f4ff20"/><ellipse cx="502.3" cy="1061.9" rx="5.2" ry="2.4" transform="rotate(-26 502.3 1061.9)" fill="#f4ff20"/><ellipse cx="509.0" cy="1062.0" rx="5.7" ry="2.2" transform="rotate(-14 509.0 1062.0)" fill="#f4ff20"/><ellipse cx="511.1" cy="1077.9" rx="3.5" ry="3.3" transform="rotate(-35 511.1 1077.9)" fill="#f4ff20"/><ellipse cx="508.8" cy="1080.3" rx="4.6" ry="3.2" transform="rotate(25 508.8 1080.3)" fill="#f4ff20"/><ellipse cx="511.5" cy="1087.5" rx="5.5" ry="3.1" transform="rotate(17 511.5 1087.5)" fill="#f4ff20"/><ellipse cx="505.2" cy="1065.0" rx="4.2" ry="3.1" transform="rotate(-34 505.2 1065.0)" fill="#f4ff20"/><ellipse cx="524.9" cy="1123.9" rx="3.5" ry="2.6" transform="rotate(-21 524.9 1123.9)" fill="#f4ff20"/><ellipse cx="514.3" cy="1102.1" rx="4.8" ry="3.0" transform="rotate(0 514.3 1102.1)" fill="#f4ff20"/><ellipse cx="509.5" cy="1111.4" rx="3.2" ry="3.1" transform="rotate(31 509.5 1111.4)" fill="#f4ff20"/><ellipse cx="513.0" cy="1094.0" rx="5.0" ry="2.4" transform="rotate(-7 513.0 1094.0)" fill="#f4ff20"/><ellipse cx="509.6" cy="1123.6" rx="3.8" ry="2.0" transform="rotate(-13 509.6 1123.6)" fill="#f4ff20"/><ellipse cx="518.0" cy="1109.9" rx="3.2" ry="2.7" transform="rotate(33 518.0 1109.9)" fill="#f4ff20"/><ellipse cx="510.2" cy="1119.9" rx="3.7" ry="2.9" transform="rotate(6 510.2 1119.9)" fill="#f4ff20"/><ellipse cx="516.7" cy="1103.9" rx="2.8" ry="2.8" transform="rotate(-27 516.7 1103.9)" fill="#f4ff20"/><ellipse cx="519.0" cy="1109.2" rx="2.8" ry="1.8" transform="rotate(25 519.0 1109.2)" fill="#f4ff20"/><ellipse cx="513.6" cy="1108.2" rx="4.5" ry="1.9" transform="rotate(-30 513.6 1108.2)" fill="#f4ff20"/><ellipse cx="521.1" cy="1097.1" rx="4.5" ry="1.8" transform="rotate(-26 521.1 1097.1)" fill="#f4ff20"/><ellipse cx="521.1" cy="1115.3" rx="5.3" ry="2.1" transform="rotate(26 521.1 1115.3)" fill="#f4ff20"/><ellipse cx="516.1" cy="1109.2" rx="4.6" ry="1.9" transform="rotate(2 516.1 1109.2)" fill="#f4ff20"/><ellipse cx="515.0" cy="1109.0" rx="4.2" ry="2.0" transform="rotate(27 515.0 1109.0)" fill="#f4ff20"/><ellipse cx="518.2" cy="1101.8" rx="5.1" ry="2.2" transform="rotate(-15 518.2 1101.8)" fill="#f4ff20"/><ellipse cx="516.8" cy="1098.4" rx="2.7" ry="2.2" transform="rotate(-2 516.8 1098.4)" fill="#f4ff20"/><ellipse cx="513.9" cy="1120.3" rx="5.5" ry="2.4" transform="rotate(36 513.9 1120.3)" fill="#f4ff20"/><ellipse cx="517.4" cy="1115.4" rx="3.8" ry="2.7" transform="rotate(-2 517.4 1115.4)" fill="#f4ff20"/><ellipse cx="516.4" cy="1113.9" rx="4.1" ry="2.9" transform="rotate(23 516.4 1113.9)" fill="#f4ff20"/><ellipse cx="510.2" cy="1099.5" rx="3.4" ry="1.9" transform="rotate(35 510.2 1099.5)" fill="#f4ff20"/><ellipse cx="514.6" cy="1117.2" rx="3.8" ry="2.2" transform="rotate(-16 514.6 1117.2)" fill="#f4ff20"/><ellipse cx="496.7" cy="969.0" rx="3.6" ry="3.1" transform="rotate(4 496.7 969.0)" fill="#f4ff20"/><ellipse cx="482.8" cy="929.4" rx="5.7" ry="2.1" transform="rotate(37 482.8 929.4)" fill="#f4ff20"/><ellipse cx="483.9" cy="914.7" rx="5.6" ry="2.2" transform="rotate(16 483.9 914.7)" fill="#f4ff20"/><ellipse cx="492.3" cy="952.8" rx="5.5" ry="1.9" transform="rotate(-21 492.3 952.8)" fill="#f4ff20"/><ellipse cx="481.9" cy="916.4" rx="4.9" ry="3.1" transform="rotate(20 481.9 916.4)" fill="#f4ff20"/><ellipse cx="498.1" cy="939.5" rx="5.6" ry="3.0" transform="rotate(-33 498.1 939.5)" fill="#f4ff20"/><ellipse cx="480.5" cy="935.8" rx="4.0" ry="1.8" transform="rotate(-39 480.5 935.8)" fill="#f4ff20"/><ellipse cx="494.7" cy="956.9" rx="5.6" ry="2.1" transform="rotate(-5 494.7 956.9)" fill="#f4ff20"/><ellipse cx="481.5" cy="937.7" rx="3.8" ry="3.2" transform="rotate(30 481.5 937.7)" fill="#f4ff20"/><ellipse cx="496.7" cy="971.7" rx="4.8" ry="2.6" transform="rotate(17 496.7 971.7)" fill="#f4ff20"/><ellipse cx="497.1" cy="930.7" rx="3.5" ry="2.7" transform="rotate(-8 497.1 930.7)" fill="#f4ff20"/><ellipse cx="485.9" cy="977.3" rx="5.1" ry="1.8" transform="rotate(7 485.9 977.3)" fill="#f4ff20"/><ellipse cx="488.7" cy="934.7" rx="4.1" ry="3.4" transform="rotate(-25 488.7 934.7)" fill="#f4ff20"/><ellipse cx="475.6" cy="934.6" rx="5.3" ry="3.5" transform="rotate(-3 475.6 934.6)" fill="#f4ff20"/><ellipse cx="487.6" cy="970.9" rx="5.3" ry="2.4" transform="rotate(6 487.6 970.9)" fill="#f4ff20"/><ellipse cx="486.1" cy="942.2" rx="3.0" ry="2.3" transform="rotate(-13 486.1 942.2)" fill="#f4ff20"/><ellipse cx="485.0" cy="971.6" rx="5.6" ry="2.4" transform="rotate(-6 485.0 971.6)" fill="#f4ff20"/><ellipse cx="492.3" cy="917.1" rx="3.4" ry="3.1" transform="rotate(-9 492.3 917.1)" fill="#f4ff20"/><ellipse cx="490.1" cy="921.0" rx="5.3" ry="3.4" transform="rotate(11 490.1 921.0)" fill="#f4ff20"/><ellipse cx="499.7" cy="920.7" rx="4.0" ry="3.2" transform="rotate(14 499.7 920.7)" fill="#f4ff20"/><ellipse cx="486.4" cy="948.3" rx="2.9" ry="2.4" transform="rotate(-8 486.4 948.3)" fill="#f4ff20"/><ellipse cx="487.3" cy="967.3" rx="5.1" ry="2.6" transform="rotate(-29 487.3 967.3)" fill="#f4ff20"/><ellipse cx="479.4" cy="920.1" rx="3.1" ry="2.3" transform="rotate(-25 479.4 920.1)" fill="#f4ff20"/><ellipse cx="507.3" cy="1037.3" rx="3.1" ry="2.3" transform="rotate(-6 507.3 1037.3)" fill="#f4ff20"/><ellipse cx="502.6" cy="1002.5" rx="4.6" ry="1.9" transform="rotate(-22 502.6 1002.5)" fill="#f4ff20"/><ellipse cx="503.6" cy="1016.8" rx="3.7" ry="2.0" transform="rotate(-16 503.6 1016.8)" fill="#f4ff20"/><ellipse cx="500.7" cy="1027.4" rx="2.8" ry="2.7" transform="rotate(12 500.7 1027.4)" fill="#f4ff20"/><ellipse cx="510.3" cy="1038.0" rx="5.2" ry="2.6" transform="rotate(-19 510.3 1038.0)" fill="#f4ff20"/><ellipse cx="484.4" cy="981.9" rx="3.6" ry="1.8" transform="rotate(-34 484.4 981.9)" fill="#f4ff20"/><ellipse cx="512.8" cy="1035.5" rx="5.6" ry="3.2" transform="rotate(-30 512.8 1035.5)" fill="#f4ff20"/><ellipse cx="503.5" cy="1001.7" rx="3.8" ry="3.4" transform="rotate(18 503.5 1001.7)" fill="#f4ff20"/><ellipse cx="510.8" cy="988.9" rx="3.1" ry="2.9" transform="rotate(-7 510.8 988.9)" fill="#f4ff20"/><ellipse cx="500.2" cy="985.8" rx="4.8" ry="2.1" transform="rotate(9 500.2 985.8)" fill="#f4ff20"/><ellipse cx="497.4" cy="999.7" rx="4.5" ry="2.0" transform="rotate(-27 497.4 999.7)" fill="#f4ff20"/><ellipse cx="493.3" cy="990.8" rx="5.7" ry="2.5" transform="rotate(9 493.3 990.8)" fill="#f4ff20"/><ellipse cx="504.7" cy="1026.3" rx="5.6" ry="2.4" transform="rotate(30 504.7 1026.3)" fill="#f4ff20"/><ellipse cx="512.2" cy="1029.5" rx="5.5" ry="2.9" transform="rotate(-0 512.2 1029.5)" fill="#f4ff20"/><ellipse cx="511.7" cy="1036.9" rx="3.8" ry="3.2" transform="rotate(-15 511.7 1036.9)" fill="#f4ff20"/><ellipse cx="488.5" cy="982.2" rx="2.9" ry="2.2" transform="rotate(-22 488.5 982.2)" fill="#f4ff20"/><ellipse cx="490.9" cy="990.1" rx="3.7" ry="3.1" transform="rotate(3 490.9 990.1)" fill="#f4ff20"/><ellipse cx="501.7" cy="1027.0" rx="3.0" ry="3.0" transform="rotate(23 501.7 1027.0)" fill="#f4ff20"/><ellipse cx="514.9" cy="1042.2" rx="2.9" ry="2.6" transform="rotate(23 514.9 1042.2)" fill="#f4ff20"/><ellipse cx="503.4" cy="1032.7" rx="2.8" ry="2.8" transform="rotate(-27 503.4 1032.7)" fill="#f4ff20"/><ellipse cx="496.5" cy="1048.2" rx="5.5" ry="2.2" transform="rotate(2 496.5 1048.2)" fill="#f4ff20"/><ellipse cx="497.4" cy="987.1" rx="4.7" ry="2.8" transform="rotate(-6 497.4 987.1)" fill="#f4ff20"/><ellipse cx="508.0" cy="1040.3" rx="4.7" ry="2.5" transform="rotate(-33 508.0 1040.3)" fill="#f4ff20"/><ellipse cx="518.7" cy="1012.0" rx="4.5" ry="2.7" transform="rotate(16 518.7 1012.0)" fill="#f4ff20"/><ellipse cx="507.4" cy="984.4" rx="3.7" ry="2.8" transform="rotate(-13 507.4 984.4)" fill="#f4ff20"/><ellipse cx="498.9" cy="1028.1" rx="4.6" ry="2.2" transform="rotate(-11 498.9 1028.1)" fill="#f4ff20"/><ellipse cx="522.9" cy="1099.8" rx="5.7" ry="3.4" transform="rotate(8 522.9 1099.8)" fill="#f4ff20"/><ellipse cx="502.8" cy="1091.3" rx="3.4" ry="3.3" transform="rotate(30 502.8 1091.3)" fill="#f4ff20"/><ellipse cx="518.8" cy="1093.6" rx="3.8" ry="2.0" transform="rotate(18 518.8 1093.6)" fill="#f4ff20"/><ellipse cx="501.1" cy="1106.0" rx="3.6" ry="2.8" transform="rotate(-37 501.1 1106.0)" fill="#f4ff20"/><ellipse cx="484.4" cy="1063.3" rx="2.8" ry="2.0" transform="rotate(21 484.4 1063.3)" fill="#f4ff20"/><ellipse cx="497.7" cy="1085.6" rx="4.8" ry="2.5" transform="rotate(-7 497.7 1085.6)" fill="#f4ff20"/><ellipse cx="500.9" cy="1096.7" rx="2.9" ry="1.9" transform="rotate(12 500.9 1096.7)" fill="#f4ff20"/><ellipse cx="504.5" cy="1055.0" rx="3.1" ry="2.4" transform="rotate(-4 504.5 1055.0)" fill="#f4ff20"/><ellipse cx="520.1" cy="1056.5" rx="4.6" ry="2.8" transform="rotate(31 520.1 1056.5)" fill="#f4ff20"/><ellipse cx="515.0" cy="1123.4" rx="2.9" ry="2.4" transform="rotate(-0 515.0 1123.4)" fill="#f4ff20"/><ellipse cx="513.2" cy="1119.7" rx="4.0" ry="3.5" transform="rotate(-22 513.2 1119.7)" fill="#f4ff20"/><ellipse cx="516.1" cy="1126.4" rx="4.5" ry="2.5" transform="rotate(-13 516.1 1126.4)" fill="#f4ff20"/><ellipse cx="514.6" cy="1089.7" rx="3.9" ry="3.1" transform="rotate(-11 514.6 1089.7)" fill="#f4ff20"/><ellipse cx="508.9" cy="1100.0" rx="5.5" ry="3.4" transform="rotate(20 508.9 1100.0)" fill="#f4ff20"/><ellipse cx="514.3" cy="1135.5" rx="5.2" ry="3.5" transform="rotate(11 514.3 1135.5)" fill="#f4ff20"/><ellipse cx="515.5" cy="1102.4" rx="3.1" ry="2.0" transform="rotate(31 515.5 1102.4)" fill="#f4ff20"/><ellipse cx="504.8" cy="1134.1" rx="3.7" ry="3.1" transform="rotate(39 504.8 1134.1)" fill="#f4ff20"/><ellipse cx="510.8" cy="1073.5" rx="3.1" ry="1.8" transform="rotate(-27 510.8 1073.5)" fill="#f4ff20"/><ellipse cx="509.7" cy="1134.8" rx="4.3" ry="2.1" transform="rotate(14 509.7 1134.8)" fill="#f4ff20"/><ellipse cx="512.6" cy="1062.7" rx="4.9" ry="2.0" transform="rotate(-16 512.6 1062.7)" fill="#f4ff20"/><ellipse cx="508.0" cy="1072.7" rx="3.1" ry="3.5" transform="rotate(-24 508.0 1072.7)" fill="#f4ff20"/><ellipse cx="509.4" cy="1053.5" rx="3.7" ry="3.5" transform="rotate(33 509.4 1053.5)" fill="#f4ff20"/><ellipse cx="508.4" cy="1054.9" rx="4.0" ry="2.5" transform="rotate(-30 508.4 1054.9)" fill="#f4ff20"/><ellipse cx="514.3" cy="1098.7" rx="5.0" ry="2.1" transform="rotate(36 514.3 1098.7)" fill="#f4ff20"/><ellipse cx="510.1" cy="1108.0" rx="2.7" ry="3.3" transform="rotate(-23 510.1 1108.0)" fill="#f4ff20"/><ellipse cx="512.1" cy="1108.1" rx="3.2" ry="2.1" transform="rotate(28 512.1 1108.1)" fill="#f4ff20"/><ellipse cx="506.1" cy="1086.2" rx="5.5" ry="2.3" transform="rotate(-12 506.1 1086.2)" fill="#f4ff20"/><ellipse cx="516.3" cy="1119.1" rx="4.2" ry="3.2" transform="rotate(-16 516.3 1119.1)" fill="#f4ff20"/><ellipse cx="521.5" cy="1082.1" rx="3.2" ry="3.1" transform="rotate(2 521.5 1082.1)" fill="#f4ff20"/><ellipse cx="511.6" cy="1095.7" rx="4.8" ry="1.8" transform="rotate(-14 511.6 1095.7)" fill="#f4ff20"/><ellipse cx="515.5" cy="1136.9" rx="4.3" ry="2.9" transform="rotate(5 515.5 1136.9)" fill="#f4ff20"/><ellipse cx="520.6" cy="1107.6" rx="2.9" ry="1.9" transform="rotate(30 520.6 1107.6)" fill="#f4ff20"/><ellipse cx="491.2" cy="1104.0" rx="3.8" ry="3.4" transform="rotate(21 491.2 1104.0)" fill="#f4ff20"/><ellipse cx="504.3" cy="1055.2" rx="3.3" ry="2.4" transform="rotate(-13 504.3 1055.2)" fill="#f4ff20"/><ellipse cx="561.1" cy="1056.1" rx="4.0" ry="1.9" transform="rotate(-35 561.1 1056.1)" fill="#f4ff20"/><ellipse cx="559.5" cy="1064.3" rx="4.1" ry="1.9" transform="rotate(35 559.5 1064.3)" fill="#f4ff20"/><ellipse cx="565.4" cy="1058.4" rx="4.8" ry="2.2" transform="rotate(-25 565.4 1058.4)" fill="#f4ff20"/><ellipse cx="566.9" cy="1059.2" rx="3.8" ry="3.4" transform="rotate(-5 566.9 1059.2)" fill="#f4ff20"/><ellipse cx="566.7" cy="1052.4" rx="4.3" ry="3.5" transform="rotate(7 566.7 1052.4)" fill="#f4ff20"/><ellipse cx="563.1" cy="1061.8" rx="4.5" ry="2.4" transform="rotate(-28 563.1 1061.8)" fill="#f4ff20"/><ellipse cx="561.8" cy="1063.1" rx="3.8" ry="2.2" transform="rotate(-39 561.8 1063.1)" fill="#f4ff20"/><ellipse cx="564.8" cy="1066.1" rx="4.7" ry="2.5" transform="rotate(21 564.8 1066.1)" fill="#f4ff20"/><ellipse cx="567.5" cy="1061.9" rx="3.3" ry="3.1" transform="rotate(7 567.5 1061.9)" fill="#f4ff20"/><ellipse cx="572.2" cy="1080.9" rx="4.3" ry="2.0" transform="rotate(-17 572.2 1080.9)" fill="#f4ff20"/><ellipse cx="565.9" cy="1072.8" rx="4.3" ry="2.3" transform="rotate(16 565.9 1072.8)" fill="#f4ff20"/><ellipse cx="572.9" cy="1085.5" rx="3.2" ry="2.5" transform="rotate(-5 572.9 1085.5)" fill="#f4ff20"/><ellipse cx="569.4" cy="1074.4" rx="4.2" ry="2.4" transform="rotate(32 569.4 1074.4)" fill="#f4ff20"/><ellipse cx="566.1" cy="1071.5" rx="5.2" ry="3.3" transform="rotate(-27 566.1 1071.5)" fill="#f4ff20"/><ellipse cx="563.7" cy="1073.3" rx="3.7" ry="1.8" transform="rotate(10 563.7 1073.3)" fill="#f4ff20"/><ellipse cx="564.0" cy="1073.8" rx="4.4" ry="2.7" transform="rotate(-29 564.0 1073.8)" fill="#f4ff20"/><ellipse cx="564.7" cy="955.7" rx="3.0" ry="2.1" transform="rotate(40 564.7 955.7)" fill="#f4ff20"/><ellipse cx="565.6" cy="965.6" rx="5.0" ry="3.1" transform="rotate(1 565.6 965.6)" fill="#f4ff20"/><ellipse cx="566.3" cy="989.5" rx="5.3" ry="2.0" transform="rotate(23 566.3 989.5)" fill="#f4ff20"/><ellipse cx="563.3" cy="982.1" rx="3.4" ry="2.0" transform="rotate(-30 563.3 982.1)" fill="#f4ff20"/><ellipse cx="559.8" cy="938.6" rx="5.5" ry="1.9" transform="rotate(33 559.8 938.6)" fill="#f4ff20"/><ellipse cx="561.6" cy="935.7" rx="3.2" ry="2.5" transform="rotate(-38 561.6 935.7)" fill="#f4ff20"/><ellipse cx="559.7" cy="922.8" rx="3.7" ry="3.1" transform="rotate(23 559.7 922.8)" fill="#f4ff20"/><ellipse cx="562.3" cy="919.8" rx="4.2" ry="3.2" transform="rotate(-21 562.3 919.8)" fill="#f4ff20"/><ellipse cx="556.1" cy="958.7" rx="5.6" ry="1.8" transform="rotate(-35 556.1 958.7)" fill="#f4ff20"/><ellipse cx="554.2" cy="921.6" rx="5.3" ry="3.1" transform="rotate(-36 554.2 921.6)" fill="#f4ff20"/><ellipse cx="563.3" cy="969.6" rx="4.3" ry="2.6" transform="rotate(-19 563.3 969.6)" fill="#f4ff20"/><ellipse cx="568.8" cy="992.7" rx="4.7" ry="2.6" transform="rotate(38 568.8 992.7)" fill="#f4ff20"/><ellipse cx="559.8" cy="961.7" rx="5.3" ry="3.3" transform="rotate(-12 559.8 961.7)" fill="#f4ff20"/><ellipse cx="562.0" cy="957.4" rx="3.0" ry="2.4" transform="rotate(14 562.0 957.4)" fill="#f4ff20"/><ellipse cx="406.4" cy="204.8" rx="1.7" ry="1.8" transform="rotate(9 406.4 204.8)" fill="#30e8e8"/><ellipse cx="405.1" cy="197.9" rx="2.7" ry="1.3" transform="rotate(-35 405.1 197.9)" fill="#ff8000"/><ellipse cx="398.8" cy="175.3" rx="3.0" ry="1.5" transform="rotate(23 398.8 175.3)" fill="#e01000"/><ellipse cx="412.7" cy="149.8" rx="3.4" ry="2.0" transform="rotate(-32 412.7 149.8)" fill="#30e8e8"/><ellipse cx="407.3" cy="177.9" rx="2.0" ry="1.2" transform="rotate(-30 407.3 177.9)" fill="#ff8000"/><ellipse cx="413.6" cy="153.7" rx="2.1" ry="2.0" transform="rotate(8 413.6 153.7)" fill="#e01000"/><ellipse cx="410.2" cy="166.0" rx="3.0" ry="2.2" transform="rotate(23 410.2 166.0)" fill="#ff8000"/><ellipse cx="418.8" cy="211.4" rx="3.3" ry="1.2" transform="rotate(-15 418.8 211.4)" fill="#30e8e8"/><ellipse cx="409.6" cy="175.0" rx="2.9" ry="1.8" transform="rotate(-29 409.6 175.0)" fill="#ff8000"/><ellipse cx="400.4" cy="164.3" rx="2.6" ry="1.6" transform="rotate(29 400.4 164.3)" fill="#e01000"/><ellipse cx="409.6" cy="170.6" rx="2.9" ry="1.4" transform="rotate(3 409.6 170.6)" fill="#e01000"/><ellipse cx="418.7" cy="155.3" rx="1.9" ry="1.3" transform="rotate(-32 418.7 155.3)" fill="#e01000"/><ellipse cx="404.1" cy="199.5" rx="2.3" ry="1.3" transform="rotate(9 404.1 199.5)" fill="#ff8000"/><ellipse cx="415.5" cy="195.6" rx="1.9" ry="1.6" transform="rotate(14 415.5 195.6)" fill="#ff8000"/><ellipse cx="410.1" cy="187.2" rx="2.8" ry="1.6" transform="rotate(28 410.1 187.2)" fill="#ff8000"/><ellipse cx="417.3" cy="242.6" rx="1.9" ry="1.7" transform="rotate(35 417.3 242.6)" fill="#30e8e8"/><ellipse cx="402.3" cy="253.0" rx="1.7" ry="2.0" transform="rotate(6 402.3 253.0)" fill="#ff8000"/><ellipse cx="411.2" cy="232.6" rx="2.1" ry="1.1" transform="rotate(-8 411.2 232.6)" fill="#ff8000"/><ellipse cx="396.3" cy="276.0" rx="1.9" ry="1.3" transform="rotate(6 396.3 276.0)" fill="#e01000"/><ellipse cx="409.6" cy="278.7" rx="2.5" ry="1.4" transform="rotate(9 409.6 278.7)" fill="#30e8e8"/><ellipse cx="411.2" cy="286.7" rx="1.7" ry="1.7" transform="rotate(-15 411.2 286.7)" fill="#ff8000"/><ellipse cx="419.9" cy="259.3" rx="1.7" ry="1.1" transform="rotate(27 419.9 259.3)" fill="#ff8000"/><ellipse cx="407.4" cy="284.8" rx="1.7" ry="2.2" transform="rotate(-15 407.4 284.8)" fill="#30e8e8"/><ellipse cx="409.5" cy="276.2" rx="2.4" ry="1.2" transform="rotate(36 409.5 276.2)" fill="#ff8000"/><ellipse cx="402.6" cy="222.1" rx="3.4" ry="2.2" transform="rotate(38 402.6 222.1)" fill="#30e8e8"/><ellipse cx="413.6" cy="232.1" rx="1.8" ry="1.7" transform="rotate(-24 413.6 232.1)" fill="#e01000"/><ellipse cx="406.9" cy="263.8" rx="1.9" ry="2.1" transform="rotate(2 406.9 263.8)" fill="#30e8e8"/><ellipse cx="416.8" cy="269.0" rx="2.0" ry="1.6" transform="rotate(12 416.8 269.0)" fill="#30e8e8"/><ellipse cx="410.0" cy="250.4" rx="2.8" ry="2.0" transform="rotate(-3 410.0 250.4)" fill="#ff8000"/><ellipse cx="405.8" cy="259.6" rx="2.3" ry="2.0" transform="rotate(18 405.8 259.6)" fill="#e01000"/><ellipse cx="417.5" cy="256.5" rx="2.1" ry="1.9" transform="rotate(-34 417.5 256.5)" fill="#e01000"/><ellipse cx="408.6" cy="284.3" rx="1.6" ry="2.1" transform="rotate(1 408.6 284.3)" fill="#ff8000"/><ellipse cx="414.7" cy="319.9" rx="2.2" ry="1.9" transform="rotate(33 414.7 319.9)" fill="#30e8e8"/><ellipse cx="418.2" cy="306.0" rx="2.0" ry="2.0" transform="rotate(31 418.2 306.0)" fill="#e01000"/><ellipse cx="425.7" cy="314.6" rx="2.1" ry="1.6" transform="rotate(-17 425.7 314.6)" fill="#30e8e8"/><ellipse cx="412.1" cy="291.0" rx="3.2" ry="1.2" transform="rotate(21 412.1 291.0)" fill="#e01000"/><ellipse cx="418.5" cy="324.5" rx="2.9" ry="2.2" transform="rotate(20 418.5 324.5)" fill="#ff8000"/><ellipse cx="423.7" cy="300.0" rx="1.6" ry="1.8" transform="rotate(-29 423.7 300.0)" fill="#ff8000"/><ellipse cx="416.7" cy="301.7" rx="1.8" ry="1.2" transform="rotate(-11 416.7 301.7)" fill="#30e8e8"/><ellipse cx="411.0" cy="299.7" rx="3.0" ry="1.4" transform="rotate(-27 411.0 299.7)" fill="#e01000"/><ellipse cx="421.7" cy="323.8" rx="3.2" ry="1.8" transform="rotate(-26 421.7 323.8)" fill="#ff8000"/><ellipse cx="413.6" cy="309.5" rx="2.5" ry="1.4" transform="rotate(-11 413.6 309.5)" fill="#ff8000"/><ellipse cx="425.9" cy="385.5" rx="2.1" ry="1.3" transform="rotate(-13 425.9 385.5)" fill="#30e8e8"/><ellipse cx="428.4" cy="346.8" rx="2.3" ry="1.1" transform="rotate(-2 428.4 346.8)" fill="#e01000"/><ellipse cx="437.3" cy="388.8" rx="3.3" ry="1.7" transform="rotate(-26 437.3 388.8)" fill="#30e8e8"/><ellipse cx="438.0" cy="407.3" rx="2.1" ry="1.6" transform="rotate(36 438.0 407.3)" fill="#ff8000"/><ellipse cx="446.2" cy="451.2" rx="2.5" ry="1.4" transform="rotate(-28 446.2 451.2)" fill="#30e8e8"/><ellipse cx="440.8" cy="450.3" rx="2.8" ry="1.9" transform="rotate(-25 440.8 450.3)" fill="#30e8e8"/><ellipse cx="441.5" cy="436.7" rx="2.1" ry="1.4" transform="rotate(-19 441.5 436.7)" fill="#ff8000"/><ellipse cx="457.7" cy="496.9" rx="1.7" ry="1.5" transform="rotate(-6 457.7 496.9)" fill="#e01000"/><ellipse cx="441.1" cy="459.3" rx="2.5" ry="1.3" transform="rotate(-26 441.1 459.3)" fill="#e01000"/><ellipse cx="446.0" cy="491.6" rx="1.9" ry="1.2" transform="rotate(-9 446.0 491.6)" fill="#e01000"/><ellipse cx="443.4" cy="473.4" rx="2.5" ry="1.8" transform="rotate(34 443.4 473.4)" fill="#ff8000"/><ellipse cx="457.0" cy="499.6" rx="3.1" ry="2.1" transform="rotate(-31 457.0 499.6)" fill="#30e8e8"/><ellipse cx="443.1" cy="468.9" rx="1.7" ry="1.9" transform="rotate(26 443.1 468.9)" fill="#ff8000"/><ellipse cx="438.6" cy="478.8" rx="1.9" ry="1.2" transform="rotate(-30 438.6 478.8)" fill="#30e8e8"/><ellipse cx="465.0" cy="472.8" rx="1.7" ry="2.0" transform="rotate(22 465.0 472.8)" fill="#e01000"/><ellipse cx="465.2" cy="492.2" rx="2.1" ry="2.1" transform="rotate(-40 465.2 492.2)" fill="#ff8000"/><ellipse cx="445.6" cy="467.1" rx="1.8" ry="1.3" transform="rotate(-22 445.6 467.1)" fill="#e01000"/><ellipse cx="454.7" cy="459.8" rx="1.9" ry="1.9" transform="rotate(-36 454.7 459.8)" fill="#30e8e8"/><ellipse cx="455.8" cy="479.8" rx="1.6" ry="1.1" transform="rotate(27 455.8 479.8)" fill="#ff8000"/><ellipse cx="465.7" cy="487.0" rx="1.7" ry="1.6" transform="rotate(7 465.7 487.0)" fill="#30e8e8"/><ellipse cx="424.3" cy="455.8" rx="2.5" ry="2.1" transform="rotate(30 424.3 455.8)" fill="#ff8000"/><ellipse cx="502.6" cy="502.4" rx="2.2" ry="1.3" transform="rotate(25 502.6 502.4)" fill="#ff8000"/><ellipse cx="481.3" cy="468.2" rx="3.0" ry="1.9" transform="rotate(-6 481.3 468.2)" fill="#e01000"/><ellipse cx="459.5" cy="484.2" rx="2.9" ry="1.9" transform="rotate(-3 459.5 484.2)" fill="#30e8e8"/><ellipse cx="454.6" cy="452.5" rx="2.7" ry="1.3" transform="rotate(37 454.6 452.5)" fill="#ff8000"/><ellipse cx="449.3" cy="490.1" rx="2.8" ry="1.9" transform="rotate(-7 449.3 490.1)" fill="#ff8000"/><ellipse cx="474.7" cy="484.4" rx="2.2" ry="1.6" transform="rotate(-37 474.7 484.4)" fill="#e01000"/><ellipse cx="477.0" cy="490.2" rx="3.1" ry="1.4" transform="rotate(12 477.0 490.2)" fill="#30e8e8"/><ellipse cx="467.4" cy="494.5" rx="1.8" ry="2.1" transform="rotate(-10 467.4 494.5)" fill="#30e8e8"/><ellipse cx="443.0" cy="497.9" rx="2.1" ry="1.1" transform="rotate(6 443.0 497.9)" fill="#30e8e8"/><ellipse cx="453.3" cy="482.9" rx="1.8" ry="1.6" transform="rotate(2 453.3 482.9)" fill="#ff8000"/><ellipse cx="444.9" cy="462.6" rx="3.0" ry="2.2" transform="rotate(7 444.9 462.6)" fill="#30e8e8"/><ellipse cx="473.1" cy="475.6" rx="3.1" ry="1.8" transform="rotate(28 473.1 475.6)" fill="#e01000"/><ellipse cx="478.5" cy="524.3" rx="2.7" ry="1.4" transform="rotate(9 478.5 524.3)" fill="#e01000"/><ellipse cx="474.9" cy="515.2" rx="2.4" ry="1.8" transform="rotate(3 474.9 515.2)" fill="#30e8e8"/><ellipse cx="461.2" cy="500.3" rx="2.4" ry="1.5" transform="rotate(-23 461.2 500.3)" fill="#ff8000"/><ellipse cx="475.3" cy="528.0" rx="2.6" ry="1.5" transform="rotate(12 475.3 528.0)" fill="#30e8e8"/><ellipse cx="442.3" cy="506.3" rx="2.3" ry="1.4" transform="rotate(9 442.3 506.3)" fill="#e01000"/><ellipse cx="464.8" cy="539.9" rx="2.0" ry="1.6" transform="rotate(11 464.8 539.9)" fill="#e01000"/><ellipse cx="481.1" cy="537.1" rx="3.1" ry="2.0" transform="rotate(23 481.1 537.1)" fill="#ff8000"/><ellipse cx="466.7" cy="512.4" rx="1.9" ry="1.4" transform="rotate(-5 466.7 512.4)" fill="#e01000"/><ellipse cx="470.8" cy="516.7" rx="2.0" ry="1.4" transform="rotate(-3 470.8 516.7)" fill="#30e8e8"/><ellipse cx="468.2" cy="522.0" rx="2.3" ry="1.4" transform="rotate(17 468.2 522.0)" fill="#e01000"/><ellipse cx="497.4" cy="532.5" rx="2.0" ry="1.7" transform="rotate(-30 497.4 532.5)" fill="#30e8e8"/><ellipse cx="464.0" cy="521.3" rx="2.3" ry="1.6" transform="rotate(32 464.0 521.3)" fill="#30e8e8"/><ellipse cx="479.8" cy="530.2" rx="3.2" ry="1.4" transform="rotate(-36 479.8 530.2)" fill="#e01000"/><ellipse cx="469.9" cy="523.8" rx="1.8" ry="1.5" transform="rotate(-5 469.9 523.8)" fill="#ff8000"/><ellipse cx="479.5" cy="523.3" rx="1.8" ry="1.6" transform="rotate(31 479.5 523.3)" fill="#30e8e8"/><ellipse cx="467.9" cy="536.1" rx="2.2" ry="1.8" transform="rotate(-32 467.9 536.1)" fill="#30e8e8"/><ellipse cx="468.2" cy="520.6" rx="1.8" ry="2.0" transform="rotate(36 468.2 520.6)" fill="#e01000"/><ellipse cx="464.9" cy="533.4" rx="2.5" ry="1.5" transform="rotate(26 464.9 533.4)" fill="#ff8000"/><ellipse cx="475.5" cy="529.7" rx="2.5" ry="1.1" transform="rotate(30 475.5 529.7)" fill="#ff8000"/><ellipse cx="475.4" cy="526.9" rx="2.5" ry="1.4" transform="rotate(-19 475.4 526.9)" fill="#ff8000"/><ellipse cx="487.2" cy="531.6" rx="2.8" ry="1.6" transform="rotate(-33 487.2 531.6)" fill="#ff8000"/><ellipse cx="467.8" cy="518.4" rx="3.0" ry="1.7" transform="rotate(6 467.8 518.4)" fill="#ff8000"/><ellipse cx="454.7" cy="517.1" rx="2.0" ry="1.4" transform="rotate(22 454.7 517.1)" fill="#30e8e8"/><ellipse cx="450.3" cy="523.0" rx="3.2" ry="1.3" transform="rotate(26 450.3 523.0)" fill="#ff8000"/><ellipse cx="484.5" cy="537.8" rx="2.2" ry="1.3" transform="rotate(35 484.5 537.8)" fill="#30e8e8"/><ellipse cx="476.6" cy="509.6" rx="2.6" ry="1.2" transform="rotate(-21 476.6 509.6)" fill="#30e8e8"/><ellipse cx="477.2" cy="526.9" rx="1.8" ry="2.1" transform="rotate(2 477.2 526.9)" fill="#ff8000"/><ellipse cx="465.5" cy="539.1" rx="2.8" ry="1.8" transform="rotate(-31 465.5 539.1)" fill="#e01000"/><ellipse cx="422.6" cy="474.1" rx="3.3" ry="1.1" transform="rotate(-1 422.6 474.1)" fill="#ff8000"/><ellipse cx="424.4" cy="473.2" rx="2.1" ry="2.0" transform="rotate(16 424.4 473.2)" fill="#ff8000"/><ellipse cx="427.5" cy="475.2" rx="2.5" ry="2.1" transform="rotate(2 427.5 475.2)" fill="#ff8000"/><ellipse cx="551.4" cy="369.3" rx="2.5" ry="2.1" transform="rotate(15 551.4 369.3)" fill="#ff8000"/><ellipse cx="549.9" cy="360.9" rx="3.3" ry="2.0" transform="rotate(29 549.9 360.9)" fill="#e01000"/><ellipse cx="553.3" cy="355.6" rx="2.1" ry="1.5" transform="rotate(15 553.3 355.6)" fill="#ff8000"/><ellipse cx="561.1" cy="360.4" rx="2.8" ry="1.9" transform="rotate(-20 561.1 360.4)" fill="#30e8e8"/><ellipse cx="556.7" cy="357.0" rx="2.3" ry="1.7" transform="rotate(-19 556.7 357.0)" fill="#30e8e8"/><ellipse cx="559.6" cy="374.3" rx="3.2" ry="1.6" transform="rotate(36 559.6 374.3)" fill="#ff8000"/><ellipse cx="549.6" cy="379.8" rx="2.3" ry="1.5" transform="rotate(14 549.6 379.8)" fill="#ff8000"/><ellipse cx="553.4" cy="387.2" rx="2.1" ry="1.3" transform="rotate(29 553.4 387.2)" fill="#ff8000"/><ellipse cx="544.5" cy="355.6" rx="1.9" ry="2.1" transform="rotate(23 544.5 355.6)" fill="#30e8e8"/><ellipse cx="556.4" cy="381.8" rx="2.2" ry="2.0" transform="rotate(29 556.4 381.8)" fill="#ff8000"/><ellipse cx="544.7" cy="367.3" rx="1.9" ry="1.4" transform="rotate(-25 544.7 367.3)" fill="#e01000"/><ellipse cx="551.0" cy="371.5" rx="2.0" ry="1.6" transform="rotate(-27 551.0 371.5)" fill="#ff8000"/><ellipse cx="555.3" cy="357.1" rx="2.2" ry="1.8" transform="rotate(33 555.3 357.1)" fill="#e01000"/><ellipse cx="553.2" cy="363.1" rx="2.9" ry="1.8" transform="rotate(-9 553.2 363.1)" fill="#ff8000"/><ellipse cx="543.5" cy="355.0" rx="3.3" ry="1.8" transform="rotate(9 543.5 355.0)" fill="#30e8e8"/><ellipse cx="554.6" cy="355.3" rx="2.9" ry="2.1" transform="rotate(-3 554.6 355.3)" fill="#ff8000"/><ellipse cx="554.0" cy="418.3" rx="1.8" ry="1.9" transform="rotate(5 554.0 418.3)" fill="#e01000"/><ellipse cx="538.4" cy="417.6" rx="2.9" ry="2.0" transform="rotate(-39 538.4 417.6)" fill="#ff8000"/><ellipse cx="548.9" cy="409.4" rx="2.9" ry="1.1" transform="rotate(13 548.9 409.4)" fill="#e01000"/><ellipse cx="556.4" cy="415.9" rx="1.6" ry="1.7" transform="rotate(0 556.4 415.9)" fill="#ff8000"/><ellipse cx="568.4" cy="415.7" rx="2.7" ry="1.6" transform="rotate(23 568.4 415.7)" fill="#ff8000"/><ellipse cx="548.1" cy="406.6" rx="1.7" ry="1.6" transform="rotate(25 548.1 406.6)" fill="#30e8e8"/><ellipse cx="549.0" cy="401.6" rx="2.5" ry="2.2" transform="rotate(-18 549.0 401.6)" fill="#e01000"/><ellipse cx="541.8" cy="419.0" rx="3.4" ry="1.2" transform="rotate(6 541.8 419.0)" fill="#ff8000"/><ellipse cx="554.6" cy="405.5" rx="2.4" ry="1.6" transform="rotate(36 554.6 405.5)" fill="#30e8e8"/><ellipse cx="538.3" cy="389.3" rx="2.2" ry="1.4" transform="rotate(18 538.3 389.3)" fill="#30e8e8"/><ellipse cx="544.8" cy="403.3" rx="2.1" ry="1.5" transform="rotate(-20 544.8 403.3)" fill="#ff8000"/><ellipse cx="546.4" cy="402.2" rx="2.7" ry="2.1" transform="rotate(36 546.4 402.2)" fill="#e01000"/><ellipse cx="545.6" cy="424.2" rx="2.9" ry="1.3" transform="rotate(-4 545.6 424.2)" fill="#ff8000"/><ellipse cx="555.6" cy="415.3" rx="3.2" ry="2.0" transform="rotate(-17 555.6 415.3)" fill="#ff8000"/><ellipse cx="548.7" cy="403.0" rx="2.1" ry="1.3" transform="rotate(13 548.7 403.0)" fill="#ff8000"/><ellipse cx="554.7" cy="389.1" rx="2.2" ry="1.8" transform="rotate(37 554.7 389.1)" fill="#ff8000"/><ellipse cx="546.3" cy="401.3" rx="2.1" ry="1.5" transform="rotate(-39 546.3 401.3)" fill="#e01000"/><ellipse cx="548.3" cy="452.2" rx="2.9" ry="1.9" transform="rotate(29 548.3 452.2)" fill="#e01000"/><ellipse cx="559.8" cy="448.3" rx="2.2" ry="1.2" transform="rotate(2 559.8 448.3)" fill="#ff8000"/><ellipse cx="537.8" cy="454.4" rx="3.2" ry="1.4" transform="rotate(-37 537.8 454.4)" fill="#30e8e8"/><ellipse cx="552.7" cy="434.2" rx="2.7" ry="1.1" transform="rotate(-1 552.7 434.2)" fill="#30e8e8"/><ellipse cx="544.3" cy="439.6" rx="1.6" ry="1.2" transform="rotate(36 544.3 439.6)" fill="#e01000"/><ellipse cx="543.6" cy="445.9" rx="3.0" ry="2.1" transform="rotate(-20 543.6 445.9)" fill="#ff8000"/><ellipse cx="544.7" cy="467.4" rx="2.0" ry="1.3" transform="rotate(-29 544.7 467.4)" fill="#e01000"/><ellipse cx="557.5" cy="466.2" rx="2.8" ry="2.0" transform="rotate(-35 557.5 466.2)" fill="#ff8000"/><ellipse cx="547.0" cy="460.9" rx="2.8" ry="1.9" transform="rotate(8 547.0 460.9)" fill="#30e8e8"/><ellipse cx="546.9" cy="449.3" rx="1.7" ry="1.5" transform="rotate(-14 546.9 449.3)" fill="#ff8000"/><ellipse cx="547.5" cy="445.2" rx="2.1" ry="1.4" transform="rotate(-20 547.5 445.2)" fill="#ff8000"/><ellipse cx="546.4" cy="438.3" rx="1.7" ry="2.2" transform="rotate(26 546.4 438.3)" fill="#30e8e8"/><ellipse cx="548.4" cy="454.9" rx="2.2" ry="1.3" transform="rotate(16 548.4 454.9)" fill="#30e8e8"/><ellipse cx="552.6" cy="437.0" rx="3.1" ry="1.2" transform="rotate(9 552.6 437.0)" fill="#e01000"/><ellipse cx="552.6" cy="448.0" rx="2.0" ry="1.8" transform="rotate(-31 552.6 448.0)" fill="#ff8000"/><ellipse cx="557.2" cy="436.6" rx="3.3" ry="1.7" transform="rotate(-33 557.2 436.6)" fill="#30e8e8"/><ellipse cx="547.9" cy="458.1" rx="3.1" ry="1.4" transform="rotate(-17 547.9 458.1)" fill="#ff8000"/><ellipse cx="548.5" cy="440.8" rx="2.2" ry="1.6" transform="rotate(1 548.5 440.8)" fill="#e01000"/><ellipse cx="519.2" cy="403.8" rx="2.4" ry="1.4" transform="rotate(19 519.2 403.8)" fill="#e01000"/><ellipse cx="519.9" cy="402.6" rx="2.4" ry="1.1" transform="rotate(33 519.9 402.6)" fill="#ff8000"/><ellipse cx="519.9" cy="375.6" rx="2.4" ry="1.5" transform="rotate(-7 519.9 375.6)" fill="#ff8000"/><ellipse cx="530.1" cy="429.5" rx="3.1" ry="2.1" transform="rotate(33 530.1 429.5)" fill="#30e8e8"/><ellipse cx="536.8" cy="459.0" rx="2.5" ry="1.4" transform="rotate(-38 536.8 459.0)" fill="#30e8e8"/><ellipse cx="539.1" cy="533.5" rx="2.2" ry="2.0" transform="rotate(-12 539.1 533.5)" fill="#ff8000"/><ellipse cx="535.6" cy="492.4" rx="2.9" ry="1.3" transform="rotate(4 535.6 492.4)" fill="#30e8e8"/><ellipse cx="525.1" cy="530.4" rx="2.4" ry="1.8" transform="rotate(37 525.1 530.4)" fill="#30e8e8"/><ellipse cx="538.1" cy="542.4" rx="2.8" ry="1.4" transform="rotate(4 538.1 542.4)" fill="#30e8e8"/><ellipse cx="527.1" cy="508.9" rx="2.9" ry="2.2" transform="rotate(-30 527.1 508.9)" fill="#ff8000"/><ellipse cx="403.8" cy="546.0" rx="1.9" ry="1.7" transform="rotate(19 403.8 546.0)" fill="#e01000"/><ellipse cx="406.7" cy="548.6" rx="2.0" ry="1.9" transform="rotate(-34 406.7 548.6)" fill="#ff8000"/><ellipse cx="414.7" cy="547.7" rx="3.4" ry="2.2" transform="rotate(3 414.7 547.7)" fill="#ff8000"/><ellipse cx="417.0" cy="563.7" rx="2.4" ry="1.9" transform="rotate(-13 417.0 563.7)" fill="#ff8000"/><ellipse cx="410.9" cy="544.0" rx="1.7" ry="1.4" transform="rotate(-11 410.9 544.0)" fill="#30e8e8"/><ellipse cx="421.4" cy="558.4" rx="3.2" ry="1.8" transform="rotate(-15 421.4 558.4)" fill="#e01000"/><ellipse cx="395.9" cy="545.9" rx="2.1" ry="1.1" transform="rotate(-16 395.9 545.9)" fill="#30e8e8"/><ellipse cx="424.1" cy="561.4" rx="3.2" ry="1.4" transform="rotate(-18 424.1 561.4)" fill="#e01000"/><ellipse cx="430.1" cy="595.1" rx="2.2" ry="1.1" transform="rotate(-15 430.1 595.1)" fill="#ff8000"/><ellipse cx="432.5" cy="588.9" rx="2.5" ry="2.0" transform="rotate(-36 432.5 588.9)" fill="#e01000"/><ellipse cx="415.3" cy="584.5" rx="2.5" ry="2.1" transform="rotate(2 415.3 584.5)" fill="#30e8e8"/><ellipse cx="436.9" cy="603.3" rx="2.3" ry="1.5" transform="rotate(21 436.9 603.3)" fill="#ff8000"/><ellipse cx="438.2" cy="600.3" rx="1.8" ry="1.7" transform="rotate(11 438.2 600.3)" fill="#ff8000"/><ellipse cx="429.9" cy="609.2" rx="2.6" ry="2.1" transform="rotate(-6 429.9 609.2)" fill="#ff8000"/><ellipse cx="419.8" cy="605.8" rx="2.2" ry="1.8" transform="rotate(20 419.8 605.8)" fill="#e01000"/><ellipse cx="428.6" cy="598.1" rx="2.5" ry="1.8" transform="rotate(27 428.6 598.1)" fill="#30e8e8"/><ellipse cx="425.9" cy="587.0" rx="3.1" ry="1.8" transform="rotate(8 425.9 587.0)" fill="#30e8e8"/><ellipse cx="427.9" cy="590.6" rx="1.6" ry="1.6" transform="rotate(-28 427.9 590.6)" fill="#e01000"/><ellipse cx="429.5" cy="594.7" rx="2.8" ry="1.2" transform="rotate(38 429.5 594.7)" fill="#ff8000"/><ellipse cx="432.4" cy="606.5" rx="3.0" ry="1.2" transform="rotate(11 432.4 606.5)" fill="#ff8000"/><ellipse cx="440.5" cy="584.7" rx="3.4" ry="1.5" transform="rotate(-14 440.5 584.7)" fill="#30e8e8"/><ellipse cx="460.5" cy="590.9" rx="1.9" ry="1.1" transform="rotate(-15 460.5 590.9)" fill="#30e8e8"/><ellipse cx="464.1" cy="569.6" rx="3.3" ry="1.1" transform="rotate(-34 464.1 569.6)" fill="#ff8000"/><ellipse cx="471.7" cy="593.8" rx="2.8" ry="1.2" transform="rotate(-8 471.7 593.8)" fill="#e01000"/><ellipse cx="447.7" cy="609.9" rx="2.3" ry="1.4" transform="rotate(34 447.7 609.9)" fill="#e01000"/><ellipse cx="445.6" cy="613.1" rx="2.7" ry="1.1" transform="rotate(-31 445.6 613.1)" fill="#e01000"/><ellipse cx="456.0" cy="627.0" rx="3.2" ry="1.2" transform="rotate(28 456.0 627.0)" fill="#e01000"/><ellipse cx="452.7" cy="612.7" rx="2.7" ry="1.6" transform="rotate(-26 452.7 612.7)" fill="#ff8000"/><ellipse cx="443.4" cy="603.0" rx="2.0" ry="1.6" transform="rotate(12 443.4 603.0)" fill="#e01000"/><ellipse cx="454.4" cy="606.4" rx="3.4" ry="1.3" transform="rotate(-11 454.4 606.4)" fill="#ff8000"/><ellipse cx="451.5" cy="611.6" rx="2.0" ry="1.5" transform="rotate(-10 451.5 611.6)" fill="#ff8000"/><ellipse cx="454.8" cy="620.4" rx="1.9" ry="1.5" transform="rotate(27 454.8 620.4)" fill="#e01000"/><ellipse cx="460.5" cy="626.3" rx="1.6" ry="1.6" transform="rotate(1 460.5 626.3)" fill="#e01000"/><ellipse cx="451.9" cy="604.6" rx="2.9" ry="1.8" transform="rotate(22 451.9 604.6)" fill="#e01000"/><ellipse cx="455.7" cy="607.0" rx="2.7" ry="1.3" transform="rotate(-5 455.7 607.0)" fill="#e01000"/><ellipse cx="456.6" cy="618.8" rx="1.9" ry="1.8" transform="rotate(13 456.6 618.8)" fill="#e01000"/><ellipse cx="451.1" cy="604.1" rx="2.7" ry="1.7" transform="rotate(-17 451.1 604.1)" fill="#e01000"/><ellipse cx="454.9" cy="627.8" rx="2.7" ry="1.5" transform="rotate(-17 454.9 627.8)" fill="#e01000"/><ellipse cx="445.8" cy="624.4" rx="2.5" ry="1.4" transform="rotate(29 445.8 624.4)" fill="#e01000"/><ellipse cx="452.5" cy="624.2" rx="1.8" ry="1.8" transform="rotate(36 452.5 624.2)" fill="#e01000"/><ellipse cx="448.5" cy="609.0" rx="2.9" ry="2.1" transform="rotate(5 448.5 609.0)" fill="#ff8000"/><ellipse cx="469.5" cy="657.9" rx="2.4" ry="1.2" transform="rotate(14 469.5 657.9)" fill="#e01000"/><ellipse cx="451.9" cy="642.2" rx="2.3" ry="1.4" transform="rotate(-35 451.9 642.2)" fill="#e01000"/><ellipse cx="456.3" cy="631.3" rx="3.2" ry="1.3" transform="rotate(-22 456.3 631.3)" fill="#e01000"/><ellipse cx="462.6" cy="641.2" rx="2.1" ry="1.5" transform="rotate(-24 462.6 641.2)" fill="#e01000"/><ellipse cx="462.3" cy="655.5" rx="2.1" ry="1.4" transform="rotate(18 462.3 655.5)" fill="#e01000"/><ellipse cx="459.0" cy="634.9" rx="1.6" ry="1.2" transform="rotate(-37 459.0 634.9)" fill="#ff8000"/><ellipse cx="463.4" cy="650.9" rx="3.1" ry="1.9" transform="rotate(9 463.4 650.9)" fill="#ff8000"/><ellipse cx="468.7" cy="656.0" rx="3.0" ry="2.0" transform="rotate(-10 468.7 656.0)" fill="#ff8000"/><ellipse cx="465.9" cy="659.2" rx="2.5" ry="1.1" transform="rotate(-9 465.9 659.2)" fill="#e01000"/><ellipse cx="454.3" cy="635.2" rx="2.0" ry="1.4" transform="rotate(18 454.3 635.2)" fill="#e01000"/><ellipse cx="461.7" cy="637.5" rx="2.2" ry="2.1" transform="rotate(-25 461.7 637.5)" fill="#e01000"/><ellipse cx="453.7" cy="638.2" rx="2.9" ry="1.5" transform="rotate(15 453.7 638.2)" fill="#e01000"/><ellipse cx="450.9" cy="635.6" rx="3.0" ry="1.6" transform="rotate(-16 450.9 635.6)" fill="#e01000"/><ellipse cx="464.3" cy="648.6" rx="2.7" ry="2.0" transform="rotate(23 464.3 648.6)" fill="#e01000"/><ellipse cx="460.9" cy="641.5" rx="2.2" ry="2.1" transform="rotate(8 460.9 641.5)" fill="#ff8000"/><ellipse cx="460.9" cy="649.3" rx="2.3" ry="1.7" transform="rotate(-22 460.9 649.3)" fill="#e01000"/><ellipse cx="473.5" cy="682.9" rx="3.1" ry="1.9" transform="rotate(29 473.5 682.9)" fill="#ff8000"/><ellipse cx="473.8" cy="680.7" rx="3.0" ry="1.2" transform="rotate(-34 473.8 680.7)" fill="#30e8e8"/><ellipse cx="471.2" cy="677.2" rx="2.4" ry="1.2" transform="rotate(18 471.2 677.2)" fill="#e01000"/><ellipse cx="463.7" cy="679.8" rx="1.7" ry="1.4" transform="rotate(15 463.7 679.8)" fill="#ff8000"/><ellipse cx="472.1" cy="670.7" rx="2.0" ry="2.0" transform="rotate(19 472.1 670.7)" fill="#e01000"/><ellipse cx="463.5" cy="665.4" rx="2.4" ry="1.8" transform="rotate(-16 463.5 665.4)" fill="#e01000"/><ellipse cx="468.1" cy="673.9" rx="3.0" ry="1.8" transform="rotate(35 468.1 673.9)" fill="#e01000"/><ellipse cx="474.8" cy="684.5" rx="3.2" ry="1.2" transform="rotate(16 474.8 684.5)" fill="#ff8000"/><ellipse cx="469.0" cy="660.6" rx="2.9" ry="2.1" transform="rotate(37 469.0 660.6)" fill="#e01000"/><ellipse cx="471.0" cy="681.2" rx="3.1" ry="1.3" transform="rotate(34 471.0 681.2)" fill="#ff8000"/><ellipse cx="468.4" cy="682.0" rx="2.0" ry="1.6" transform="rotate(-9 468.4 682.0)" fill="#ff8000"/><ellipse cx="467.8" cy="685.0" rx="2.5" ry="1.1" transform="rotate(39 467.8 685.0)" fill="#e01000"/><ellipse cx="456.8" cy="614.3" rx="1.7" ry="1.5" transform="rotate(-26 456.8 614.3)" fill="#ff8000"/><ellipse cx="457.5" cy="609.6" rx="1.8" ry="1.3" transform="rotate(-25 457.5 609.6)" fill="#30e8e8"/><ellipse cx="462.5" cy="650.5" rx="2.0" ry="1.2" transform="rotate(-6 462.5 650.5)" fill="#ff8000"/><ellipse cx="457.9" cy="602.0" rx="2.6" ry="1.3" transform="rotate(-13 457.9 602.0)" fill="#30e8e8"/><ellipse cx="450.1" cy="614.4" rx="2.5" ry="1.2" transform="rotate(0 450.1 614.4)" fill="#ff8000"/><ellipse cx="463.4" cy="622.5" rx="2.5" ry="2.0" transform="rotate(-28 463.4 622.5)" fill="#ff8000"/><ellipse cx="456.9" cy="641.8" rx="1.9" ry="2.2" transform="rotate(-19 456.9 641.8)" fill="#30e8e8"/><ellipse cx="466.4" cy="698.5" rx="2.8" ry="1.6" transform="rotate(-40 466.4 698.5)" fill="#30e8e8"/><ellipse cx="474.3" cy="689.1" rx="3.1" ry="2.1" transform="rotate(-34 474.3 689.1)" fill="#30e8e8"/><ellipse cx="476.2" cy="689.3" rx="3.2" ry="1.9" transform="rotate(3 476.2 689.3)" fill="#30e8e8"/><ellipse cx="473.1" cy="681.1" rx="3.2" ry="1.4" transform="rotate(-20 473.1 681.1)" fill="#30e8e8"/><ellipse cx="471.5" cy="663.6" rx="2.0" ry="2.1" transform="rotate(-24 471.5 663.6)" fill="#30e8e8"/><ellipse cx="464.6" cy="658.8" rx="2.6" ry="1.6" transform="rotate(-25 464.6 658.8)" fill="#30e8e8"/><ellipse cx="464.1" cy="653.5" rx="2.6" ry="1.9" transform="rotate(-19 464.1 653.5)" fill="#ff8000"/><ellipse cx="469.1" cy="672.5" rx="1.8" ry="1.8" transform="rotate(-21 469.1 672.5)" fill="#e01000"/><ellipse cx="543.4" cy="672.5" rx="1.7" ry="1.5" transform="rotate(19 543.4 672.5)" fill="#ff8000"/><ellipse cx="532.7" cy="656.9" rx="2.1" ry="2.0" transform="rotate(-11 532.7 656.9)" fill="#ff8000"/><ellipse cx="533.4" cy="670.3" rx="1.9" ry="1.6" transform="rotate(-8 533.4 670.3)" fill="#30e8e8"/><ellipse cx="558.2" cy="643.6" rx="3.4" ry="1.9" transform="rotate(39 558.2 643.6)" fill="#ff8000"/><ellipse cx="532.1" cy="656.0" rx="1.8" ry="1.6" transform="rotate(33 532.1 656.0)" fill="#ff8000"/><ellipse cx="540.8" cy="648.4" rx="1.7" ry="2.2" transform="rotate(-33 540.8 648.4)" fill="#ff8000"/><ellipse cx="531.6" cy="663.1" rx="3.1" ry="1.9" transform="rotate(7 531.6 663.1)" fill="#30e8e8"/><ellipse cx="522.4" cy="642.5" rx="1.8" ry="1.6" transform="rotate(-23 522.4 642.5)" fill="#e01000"/><ellipse cx="526.6" cy="678.3" rx="2.9" ry="1.8" transform="rotate(-1 526.6 678.3)" fill="#ff8000"/><ellipse cx="537.8" cy="677.0" rx="2.7" ry="1.1" transform="rotate(-38 537.8 677.0)" fill="#ff8000"/><ellipse cx="528.4" cy="667.4" rx="3.0" ry="1.1" transform="rotate(23 528.4 667.4)" fill="#e01000"/><ellipse cx="536.8" cy="657.5" rx="1.7" ry="1.6" transform="rotate(30 536.8 657.5)" fill="#ff8000"/><ellipse cx="526.5" cy="705.2" rx="1.7" ry="1.7" transform="rotate(-24 526.5 705.2)" fill="#30e8e8"/><ellipse cx="525.7" cy="695.9" rx="2.5" ry="1.3" transform="rotate(-29 525.7 695.9)" fill="#ff8000"/><ellipse cx="528.3" cy="702.2" rx="1.8" ry="1.4" transform="rotate(-13 528.3 702.2)" fill="#ff8000"/><ellipse cx="535.4" cy="705.5" rx="2.2" ry="1.7" transform="rotate(-2 535.4 705.5)" fill="#ff8000"/><ellipse cx="544.8" cy="709.7" rx="3.0" ry="1.2" transform="rotate(23 544.8 709.7)" fill="#ff8000"/><ellipse cx="535.3" cy="700.0" rx="1.7" ry="2.2" transform="rotate(-37 535.3 700.0)" fill="#e01000"/><ellipse cx="519.8" cy="714.8" rx="3.0" ry="2.1" transform="rotate(2 519.8 714.8)" fill="#e01000"/><ellipse cx="539.2" cy="714.5" rx="2.2" ry="2.1" transform="rotate(-38 539.2 714.5)" fill="#e01000"/><ellipse cx="534.7" cy="695.7" rx="3.2" ry="2.2" transform="rotate(-1 534.7 695.7)" fill="#e01000"/><ellipse cx="542.4" cy="692.8" rx="3.3" ry="2.1" transform="rotate(16 542.4 692.8)" fill="#ff8000"/><ellipse cx="535.2" cy="701.9" rx="2.4" ry="1.3" transform="rotate(-24 535.2 701.9)" fill="#ff8000"/><ellipse cx="534.0" cy="701.6" rx="1.9" ry="1.8" transform="rotate(6 534.0 701.6)" fill="#ff8000"/><ellipse cx="519.2" cy="730.7" rx="2.1" ry="1.5" transform="rotate(8 519.2 730.7)" fill="#ff8000"/><ellipse cx="534.9" cy="726.2" rx="1.8" ry="1.3" transform="rotate(-20 534.9 726.2)" fill="#e01000"/><ellipse cx="524.8" cy="738.5" rx="2.6" ry="2.1" transform="rotate(23 524.8 738.5)" fill="#e01000"/><ellipse cx="535.5" cy="741.1" rx="1.7" ry="1.9" transform="rotate(-11 535.5 741.1)" fill="#ff8000"/><ellipse cx="521.8" cy="747.6" rx="3.3" ry="1.7" transform="rotate(2 521.8 747.6)" fill="#ff8000"/><ellipse cx="528.9" cy="727.8" rx="2.6" ry="1.3" transform="rotate(8 528.9 727.8)" fill="#ff8000"/><ellipse cx="546.7" cy="736.1" rx="2.0" ry="1.1" transform="rotate(-10 546.7 736.1)" fill="#ff8000"/><ellipse cx="527.0" cy="742.4" rx="2.8" ry="1.6" transform="rotate(-4 527.0 742.4)" fill="#ff8000"/><ellipse cx="523.3" cy="752.2" rx="2.2" ry="2.2" transform="rotate(-6 523.3 752.2)" fill="#30e8e8"/><ellipse cx="532.1" cy="737.5" rx="2.2" ry="1.3" transform="rotate(7 532.1 737.5)" fill="#e01000"/><ellipse cx="524.2" cy="742.2" rx="2.4" ry="1.8" transform="rotate(-11 524.2 742.2)" fill="#ff8000"/><ellipse cx="401.0" cy="742.1" rx="2.9" ry="2.1" transform="rotate(-1 401.0 742.1)" fill="#ff8000"/><ellipse cx="414.5" cy="770.5" rx="2.6" ry="2.1" transform="rotate(-39 414.5 770.5)" fill="#e01000"/><ellipse cx="401.2" cy="760.3" rx="3.0" ry="1.5" transform="rotate(4 401.2 760.3)" fill="#e01000"/><ellipse cx="395.7" cy="742.1" rx="2.1" ry="1.7" transform="rotate(-19 395.7 742.1)" fill="#ff8000"/><ellipse cx="399.8" cy="749.9" rx="2.9" ry="1.2" transform="rotate(-34 399.8 749.9)" fill="#e01000"/><ellipse cx="404.9" cy="743.5" rx="2.7" ry="1.3" transform="rotate(-36 404.9 743.5)" fill="#e01000"/><ellipse cx="412.2" cy="756.4" rx="2.7" ry="1.3" transform="rotate(25 412.2 756.4)" fill="#30e8e8"/><ellipse cx="407.5" cy="759.1" rx="2.7" ry="1.9" transform="rotate(-39 407.5 759.1)" fill="#ff8000"/><ellipse cx="408.5" cy="742.2" rx="2.8" ry="1.2" transform="rotate(-28 408.5 742.2)" fill="#ff8000"/><ellipse cx="410.1" cy="760.7" rx="3.3" ry="2.1" transform="rotate(24 410.1 760.7)" fill="#30e8e8"/><ellipse cx="416.8" cy="763.7" rx="1.9" ry="1.7" transform="rotate(-11 416.8 763.7)" fill="#30e8e8"/><ellipse cx="419.8" cy="795.9" rx="3.3" ry="1.4" transform="rotate(26 419.8 795.9)" fill="#e01000"/><ellipse cx="419.7" cy="788.3" rx="3.0" ry="1.4" transform="rotate(32 419.7 788.3)" fill="#ff8000"/><ellipse cx="422.7" cy="804.8" rx="2.4" ry="2.1" transform="rotate(-18 422.7 804.8)" fill="#ff8000"/><ellipse cx="428.5" cy="789.6" rx="2.9" ry="1.7" transform="rotate(-38 428.5 789.6)" fill="#30e8e8"/><ellipse cx="421.0" cy="796.7" rx="1.9" ry="1.4" transform="rotate(-16 421.0 796.7)" fill="#e01000"/><ellipse cx="415.0" cy="797.5" rx="2.5" ry="1.7" transform="rotate(36 415.0 797.5)" fill="#e01000"/><ellipse cx="408.3" cy="771.7" rx="2.2" ry="1.1" transform="rotate(-25 408.3 771.7)" fill="#ff8000"/><ellipse cx="411.2" cy="768.8" rx="1.6" ry="2.1" transform="rotate(-27 411.2 768.8)" fill="#ff8000"/><ellipse cx="424.7" cy="772.3" rx="2.2" ry="1.4" transform="rotate(-25 424.7 772.3)" fill="#ff8000"/><ellipse cx="402.6" cy="773.6" rx="2.1" ry="1.5" transform="rotate(-26 402.6 773.6)" fill="#30e8e8"/><ellipse cx="412.8" cy="809.0" rx="2.1" ry="2.0" transform="rotate(30 412.8 809.0)" fill="#30e8e8"/><ellipse cx="421.2" cy="802.6" rx="2.9" ry="1.8" transform="rotate(-20 421.2 802.6)" fill="#30e8e8"/><ellipse cx="411.3" cy="804.5" rx="3.3" ry="2.1" transform="rotate(22 411.3 804.5)" fill="#ff8000"/><ellipse cx="419.6" cy="819.2" rx="2.5" ry="1.6" transform="rotate(33 419.6 819.2)" fill="#ff8000"/><ellipse cx="415.3" cy="815.5" rx="1.7" ry="1.7" transform="rotate(33 415.3 815.5)" fill="#ff8000"/><ellipse cx="415.4" cy="804.9" rx="3.1" ry="1.3" transform="rotate(39 415.4 804.9)" fill="#30e8e8"/><ellipse cx="416.7" cy="822.8" rx="1.7" ry="1.1" transform="rotate(1 416.7 822.8)" fill="#e01000"/><ellipse cx="414.4" cy="821.9" rx="2.6" ry="2.2" transform="rotate(-17 414.4 821.9)" fill="#e01000"/><ellipse cx="411.9" cy="812.3" rx="1.7" ry="1.6" transform="rotate(-20 411.9 812.3)" fill="#ff8000"/><ellipse cx="417.1" cy="807.2" rx="2.3" ry="1.2" transform="rotate(7 417.1 807.2)" fill="#ff8000"/><ellipse cx="409.4" cy="814.4" rx="2.9" ry="1.5" transform="rotate(-9 409.4 814.4)" fill="#ff8000"/><ellipse cx="405.3" cy="842.3" rx="2.4" ry="2.2" transform="rotate(-38 405.3 842.3)" fill="#30e8e8"/><ellipse cx="414.5" cy="856.3" rx="2.7" ry="1.4" transform="rotate(-2 414.5 856.3)" fill="#30e8e8"/><ellipse cx="406.1" cy="874.5" rx="2.8" ry="1.2" transform="rotate(-34 406.1 874.5)" fill="#30e8e8"/><ellipse cx="447.2" cy="754.2" rx="3.4" ry="1.8" transform="rotate(-3 447.2 754.2)" fill="#ff8000"/><ellipse cx="413.5" cy="932.3" rx="2.7" ry="1.9" transform="rotate(-7 413.5 932.3)" fill="#e01000"/><ellipse cx="413.1" cy="935.0" rx="2.3" ry="1.7" transform="rotate(25 413.1 935.0)" fill="#ff8000"/><ellipse cx="413.2" cy="928.5" rx="2.9" ry="2.1" transform="rotate(-35 413.2 928.5)" fill="#e01000"/><ellipse cx="414.7" cy="928.7" rx="2.5" ry="1.3" transform="rotate(34 414.7 928.7)" fill="#ff8000"/><ellipse cx="495.3" cy="943.3" rx="3.3" ry="2.1" transform="rotate(14 495.3 943.3)" fill="#e01000"/><ellipse cx="491.8" cy="941.2" rx="2.7" ry="1.7" transform="rotate(31 491.8 941.2)" fill="#e01000"/><ellipse cx="502.2" cy="961.8" rx="2.0" ry="1.8" transform="rotate(21 502.2 961.8)" fill="#e01000"/><ellipse cx="490.0" cy="951.1" rx="2.0" ry="1.7" transform="rotate(-27 490.0 951.1)" fill="#ff8000"/><ellipse cx="491.6" cy="936.0" rx="2.3" ry="1.4" transform="rotate(15 491.6 936.0)" fill="#ff8000"/><ellipse cx="498.1" cy="945.0" rx="2.3" ry="1.4" transform="rotate(27 498.1 945.0)" fill="#e01000"/><ellipse cx="496.0" cy="955.9" rx="1.9" ry="2.1" transform="rotate(-3 496.0 955.9)" fill="#e01000"/><ellipse cx="488.4" cy="942.9" rx="3.1" ry="1.3" transform="rotate(6 488.4 942.9)" fill="#ff8000"/><ellipse cx="482.8" cy="920.8" rx="2.4" ry="1.3" transform="rotate(26 482.8 920.8)" fill="#e01000"/><ellipse cx="496.0" cy="959.0" rx="2.5" ry="1.7" transform="rotate(3 496.0 959.0)" fill="#e01000"/><ellipse cx="482.2" cy="925.0" rx="2.7" ry="1.9" transform="rotate(-4 482.2 925.0)" fill="#e01000"/><ellipse cx="485.4" cy="922.5" rx="1.8" ry="1.5" transform="rotate(15 485.4 922.5)" fill="#30e8e8"/><ellipse cx="498.0" cy="952.1" rx="2.2" ry="1.1" transform="rotate(-15 498.0 952.1)" fill="#e01000"/><ellipse cx="491.0" cy="960.4" rx="1.7" ry="2.1" transform="rotate(11 491.0 960.4)" fill="#ff8000"/><ellipse cx="495.0" cy="939.3" rx="1.9" ry="1.9" transform="rotate(2 495.0 939.3)" fill="#e01000"/><ellipse cx="485.9" cy="924.9" rx="2.3" ry="1.7" transform="rotate(16 485.9 924.9)" fill="#e01000"/><ellipse cx="484.4" cy="915.5" rx="3.4" ry="2.0" transform="rotate(-3 484.4 915.5)" fill="#e01000"/><ellipse cx="493.1" cy="957.2" rx="3.2" ry="1.2" transform="rotate(-18 493.1 957.2)" fill="#e01000"/><ellipse cx="491.5" cy="920.2" rx="2.8" ry="1.5" transform="rotate(1 491.5 920.2)" fill="#e01000"/><ellipse cx="483.5" cy="929.4" rx="3.3" ry="2.0" transform="rotate(34 483.5 929.4)" fill="#ff8000"/><ellipse cx="493.7" cy="943.8" rx="2.8" ry="1.6" transform="rotate(10 493.7 943.8)" fill="#ff8000"/><ellipse cx="497.5" cy="960.3" rx="3.0" ry="1.8" transform="rotate(-36 497.5 960.3)" fill="#e01000"/><ellipse cx="499.3" cy="964.7" rx="2.9" ry="1.9" transform="rotate(18 499.3 964.7)" fill="#e01000"/><ellipse cx="497.5" cy="986.5" rx="3.1" ry="1.1" transform="rotate(6 497.5 986.5)" fill="#ff8000"/><ellipse cx="497.7" cy="979.5" rx="3.1" ry="1.7" transform="rotate(-29 497.7 979.5)" fill="#e01000"/><ellipse cx="492.9" cy="961.5" rx="2.4" ry="1.3" transform="rotate(8 492.9 961.5)" fill="#30e8e8"/><ellipse cx="500.4" cy="977.6" rx="1.9" ry="1.4" transform="rotate(-29 500.4 977.6)" fill="#e01000"/><ellipse cx="498.4" cy="1023.0" rx="1.9" ry="2.1" transform="rotate(38 498.4 1023.0)" fill="#e01000"/><ellipse cx="499.9" cy="989.1" rx="3.3" ry="1.2" transform="rotate(31 499.9 989.1)" fill="#e01000"/><ellipse cx="494.5" cy="965.0" rx="2.5" ry="1.3" transform="rotate(-9 494.5 965.0)" fill="#ff8000"/><ellipse cx="495.7" cy="968.6" rx="2.7" ry="2.1" transform="rotate(35 495.7 968.6)" fill="#e01000"/><ellipse cx="501.4" cy="977.7" rx="3.2" ry="2.1" transform="rotate(-14 501.4 977.7)" fill="#e01000"/><ellipse cx="498.7" cy="1005.8" rx="3.0" ry="1.8" transform="rotate(-32 498.7 1005.8)" fill="#ff8000"/><ellipse cx="496.0" cy="975.6" rx="2.5" ry="2.0" transform="rotate(39 496.0 975.6)" fill="#e01000"/><ellipse cx="493.0" cy="964.0" rx="2.2" ry="1.9" transform="rotate(-10 493.0 964.0)" fill="#e01000"/><ellipse cx="497.0" cy="972.2" rx="1.6" ry="2.0" transform="rotate(27 497.0 972.2)" fill="#e01000"/><ellipse cx="502.5" cy="1014.1" rx="3.2" ry="1.1" transform="rotate(35 502.5 1014.1)" fill="#ff8000"/><ellipse cx="499.6" cy="1008.4" rx="2.6" ry="1.7" transform="rotate(-9 499.6 1008.4)" fill="#ff8000"/><ellipse cx="496.2" cy="986.9" rx="2.6" ry="1.9" transform="rotate(-2 496.2 986.9)" fill="#e01000"/><ellipse cx="499.9" cy="978.2" rx="2.0" ry="1.9" transform="rotate(11 499.9 978.2)" fill="#ff8000"/><ellipse cx="498.3" cy="966.5" rx="1.9" ry="1.4" transform="rotate(-40 498.3 966.5)" fill="#e01000"/><ellipse cx="495.8" cy="993.8" rx="1.8" ry="1.8" transform="rotate(7 495.8 993.8)" fill="#ff8000"/><ellipse cx="498.3" cy="1005.6" rx="1.7" ry="1.9" transform="rotate(-10 498.3 1005.6)" fill="#e01000"/><ellipse cx="496.5" cy="985.0" rx="3.4" ry="1.7" transform="rotate(7 496.5 985.0)" fill="#e01000"/><ellipse cx="498.8" cy="993.4" rx="1.8" ry="2.0" transform="rotate(24 498.8 993.4)" fill="#e01000"/><ellipse cx="500.5" cy="987.6" rx="2.1" ry="1.7" transform="rotate(2 500.5 987.6)" fill="#e01000"/><ellipse cx="501.5" cy="1040.6" rx="2.8" ry="2.0" transform="rotate(-13 501.5 1040.6)" fill="#e01000"/><ellipse cx="500.6" cy="1037.0" rx="2.7" ry="1.4" transform="rotate(17 500.6 1037.0)" fill="#e01000"/><ellipse cx="506.1" cy="1032.5" rx="1.8" ry="1.6" transform="rotate(-12 506.1 1032.5)" fill="#e01000"/><ellipse cx="506.8" cy="1022.5" rx="3.3" ry="2.2" transform="rotate(22 506.8 1022.5)" fill="#ff8000"/><ellipse cx="503.8" cy="1029.6" rx="3.4" ry="1.2" transform="rotate(9 503.8 1029.6)" fill="#ff8000"/><ellipse cx="508.3" cy="1046.8" rx="3.1" ry="2.2" transform="rotate(13 508.3 1046.8)" fill="#e01000"/><ellipse cx="505.0" cy="1028.8" rx="2.8" ry="1.9" transform="rotate(32 505.0 1028.8)" fill="#e01000"/><ellipse cx="511.6" cy="1043.2" rx="2.5" ry="2.1" transform="rotate(-23 511.6 1043.2)" fill="#ff8000"/><ellipse cx="504.8" cy="1043.0" rx="1.8" ry="1.2" transform="rotate(-12 504.8 1043.0)" fill="#e01000"/><ellipse cx="511.4" cy="1020.0" rx="1.8" ry="1.5" transform="rotate(-28 511.4 1020.0)" fill="#ff8000"/><ellipse cx="507.1" cy="1035.3" rx="2.3" ry="1.2" transform="rotate(5 507.1 1035.3)" fill="#ff8000"/><ellipse cx="505.4" cy="1022.2" rx="2.4" ry="2.0" transform="rotate(-6 505.4 1022.2)" fill="#e01000"/><ellipse cx="518.4" cy="1090.0" rx="3.3" ry="1.4" transform="rotate(35 518.4 1090.0)" fill="#e01000"/><ellipse cx="502.1" cy="1056.9" rx="2.0" ry="1.2" transform="rotate(-25 502.1 1056.9)" fill="#ff8000"/><ellipse cx="502.5" cy="1056.3" rx="2.5" ry="2.0" transform="rotate(-32 502.5 1056.3)" fill="#e01000"/><ellipse cx="515.1" cy="1074.2" rx="2.1" ry="1.9" transform="rotate(-37 515.1 1074.2)" fill="#e01000"/><ellipse cx="513.5" cy="1065.6" rx="2.5" ry="1.2" transform="rotate(20 513.5 1065.6)" fill="#ff8000"/><ellipse cx="508.7" cy="1090.3" rx="3.3" ry="2.1" transform="rotate(-10 508.7 1090.3)" fill="#ff8000"/><ellipse cx="512.7" cy="1074.4" rx="1.7" ry="1.7" transform="rotate(36 512.7 1074.4)" fill="#ff8000"/><ellipse cx="508.9" cy="1054.8" rx="3.1" ry="2.0" transform="rotate(30 508.9 1054.8)" fill="#ff8000"/><ellipse cx="515.4" cy="1077.6" rx="1.9" ry="1.9" transform="rotate(23 515.4 1077.6)" fill="#ff8000"/><ellipse cx="499.7" cy="1059.9" rx="2.1" ry="2.2" transform="rotate(23 499.7 1059.9)" fill="#e01000"/><ellipse cx="508.4" cy="1087.7" rx="2.5" ry="1.5" transform="rotate(24 508.4 1087.7)" fill="#e01000"/><ellipse cx="508.7" cy="1056.3" rx="2.5" ry="2.1" transform="rotate(-13 508.7 1056.3)" fill="#e01000"/><ellipse cx="507.6" cy="1067.3" rx="3.2" ry="1.9" transform="rotate(5 507.6 1067.3)" fill="#ff8000"/><ellipse cx="508.3" cy="1070.8" rx="3.1" ry="1.2" transform="rotate(-31 508.3 1070.8)" fill="#30e8e8"/><ellipse cx="512.4" cy="1083.9" rx="3.0" ry="1.3" transform="rotate(-12 512.4 1083.9)" fill="#ff8000"/><ellipse cx="516.9" cy="1076.9" rx="2.6" ry="2.1" transform="rotate(-9 516.9 1076.9)" fill="#e01000"/><ellipse cx="511.1" cy="1077.9" rx="2.1" ry="2.1" transform="rotate(-35 511.1 1077.9)" fill="#e01000"/><ellipse cx="508.8" cy="1080.3" rx="2.7" ry="2.0" transform="rotate(25 508.8 1080.3)" fill="#e01000"/><ellipse cx="511.5" cy="1087.5" rx="3.2" ry="2.0" transform="rotate(17 511.5 1087.5)" fill="#e01000"/><ellipse cx="505.2" cy="1065.0" rx="2.4" ry="2.0" transform="rotate(-34 505.2 1065.0)" fill="#e01000"/><ellipse cx="514.3" cy="1102.1" rx="2.8" ry="1.9" transform="rotate(0 514.3 1102.1)" fill="#ff8000"/><ellipse cx="509.5" cy="1111.4" rx="1.9" ry="1.9" transform="rotate(31 509.5 1111.4)" fill="#e01000"/><ellipse cx="513.0" cy="1094.0" rx="2.9" ry="1.5" transform="rotate(-7 513.0 1094.0)" fill="#e01000"/><ellipse cx="509.6" cy="1123.6" rx="2.2" ry="1.3" transform="rotate(-13 509.6 1123.6)" fill="#e01000"/><ellipse cx="518.0" cy="1109.9" rx="1.9" ry="1.7" transform="rotate(33 518.0 1109.9)" fill="#ff8000"/><ellipse cx="510.2" cy="1119.9" rx="2.2" ry="1.8" transform="rotate(6 510.2 1119.9)" fill="#e01000"/><ellipse cx="516.7" cy="1103.9" rx="1.6" ry="1.8" transform="rotate(-27 516.7 1103.9)" fill="#ff8000"/><ellipse cx="519.0" cy="1109.2" rx="1.7" ry="1.2" transform="rotate(25 519.0 1109.2)" fill="#e01000"/><ellipse cx="521.1" cy="1097.1" rx="2.6" ry="1.2" transform="rotate(-26 521.1 1097.1)" fill="#ff8000"/><ellipse cx="521.1" cy="1115.3" rx="3.1" ry="1.3" transform="rotate(26 521.1 1115.3)" fill="#ff8000"/><ellipse cx="516.1" cy="1109.2" rx="2.7" ry="1.2" transform="rotate(2 516.1 1109.2)" fill="#ff8000"/><ellipse cx="515.0" cy="1109.0" rx="2.4" ry="1.2" transform="rotate(27 515.0 1109.0)" fill="#e01000"/><ellipse cx="516.8" cy="1098.4" rx="1.6" ry="1.4" transform="rotate(-2 516.8 1098.4)" fill="#e01000"/><ellipse cx="513.9" cy="1120.3" rx="3.2" ry="1.5" transform="rotate(36 513.9 1120.3)" fill="#e01000"/><ellipse cx="517.4" cy="1115.4" rx="2.2" ry="1.7" transform="rotate(-2 517.4 1115.4)" fill="#ff8000"/><ellipse cx="516.4" cy="1113.9" rx="2.4" ry="1.8" transform="rotate(23 516.4 1113.9)" fill="#e01000"/><ellipse cx="510.2" cy="1099.5" rx="2.0" ry="1.2" transform="rotate(35 510.2 1099.5)" fill="#e01000"/><ellipse cx="514.6" cy="1117.2" rx="2.2" ry="1.4" transform="rotate(-16 514.6 1117.2)" fill="#e01000"/><ellipse cx="503.0" cy="953.1" rx="3.2" ry="1.7" transform="rotate(-26 503.0 953.1)" fill="#30e8e8"/><ellipse cx="484.8" cy="946.9" rx="2.9" ry="1.6" transform="rotate(33 484.8 946.9)" fill="#30e8e8"/><ellipse cx="499.8" cy="952.9" rx="2.1" ry="1.2" transform="rotate(0 499.8 952.9)" fill="#30e8e8"/><ellipse cx="495.6" cy="935.7" rx="2.8" ry="1.9" transform="rotate(29 495.6 935.7)" fill="#30e8e8"/><ellipse cx="494.7" cy="956.9" rx="3.3" ry="1.3" transform="rotate(-5 494.7 956.9)" fill="#ff8000"/><ellipse cx="488.4" cy="935.4" rx="2.4" ry="1.2" transform="rotate(14 488.4 935.4)" fill="#30e8e8"/><ellipse cx="486.1" cy="942.2" rx="1.8" ry="1.4" transform="rotate(-13 486.1 942.2)" fill="#ff8000"/><ellipse cx="487.0" cy="938.6" rx="3.3" ry="1.3" transform="rotate(-39 487.0 938.6)" fill="#30e8e8"/><ellipse cx="499.7" cy="920.7" rx="2.4" ry="2.0" transform="rotate(14 499.7 920.7)" fill="#ff8000"/><ellipse cx="479.4" cy="920.1" rx="1.8" ry="1.4" transform="rotate(-25 479.4 920.1)" fill="#ff8000"/><ellipse cx="507.3" cy="1037.3" rx="1.9" ry="1.5" transform="rotate(-6 507.3 1037.3)" fill="#ff8000"/><ellipse cx="502.6" cy="1002.5" rx="2.7" ry="1.2" transform="rotate(-22 502.6 1002.5)" fill="#ff8000"/><ellipse cx="504.8" cy="1042.9" rx="2.2" ry="1.4" transform="rotate(-24 504.8 1042.9)" fill="#30e8e8"/><ellipse cx="500.7" cy="1027.4" rx="1.7" ry="1.7" transform="rotate(12 500.7 1027.4)" fill="#e01000"/><ellipse cx="512.8" cy="1035.5" rx="3.3" ry="2.0" transform="rotate(-30 512.8 1035.5)" fill="#ff8000"/><ellipse cx="497.4" cy="999.7" rx="2.7" ry="1.3" transform="rotate(-27 497.4 999.7)" fill="#ff8000"/><ellipse cx="497.0" cy="1023.5" rx="3.0" ry="1.4" transform="rotate(-18 497.0 1023.5)" fill="#30e8e8"/><ellipse cx="504.7" cy="1026.3" rx="3.3" ry="1.5" transform="rotate(30 504.7 1026.3)" fill="#e01000"/><ellipse cx="488.5" cy="982.2" rx="1.7" ry="1.4" transform="rotate(-22 488.5 982.2)" fill="#ff8000"/><ellipse cx="514.9" cy="1042.2" rx="1.7" ry="1.6" transform="rotate(23 514.9 1042.2)" fill="#ff8000"/><ellipse cx="517.2" cy="1011.0" rx="2.5" ry="2.2" transform="rotate(10 517.2 1011.0)" fill="#30e8e8"/><ellipse cx="503.4" cy="1032.7" rx="1.7" ry="1.7" transform="rotate(-27 503.4 1032.7)" fill="#ff8000"/><ellipse cx="499.2" cy="1002.1" rx="3.1" ry="2.1" transform="rotate(-28 499.2 1002.1)" fill="#30e8e8"/><ellipse cx="496.5" cy="1048.2" rx="3.2" ry="1.4" transform="rotate(2 496.5 1048.2)" fill="#ff8000"/><ellipse cx="497.4" cy="987.1" rx="2.7" ry="1.7" transform="rotate(-6 497.4 987.1)" fill="#ff8000"/><ellipse cx="488.1" cy="1024.9" rx="3.1" ry="1.7" transform="rotate(-1 488.1 1024.9)" fill="#30e8e8"/><ellipse cx="498.9" cy="1028.1" rx="2.7" ry="1.4" transform="rotate(-11 498.9 1028.1)" fill="#ff8000"/><ellipse cx="522.9" cy="1099.8" rx="3.4" ry="2.1" transform="rotate(8 522.9 1099.8)" fill="#ff8000"/><ellipse cx="501.1" cy="1106.0" rx="2.1" ry="1.8" transform="rotate(-37 501.1 1106.0)" fill="#ff8000"/><ellipse cx="500.9" cy="1096.7" rx="1.7" ry="1.2" transform="rotate(12 500.9 1096.7)" fill="#ff8000"/><ellipse cx="520.1" cy="1056.5" rx="2.7" ry="1.7" transform="rotate(31 520.1 1056.5)" fill="#ff8000"/><ellipse cx="513.2" cy="1119.7" rx="2.4" ry="2.2" transform="rotate(-22 513.2 1119.7)" fill="#ff8000"/><ellipse cx="516.1" cy="1126.4" rx="2.7" ry="1.6" transform="rotate(-13 516.1 1126.4)" fill="#ff8000"/><ellipse cx="508.9" cy="1100.0" rx="3.2" ry="2.1" transform="rotate(20 508.9 1100.0)" fill="#ff8000"/><ellipse cx="515.5" cy="1102.4" rx="1.8" ry="1.2" transform="rotate(31 515.5 1102.4)" fill="#ff8000"/><ellipse cx="504.8" cy="1134.1" rx="2.2" ry="2.0" transform="rotate(39 504.8 1134.1)" fill="#e01000"/><ellipse cx="501.7" cy="1092.5" rx="2.0" ry="1.5" transform="rotate(-11 501.7 1092.5)" fill="#30e8e8"/><ellipse cx="509.2" cy="1049.4" rx="3.2" ry="1.3" transform="rotate(-34 509.2 1049.4)" fill="#30e8e8"/><ellipse cx="508.1" cy="1093.3" rx="2.5" ry="2.1" transform="rotate(1 508.1 1093.3)" fill="#30e8e8"/><ellipse cx="510.1" cy="1108.0" rx="1.6" ry="2.1" transform="rotate(-23 510.1 1108.0)" fill="#ff8000"/><ellipse cx="515.9" cy="1081.7" rx="2.3" ry="1.6" transform="rotate(-7 515.9 1081.7)" fill="#30e8e8"/><ellipse cx="504.3" cy="1055.2" rx="1.9" ry="1.5" transform="rotate(-13 504.3 1055.2)" fill="#ff8000"/><ellipse cx="492.6" cy="1049.3" rx="2.3" ry="2.0" transform="rotate(-31 492.6 1049.3)" fill="#30e8e8"/><ellipse cx="513.9" cy="1072.9" rx="3.3" ry="1.7" transform="rotate(-19 513.9 1072.9)" fill="#30e8e8"/><ellipse cx="561.1" cy="1056.1" rx="2.3" ry="1.2" transform="rotate(-35 561.1 1056.1)" fill="#ff8000"/><ellipse cx="559.5" cy="1064.3" rx="2.4" ry="1.2" transform="rotate(35 559.5 1064.3)" fill="#e01000"/><ellipse cx="566.7" cy="1052.4" rx="2.5" ry="2.2" transform="rotate(7 566.7 1052.4)" fill="#ff8000"/><ellipse cx="561.8" cy="1063.1" rx="2.3" ry="1.4" transform="rotate(-39 561.8 1063.1)" fill="#e01000"/><ellipse cx="564.8" cy="1066.1" rx="2.8" ry="1.6" transform="rotate(21 564.8 1066.1)" fill="#ff8000"/><ellipse cx="567.5" cy="1061.9" rx="1.9" ry="1.9" transform="rotate(7 567.5 1061.9)" fill="#e01000"/><ellipse cx="572.2" cy="1080.9" rx="2.5" ry="1.3" transform="rotate(-17 572.2 1080.9)" fill="#e01000"/><ellipse cx="565.9" cy="1072.8" rx="2.5" ry="1.4" transform="rotate(16 565.9 1072.8)" fill="#e01000"/><ellipse cx="572.9" cy="1085.5" rx="1.9" ry="1.6" transform="rotate(-5 572.9 1085.5)" fill="#e01000"/><ellipse cx="569.4" cy="1074.4" rx="2.4" ry="1.5" transform="rotate(32 569.4 1074.4)" fill="#e01000"/><ellipse cx="566.1" cy="1071.5" rx="3.1" ry="2.1" transform="rotate(-27 566.1 1071.5)" fill="#ff8000"/><ellipse cx="564.0" cy="1073.8" rx="2.6" ry="1.7" transform="rotate(-29 564.0 1073.8)" fill="#e01000"/><ellipse cx="563.3" cy="982.1" rx="2.0" ry="1.2" transform="rotate(-30 563.3 982.1)" fill="#ff8000"/><ellipse cx="561.6" cy="935.7" rx="1.9" ry="1.6" transform="rotate(-38 561.6 935.7)" fill="#ff8000"/><ellipse cx="568.8" cy="992.7" rx="2.8" ry="1.6" transform="rotate(38 568.8 992.7)" fill="#ff8000"/></g>
<g filter="url(#sp)"><path d="M451.0,603.0 L455.0,625.0 L459.0,645.0 L465.0,665.0 L470.0,690.0" fill="none" stroke="#ffb000" stroke-width="13.0" stroke-linejoin="round" opacity="0.55"/><path d="M486.0,920.0 L492.0,945.0 L497.0,970.0 L501.0,1000.0 L503.0,1025.0 L505.0,1050.0" fill="none" stroke="#ffb000" stroke-width="13.0" stroke-linejoin="round" opacity="0.55"/><path d="M505.0,1050.0 L510.0,1080.0 L514.0,1100.0 L517.0,1125.0" fill="none" stroke="#ffb000" stroke-width="9.1" stroke-linejoin="round" opacity="0.55"/><ellipse cx="451.8" cy="603.0" rx="3.5" ry="2.3" transform="rotate(-6 451.8 603.0)" fill="#ffe000"/><ellipse cx="454.4" cy="606.7" rx="2.3" ry="1.9" transform="rotate(-11 454.4 606.7)" fill="#ffe000"/><ellipse cx="454.9" cy="610.3" rx="2.4" ry="1.9" transform="rotate(-17 454.9 610.3)" fill="#e00800"/><ellipse cx="453.5" cy="614.0" rx="2.2" ry="1.6" transform="rotate(5 453.5 614.0)" fill="#e00800"/><ellipse cx="455.4" cy="617.7" rx="2.5" ry="2.3" transform="rotate(-13 455.4 617.7)" fill="#e00800"/><ellipse cx="451.9" cy="621.3" rx="2.2" ry="2.4" transform="rotate(-37 451.9 621.3)" fill="#e00800"/><ellipse cx="458.1" cy="625.0" rx="3.8" ry="1.7" transform="rotate(-18 458.1 625.0)" fill="#ffe000"/><ellipse cx="456.9" cy="629.0" rx="2.6" ry="2.4" transform="rotate(8 456.9 629.0)" fill="#ff6000"/><ellipse cx="459.1" cy="633.0" rx="2.7" ry="1.8" transform="rotate(-41 459.1 633.0)" fill="#e00800"/><ellipse cx="454.6" cy="637.0" rx="2.7" ry="2.1" transform="rotate(-9 454.6 637.0)" fill="#e00800"/><ellipse cx="457.2" cy="641.0" rx="2.8" ry="2.3" transform="rotate(-31 457.2 641.0)" fill="#e00800"/><ellipse cx="458.9" cy="645.0" rx="3.5" ry="1.5" transform="rotate(-49 458.9 645.0)" fill="#ffe000"/><ellipse cx="461.8" cy="649.0" rx="3.7" ry="1.4" transform="rotate(-28 461.8 649.0)" fill="#ff6000"/><ellipse cx="461.9" cy="653.0" rx="2.2" ry="1.5" transform="rotate(7 461.9 653.0)" fill="#e00800"/><ellipse cx="460.7" cy="657.0" rx="3.6" ry="2.4" transform="rotate(-29 460.7 657.0)" fill="#ffe000"/><ellipse cx="462.9" cy="661.0" rx="3.1" ry="2.3" transform="rotate(-5 462.9 661.0)" fill="#e00800"/><ellipse cx="466.9" cy="665.0" rx="3.7" ry="1.4" transform="rotate(-45 466.9 665.0)" fill="#ffe000"/><ellipse cx="464.7" cy="668.6" rx="3.3" ry="2.4" transform="rotate(5 464.7 668.6)" fill="#e00800"/><ellipse cx="466.7" cy="672.1" rx="2.8" ry="1.7" transform="rotate(-45 466.7 672.1)" fill="#e00800"/><ellipse cx="464.9" cy="675.7" rx="3.4" ry="2.5" transform="rotate(-47 464.9 675.7)" fill="#e00800"/><ellipse cx="471.0" cy="679.3" rx="3.2" ry="1.8" transform="rotate(-14 471.0 679.3)" fill="#e00800"/><ellipse cx="470.7" cy="682.9" rx="3.0" ry="1.9" transform="rotate(5 470.7 682.9)" fill="#e00800"/><ellipse cx="466.3" cy="686.4" rx="3.1" ry="2.3" transform="rotate(-6 466.3 686.4)" fill="#e00800"/><ellipse cx="488.9" cy="920.0" rx="3.3" ry="2.3" transform="rotate(-24 488.9 920.0)" fill="#e00800"/><ellipse cx="484.6" cy="923.6" rx="3.7" ry="1.7" transform="rotate(10 484.6 923.6)" fill="#e00800"/><ellipse cx="490.0" cy="927.1" rx="4.0" ry="1.9" transform="rotate(-6 490.0 927.1)" fill="#e00800"/><ellipse cx="488.4" cy="930.7" rx="2.7" ry="1.8" transform="rotate(-27 488.4 930.7)" fill="#e00800"/><ellipse cx="492.6" cy="934.3" rx="3.9" ry="2.1" transform="rotate(-30 492.6 934.3)" fill="#e00800"/><ellipse cx="487.7" cy="937.9" rx="2.7" ry="2.3" transform="rotate(-28 487.7 937.9)" fill="#ffe000"/><ellipse cx="493.0" cy="941.4" rx="3.6" ry="2.2" transform="rotate(-4 493.0 941.4)" fill="#ff6000"/><ellipse cx="491.1" cy="945.0" rx="3.5" ry="1.7" transform="rotate(-4 491.1 945.0)" fill="#e00800"/><ellipse cx="493.9" cy="948.6" rx="2.7" ry="2.4" transform="rotate(-15 493.9 948.6)" fill="#ff6000"/><ellipse cx="490.3" cy="952.1" rx="3.2" ry="1.7" transform="rotate(-22 490.3 952.1)" fill="#ff6000"/><ellipse cx="496.2" cy="955.7" rx="3.4" ry="2.3" transform="rotate(-11 496.2 955.7)" fill="#e00800"/><ellipse cx="496.4" cy="959.3" rx="3.7" ry="1.8" transform="rotate(2 496.4 959.3)" fill="#ffe000"/><ellipse cx="496.8" cy="962.9" rx="4.0" ry="2.5" transform="rotate(-18 496.8 962.9)" fill="#e00800"/><ellipse cx="494.1" cy="966.4" rx="3.7" ry="2.4" transform="rotate(-9 494.1 966.4)" fill="#e00800"/><ellipse cx="498.4" cy="970.0" rx="3.5" ry="1.6" transform="rotate(-15 498.4 970.0)" fill="#ff6000"/><ellipse cx="498.6" cy="973.8" rx="3.0" ry="2.1" transform="rotate(-12 498.6 973.8)" fill="#ff6000"/><ellipse cx="499.4" cy="977.5" rx="2.2" ry="1.6" transform="rotate(-11 499.4 977.5)" fill="#e00800"/><ellipse cx="496.7" cy="981.2" rx="3.4" ry="2.1" transform="rotate(-22 496.7 981.2)" fill="#e00800"/><ellipse cx="497.2" cy="985.0" rx="2.3" ry="1.5" transform="rotate(-39 497.2 985.0)" fill="#e00800"/><ellipse cx="497.5" cy="988.8" rx="2.3" ry="1.9" transform="rotate(-13 497.5 988.8)" fill="#e00800"/><ellipse cx="500.6" cy="992.5" rx="2.6" ry="2.4" transform="rotate(-26 500.6 992.5)" fill="#e00800"/><ellipse cx="499.1" cy="996.2" rx="2.9" ry="1.5" transform="rotate(-28 499.1 996.2)" fill="#ffe000"/><ellipse cx="498.0" cy="1000.0" rx="3.3" ry="1.5" transform="rotate(-30 498.0 1000.0)" fill="#e00800"/><ellipse cx="501.9" cy="1004.2" rx="3.9" ry="2.3" transform="rotate(-1 501.9 1004.2)" fill="#e00800"/><ellipse cx="502.6" cy="1008.3" rx="2.9" ry="1.6" transform="rotate(-16 502.6 1008.3)" fill="#ff6000"/><ellipse cx="504.9" cy="1012.5" rx="3.9" ry="2.1" transform="rotate(4 504.9 1012.5)" fill="#e00800"/><ellipse cx="499.1" cy="1016.7" rx="2.4" ry="2.0" transform="rotate(-42 499.1 1016.7)" fill="#ff6000"/><ellipse cx="503.5" cy="1020.8" rx="3.8" ry="1.8" transform="rotate(-36 503.5 1020.8)" fill="#e00800"/><ellipse cx="501.7" cy="1025.0" rx="4.0" ry="1.8" transform="rotate(5 501.7 1025.0)" fill="#ffe000"/><ellipse cx="503.9" cy="1029.2" rx="2.7" ry="2.5" transform="rotate(-25 503.9 1029.2)" fill="#e00800"/><ellipse cx="502.5" cy="1033.3" rx="4.0" ry="1.9" transform="rotate(-21 502.5 1033.3)" fill="#e00800"/><ellipse cx="501.6" cy="1037.5" rx="3.3" ry="1.9" transform="rotate(-3 501.6 1037.5)" fill="#e00800"/><ellipse cx="506.4" cy="1041.7" rx="2.2" ry="2.0" transform="rotate(6 506.4 1041.7)" fill="#e00800"/><ellipse cx="506.5" cy="1045.8" rx="2.6" ry="1.7" transform="rotate(9 506.5 1045.8)" fill="#e00800"/><ellipse cx="503.7" cy="1050.0" rx="2.3" ry="1.3" transform="rotate(-14 503.7 1050.0)" fill="#ff6000"/><ellipse cx="507.2" cy="1053.8" rx="1.7" ry="1.6" transform="rotate(-18 507.2 1053.8)" fill="#e00800"/><ellipse cx="505.2" cy="1057.5" rx="1.9" ry="1.4" transform="rotate(-28 505.2 1057.5)" fill="#e00800"/><ellipse cx="508.4" cy="1061.2" rx="2.3" ry="1.0" transform="rotate(-23 508.4 1061.2)" fill="#e00800"/><ellipse cx="510.2" cy="1065.0" rx="2.7" ry="1.4" transform="rotate(-3 510.2 1065.0)" fill="#e00800"/><ellipse cx="507.7" cy="1068.8" rx="2.3" ry="1.5" transform="rotate(-21 507.7 1068.8)" fill="#ff6000"/><ellipse cx="511.4" cy="1072.5" rx="2.0" ry="1.3" transform="rotate(-38 511.4 1072.5)" fill="#ffe000"/><ellipse cx="508.1" cy="1076.2" rx="2.6" ry="1.0" transform="rotate(-8 508.1 1076.2)" fill="#ffe000"/><ellipse cx="509.6" cy="1080.0" rx="1.9" ry="1.6" transform="rotate(-41 509.6 1080.0)" fill="#ffe000"/><ellipse cx="510.7" cy="1084.0" rx="2.2" ry="1.4" transform="rotate(-41 510.7 1084.0)" fill="#e00800"/><ellipse cx="512.1" cy="1088.0" rx="2.6" ry="1.0" transform="rotate(-1 512.1 1088.0)" fill="#e00800"/><ellipse cx="514.3" cy="1092.0" rx="2.4" ry="1.0" transform="rotate(9 514.3 1092.0)" fill="#ff6000"/><ellipse cx="516.4" cy="1096.0" rx="2.4" ry="1.0" transform="rotate(-37 516.4 1096.0)" fill="#ffe000"/><ellipse cx="514.9" cy="1100.0" rx="2.7" ry="1.5" transform="rotate(-32 514.9 1100.0)" fill="#e00800"/><ellipse cx="517.2" cy="1104.2" rx="1.7" ry="1.5" transform="rotate(-40 517.2 1104.2)" fill="#e00800"/><ellipse cx="515.8" cy="1108.3" rx="1.6" ry="1.1" transform="rotate(-46 515.8 1108.3)" fill="#e00800"/><ellipse cx="512.7" cy="1112.5" rx="2.3" ry="1.6" transform="rotate(-42 512.7 1112.5)" fill="#ffe000"/><ellipse cx="515.6" cy="1116.7" rx="1.9" ry="1.4" transform="rotate(6 515.6 1116.7)" fill="#e00800"/><ellipse cx="515.7" cy="1120.8" rx="1.6" ry="1.5" transform="rotate(-12 515.7 1120.8)" fill="#e00800"/></g>
<line x1="420.5" y1="313.7" x2="426.4" y2="344.5" stroke="#000" stroke-width="3.3"/>
<line x1="432.9" y1="390" x2="441.7" y2="448.7" stroke="#000" stroke-width="3.3"/>
<line x1="447.5" y1="567.5" x2="454.3" y2="593.9" stroke="#000" stroke-width="3.3"/>
<line x1="475.8" y1="711.3" x2="481.5" y2="778.6" stroke="#000" stroke-width="3.3"/>
<line x1="485.3" y1="880" x2="488.8" y2="909" stroke="#000" stroke-width="3.3"/>
<line x1="516.3" y1="1081.6" x2="519.1" y2="1105" stroke="#000" stroke-width="3.3"/>
<rect x="384" y="1095.6" width="99" height="56" fill="#fff"/>
<text x="403.5" y="1141" font-family="'Liberation Serif', 'Noto Serif CJK SC', serif" font-size="34" fill="#111">45m</text>
</g>
<g shape-rendering="auto"><line x1="858.4" y1="1046.6" x2="861.6" y2="217.3" stroke="#7c7c7c" stroke-width="1.4" /><line x1="875.8" y1="1031.6" x2="880.8" y2="224.8" stroke="#7c7c7c" stroke-width="1.4" /><line x1="892.3" y1="1017.4" x2="899.0" y2="231.9" stroke="#7c7c7c" stroke-width="1.4" /><line x1="908.0" y1="1004.0" x2="916.1" y2="238.6" stroke="#7c7c7c" stroke-width="1.4" /><line x1="922.9" y1="991.1" x2="932.3" y2="245.0" stroke="#7c7c7c" stroke-width="1.4" /><line x1="937.1" y1="978.9" x2="947.7" y2="251.0" stroke="#7c7c7c" stroke-width="1.4" /><line x1="950.4" y1="967.5" x2="962.0" y2="256.6" stroke="#7c7c7c" stroke-width="1.4" /><line x1="845.4" y1="1030.6" x2="950.7" y2="944.3" stroke="#7c7c7c" stroke-width="1.4" /><line x1="845.4" y1="1003.2" x2="951.1" y2="920.9" stroke="#7c7c7c" stroke-width="1.4" /><line x1="845.5" y1="975.6" x2="951.5" y2="897.4" stroke="#7c7c7c" stroke-width="1.4" /><line x1="845.6" y1="947.8" x2="951.9" y2="873.7" stroke="#7c7c7c" stroke-width="1.4" /><line x1="845.6" y1="919.8" x2="952.3" y2="849.9" stroke="#7c7c7c" stroke-width="1.4" /><line x1="845.7" y1="891.6" x2="952.7" y2="825.9" stroke="#7c7c7c" stroke-width="1.4" /><line x1="845.7" y1="863.2" x2="953.1" y2="801.8" stroke="#7c7c7c" stroke-width="1.4" /><line x1="845.8" y1="834.5" x2="953.5" y2="777.5" stroke="#7c7c7c" stroke-width="1.4" /><line x1="845.9" y1="805.6" x2="953.9" y2="753.0" stroke="#7c7c7c" stroke-width="1.4" /><line x1="845.9" y1="776.5" x2="954.3" y2="728.4" stroke="#7c7c7c" stroke-width="1.4" /><line x1="846.0" y1="747.2" x2="954.7" y2="703.6" stroke="#7c7c7c" stroke-width="1.4" /><line x1="846.0" y1="717.7" x2="955.1" y2="678.7" stroke="#7c7c7c" stroke-width="1.4" /><line x1="846.1" y1="687.9" x2="955.5" y2="653.6" stroke="#7c7c7c" stroke-width="1.4" /><line x1="846.2" y1="657.9" x2="955.9" y2="628.4" stroke="#7c7c7c" stroke-width="1.4" /><line x1="846.2" y1="627.6" x2="956.3" y2="603.0" stroke="#7c7c7c" stroke-width="1.4" /><line x1="846.3" y1="597.1" x2="956.7" y2="577.4" stroke="#7c7c7c" stroke-width="1.4" /><line x1="846.4" y1="566.4" x2="957.2" y2="551.6" stroke="#7c7c7c" stroke-width="1.4" /><line x1="846.4" y1="535.4" x2="957.6" y2="525.7" stroke="#7c7c7c" stroke-width="1.4" /><line x1="846.5" y1="504.2" x2="958.0" y2="499.6" stroke="#7c7c7c" stroke-width="1.4" /><line x1="846.6" y1="472.7" x2="958.4" y2="473.3" stroke="#7c7c7c" stroke-width="1.4" /><line x1="846.6" y1="441.0" x2="958.9" y2="446.9" stroke="#7c7c7c" stroke-width="1.4" /><line x1="846.7" y1="409.0" x2="959.3" y2="420.2" stroke="#7c7c7c" stroke-width="1.4" /><line x1="846.8" y1="376.8" x2="959.7" y2="393.4" stroke="#7c7c7c" stroke-width="1.4" /><line x1="846.8" y1="344.3" x2="960.2" y2="366.4" stroke="#7c7c7c" stroke-width="1.4" /><line x1="846.9" y1="311.5" x2="960.6" y2="339.3" stroke="#7c7c7c" stroke-width="1.4" /><line x1="847.0" y1="278.5" x2="961.1" y2="311.9" stroke="#7c7c7c" stroke-width="1.4" /><line x1="847.1" y1="245.2" x2="961.5" y2="284.3" stroke="#7c7c7c" stroke-width="1.4" /><line x1="975.1" y1="971.8" x2="989.2" y2="256.2" stroke="#7c7c7c" stroke-width="1.4" /><line x1="1003.7" y1="976.8" x2="1020.7" y2="255.6" stroke="#7c7c7c" stroke-width="1.4" /><line x1="1032.7" y1="981.8" x2="1052.7" y2="255.1" stroke="#7c7c7c" stroke-width="1.4" /><line x1="1062.2" y1="986.9" x2="1085.3" y2="254.6" stroke="#7c7c7c" stroke-width="1.4" /><line x1="1092.1" y1="992.1" x2="1118.4" y2="254.0" stroke="#7c7c7c" stroke-width="1.4" /><line x1="1122.5" y1="997.4" x2="1152.1" y2="253.5" stroke="#7c7c7c" stroke-width="1.4" /><line x1="950.7" y1="944.3" x2="1139.9" y2="975.9" stroke="#7c7c7c" stroke-width="1.4" /><line x1="951.1" y1="920.9" x2="1141.0" y2="951.5" stroke="#7c7c7c" stroke-width="1.4" /><line x1="951.5" y1="897.4" x2="1142.0" y2="926.8" stroke="#7c7c7c" stroke-width="1.4" /><line x1="951.9" y1="873.7" x2="1143.0" y2="902.0" stroke="#7c7c7c" stroke-width="1.4" /><line x1="952.3" y1="849.9" x2="1144.1" y2="877.1" stroke="#7c7c7c" stroke-width="1.4" /><line x1="952.7" y1="825.9" x2="1145.1" y2="852.0" stroke="#7c7c7c" stroke-width="1.4" /><line x1="953.1" y1="801.8" x2="1146.2" y2="826.7" stroke="#7c7c7c" stroke-width="1.4" /><line x1="953.5" y1="777.5" x2="1147.3" y2="801.2" stroke="#7c7c7c" stroke-width="1.4" /><line x1="953.9" y1="753.0" x2="1148.3" y2="775.6" stroke="#7c7c7c" stroke-width="1.4" /><line x1="954.3" y1="728.4" x2="1149.4" y2="749.8" stroke="#7c7c7c" stroke-width="1.4" /><line x1="954.7" y1="703.6" x2="1150.5" y2="723.8" stroke="#7c7c7c" stroke-width="1.4" /><line x1="955.1" y1="678.7" x2="1151.6" y2="697.6" stroke="#7c7c7c" stroke-width="1.4" /><line x1="955.5" y1="653.6" x2="1152.7" y2="671.3" stroke="#7c7c7c" stroke-width="1.4" /><line x1="955.9" y1="628.4" x2="1153.8" y2="644.7" stroke="#7c7c7c" stroke-width="1.4" /><line x1="956.3" y1="603.0" x2="1155.0" y2="618.0" stroke="#7c7c7c" stroke-width="1.4" /><line x1="956.7" y1="577.4" x2="1156.1" y2="591.1" stroke="#7c7c7c" stroke-width="1.4" /><line x1="957.2" y1="551.6" x2="1157.2" y2="564.0" stroke="#7c7c7c" stroke-width="1.4" /><line x1="957.6" y1="525.7" x2="1158.4" y2="536.8" stroke="#7c7c7c" stroke-width="1.4" /><line x1="958.0" y1="499.6" x2="1159.5" y2="509.3" stroke="#7c7c7c" stroke-width="1.4" /><line x1="958.4" y1="473.3" x2="1160.7" y2="481.6" stroke="#7c7c7c" stroke-width="1.4" /><line x1="958.9" y1="446.9" x2="1161.9" y2="453.8" stroke="#7c7c7c" stroke-width="1.4" /><line x1="959.3" y1="420.2" x2="1163.0" y2="425.7" stroke="#7c7c7c" stroke-width="1.4" /><line x1="959.7" y1="393.4" x2="1164.2" y2="397.5" stroke="#7c7c7c" stroke-width="1.4" /><line x1="960.2" y1="366.4" x2="1165.4" y2="369.0" stroke="#7c7c7c" stroke-width="1.4" /><line x1="960.6" y1="339.3" x2="1166.6" y2="340.4" stroke="#7c7c7c" stroke-width="1.4" /><line x1="961.1" y1="311.9" x2="1167.8" y2="311.5" stroke="#7c7c7c" stroke-width="1.4" /><line x1="961.5" y1="284.3" x2="1169.0" y2="282.4" stroke="#7c7c7c" stroke-width="1.4" /><line x1="873.8" y1="1063.6" x2="975.1" y2="971.8" stroke="#7c7c7c" stroke-width="1.4" /><line x1="906.8" y1="1070.3" x2="1003.7" y2="976.8" stroke="#7c7c7c" stroke-width="1.4" /><line x1="940.5" y1="1077.1" x2="1032.7" y2="981.8" stroke="#7c7c7c" stroke-width="1.4" /><line x1="974.7" y1="1084.1" x2="1062.2" y2="986.9" stroke="#7c7c7c" stroke-width="1.4" /><line x1="1009.6" y1="1091.2" x2="1092.1" y2="992.1" stroke="#7c7c7c" stroke-width="1.4" /><line x1="1045.1" y1="1098.4" x2="1122.5" y2="997.4" stroke="#7c7c7c" stroke-width="1.4" /><line x1="858.4" y1="1046.6" x2="1073.6" y2="1089.5" stroke="#7c7c7c" stroke-width="1.4" /><line x1="875.8" y1="1031.6" x2="1086.0" y2="1072.5" stroke="#7c7c7c" stroke-width="1.4" /><line x1="892.3" y1="1017.4" x2="1097.8" y2="1056.4" stroke="#7c7c7c" stroke-width="1.4" /><line x1="908.0" y1="1004.0" x2="1108.9" y2="1041.2" stroke="#7c7c7c" stroke-width="1.4" /><line x1="922.9" y1="991.1" x2="1119.5" y2="1026.7" stroke="#7c7c7c" stroke-width="1.4" /><line x1="937.1" y1="978.9" x2="1129.6" y2="1013.0" stroke="#7c7c7c" stroke-width="1.4" /><line x1="879.0" y1="210.7" x2="989.2" y2="256.2" stroke="#7c7c7c" stroke-width="1.4" /><line x1="916.0" y1="209.6" x2="1020.7" y2="255.6" stroke="#7c7c7c" stroke-width="1.4" /><line x1="953.7" y1="208.5" x2="1052.7" y2="255.1" stroke="#7c7c7c" stroke-width="1.4" /><line x1="992.2" y1="207.3" x2="1085.3" y2="254.6" stroke="#7c7c7c" stroke-width="1.4" /><line x1="1031.4" y1="206.2" x2="1118.4" y2="254.0" stroke="#7c7c7c" stroke-width="1.4" /><line x1="1071.6" y1="205.0" x2="1152.1" y2="253.5" stroke="#7c7c7c" stroke-width="1.4" /><line x1="861.6" y1="217.3" x2="1103.1" y2="210.6" stroke="#7c7c7c" stroke-width="1.4" /><line x1="880.8" y1="224.8" x2="1116.0" y2="218.8" stroke="#7c7c7c" stroke-width="1.4" /><line x1="899.0" y1="231.9" x2="1128.2" y2="226.5" stroke="#7c7c7c" stroke-width="1.4" /><line x1="916.1" y1="238.6" x2="1139.7" y2="233.8" stroke="#7c7c7c" stroke-width="1.4" /><line x1="932.3" y1="245.0" x2="1150.6" y2="240.7" stroke="#7c7c7c" stroke-width="1.4" /><line x1="947.7" y1="251.0" x2="1160.8" y2="247.2" stroke="#7c7c7c" stroke-width="1.4" /><line x1="950.4" y1="967.5" x2="1138.9" y2="1000.2" stroke="#7c7c7c" stroke-width="1.4" /><line x1="962.0" y1="256.6" x2="1170.3" y2="253.2" stroke="#7c7c7c" stroke-width="1.4" /><line x1="847.1" y1="211.6" x2="962.0" y2="256.6" stroke="#7c7c7c" stroke-width="1.4" /><line x1="845.3" y1="1057.8" x2="950.4" y2="967.5" stroke="#7c7c7c" stroke-width="1.4" /></g>
<line x1="845.3" y1="1057.8" x2="847.1" y2="211.6" stroke="#111" stroke-width="1.8" /><line x1="847.1" y1="211.6" x2="1093.3" y2="204.4" stroke="#111" stroke-width="1.8" /><line x1="1093.3" y1="204.4" x2="1170.3" y2="253.2" stroke="#111" stroke-width="1.8" /><line x1="1170.3" y1="253.2" x2="1138.9" y2="1000.2" stroke="#111" stroke-width="1.8" /><line x1="845.3" y1="1057.8" x2="1064.2" y2="1102.3" stroke="#111" stroke-width="1.8" /><line x1="1064.2" y1="1102.3" x2="1138.9" y2="1000.2" stroke="#111" stroke-width="1.8" /><line x1="840.3" y1="1057.8" x2="845.3" y2="1057.8" stroke="#111" stroke-width="1.6" /><line x1="1138.9" y1="1000.2" x2="1143.9" y2="1000.2" stroke="#111" stroke-width="1.6" /><line x1="840.4" y1="1030.6" x2="845.4" y2="1030.6" stroke="#111" stroke-width="1.6" /><line x1="1139.9" y1="975.9" x2="1144.9" y2="975.9" stroke="#111" stroke-width="1.6" /><line x1="840.4" y1="1003.2" x2="845.4" y2="1003.2" stroke="#111" stroke-width="1.6" /><line x1="1141.0" y1="951.5" x2="1146.0" y2="951.5" stroke="#111" stroke-width="1.6" /><line x1="840.5" y1="975.6" x2="845.5" y2="975.6" stroke="#111" stroke-width="1.6" /><line x1="1142.0" y1="926.8" x2="1147.0" y2="926.8" stroke="#111" stroke-width="1.6" /><line x1="833.6" y1="947.8" x2="845.6" y2="947.8" stroke="#111" stroke-width="1.6" /><line x1="1143.0" y1="902.0" x2="1155.0" y2="902.0" stroke="#111" stroke-width="1.6" /><line x1="840.6" y1="919.8" x2="845.6" y2="919.8" stroke="#111" stroke-width="1.6" /><line x1="1144.1" y1="877.1" x2="1149.1" y2="877.1" stroke="#111" stroke-width="1.6" /><line x1="840.7" y1="891.6" x2="845.7" y2="891.6" stroke="#111" stroke-width="1.6" /><line x1="1145.1" y1="852.0" x2="1150.1" y2="852.0" stroke="#111" stroke-width="1.6" /><line x1="840.7" y1="863.2" x2="845.7" y2="863.2" stroke="#111" stroke-width="1.6" /><line x1="1146.2" y1="826.7" x2="1151.2" y2="826.7" stroke="#111" stroke-width="1.6" /><line x1="840.8" y1="834.5" x2="845.8" y2="834.5" stroke="#111" stroke-width="1.6" /><line x1="1147.3" y1="801.2" x2="1152.3" y2="801.2" stroke="#111" stroke-width="1.6" /><line x1="833.9" y1="805.6" x2="845.9" y2="805.6" stroke="#111" stroke-width="1.6" /><line x1="1148.3" y1="775.6" x2="1160.3" y2="775.6" stroke="#111" stroke-width="1.6" /><line x1="840.9" y1="776.5" x2="845.9" y2="776.5" stroke="#111" stroke-width="1.6" /><line x1="1149.4" y1="749.8" x2="1154.4" y2="749.8" stroke="#111" stroke-width="1.6" /><line x1="841.0" y1="747.2" x2="846.0" y2="747.2" stroke="#111" stroke-width="1.6" /><line x1="1150.5" y1="723.8" x2="1155.5" y2="723.8" stroke="#111" stroke-width="1.6" /><line x1="841.0" y1="717.7" x2="846.0" y2="717.7" stroke="#111" stroke-width="1.6" /><line x1="1151.6" y1="697.6" x2="1156.6" y2="697.6" stroke="#111" stroke-width="1.6" /><line x1="841.1" y1="687.9" x2="846.1" y2="687.9" stroke="#111" stroke-width="1.6" /><line x1="1152.7" y1="671.3" x2="1157.7" y2="671.3" stroke="#111" stroke-width="1.6" /><line x1="834.2" y1="657.9" x2="846.2" y2="657.9" stroke="#111" stroke-width="1.6" /><line x1="1153.8" y1="644.7" x2="1165.8" y2="644.7" stroke="#111" stroke-width="1.6" /><line x1="841.2" y1="627.6" x2="846.2" y2="627.6" stroke="#111" stroke-width="1.6" /><line x1="1155.0" y1="618.0" x2="1160.0" y2="618.0" stroke="#111" stroke-width="1.6" /><line x1="841.3" y1="597.1" x2="846.3" y2="597.1" stroke="#111" stroke-width="1.6" /><line x1="1156.1" y1="591.1" x2="1161.1" y2="591.1" stroke="#111" stroke-width="1.6" /><line x1="841.4" y1="566.4" x2="846.4" y2="566.4" stroke="#111" stroke-width="1.6" /><line x1="1157.2" y1="564.0" x2="1162.2" y2="564.0" stroke="#111" stroke-width="1.6" /><line x1="841.4" y1="535.4" x2="846.4" y2="535.4" stroke="#111" stroke-width="1.6" /><line x1="1158.4" y1="536.8" x2="1163.4" y2="536.8" stroke="#111" stroke-width="1.6" /><line x1="834.5" y1="504.2" x2="846.5" y2="504.2" stroke="#111" stroke-width="1.6" /><line x1="1159.5" y1="509.3" x2="1171.5" y2="509.3" stroke="#111" stroke-width="1.6" /><line x1="841.6" y1="472.7" x2="846.6" y2="472.7" stroke="#111" stroke-width="1.6" /><line x1="1160.7" y1="481.6" x2="1165.7" y2="481.6" stroke="#111" stroke-width="1.6" /><line x1="841.6" y1="441.0" x2="846.6" y2="441.0" stroke="#111" stroke-width="1.6" /><line x1="1161.9" y1="453.8" x2="1166.9" y2="453.8" stroke="#111" stroke-width="1.6" /><line x1="841.7" y1="409.0" x2="846.7" y2="409.0" stroke="#111" stroke-width="1.6" /><line x1="1163.0" y1="425.7" x2="1168.0" y2="425.7" stroke="#111" stroke-width="1.6" /><line x1="841.8" y1="376.8" x2="846.8" y2="376.8" stroke="#111" stroke-width="1.6" /><line x1="1164.2" y1="397.5" x2="1169.2" y2="397.5" stroke="#111" stroke-width="1.6" /><line x1="834.8" y1="344.3" x2="846.8" y2="344.3" stroke="#111" stroke-width="1.6" /><line x1="1165.4" y1="369.0" x2="1177.4" y2="369.0" stroke="#111" stroke-width="1.6" /><line x1="841.9" y1="311.5" x2="846.9" y2="311.5" stroke="#111" stroke-width="1.6" /><line x1="1166.6" y1="340.4" x2="1171.6" y2="340.4" stroke="#111" stroke-width="1.6" /><line x1="842.0" y1="278.5" x2="847.0" y2="278.5" stroke="#111" stroke-width="1.6" /><line x1="1167.8" y1="311.5" x2="1172.8" y2="311.5" stroke="#111" stroke-width="1.6" /><line x1="842.1" y1="245.2" x2="847.1" y2="245.2" stroke="#111" stroke-width="1.6" /><line x1="1169.0" y1="282.4" x2="1174.0" y2="282.4" stroke="#111" stroke-width="1.6" /><line x1="842.1" y1="211.6" x2="847.1" y2="211.6" stroke="#111" stroke-width="1.6" /><line x1="1170.3" y1="253.2" x2="1175.3" y2="253.2" stroke="#111" stroke-width="1.6" /><line x1="873.8" y1="1063.6" x2="873.8" y2="1069.6" stroke="#111" stroke-width="1.6" /><line x1="879.0" y1="210.7" x2="879.0" y2="198.7" stroke="#111" stroke-width="1.6" /><line x1="906.8" y1="1070.3" x2="906.8" y2="1076.3" stroke="#111" stroke-width="1.6" /><line x1="916.0" y1="209.6" x2="916.0" y2="203.6" stroke="#111" stroke-width="1.6" /><line x1="940.5" y1="1077.1" x2="940.5" y2="1083.1" stroke="#111" stroke-width="1.6" /><line x1="953.7" y1="208.5" x2="953.7" y2="202.5" stroke="#111" stroke-width="1.6" /><line x1="974.7" y1="1084.1" x2="974.7" y2="1090.1" stroke="#111" stroke-width="1.6" /><line x1="992.2" y1="207.3" x2="992.2" y2="201.3" stroke="#111" stroke-width="1.6" /><line x1="1009.6" y1="1091.2" x2="1009.6" y2="1102.2" stroke="#111" stroke-width="1.6" /><line x1="1031.4" y1="206.2" x2="1031.4" y2="194.2" stroke="#111" stroke-width="1.6" /><line x1="1045.1" y1="1098.4" x2="1045.1" y2="1104.4" stroke="#111" stroke-width="1.6" /><line x1="1071.6" y1="205.0" x2="1071.6" y2="199.0" stroke="#111" stroke-width="1.6" /><line x1="1073.6" y1="1089.5" x2="1079.6" y2="1089.5" stroke="#111" stroke-width="1.6" /><line x1="1103.1" y1="210.6" x2="1103.1" y2="204.6" stroke="#111" stroke-width="1.6" /><line x1="1086.0" y1="1072.5" x2="1097.0" y2="1072.5" stroke="#111" stroke-width="1.6" /><line x1="1116.0" y1="218.8" x2="1116.0" y2="212.8" stroke="#111" stroke-width="1.6" /><line x1="1097.8" y1="1056.4" x2="1103.8" y2="1056.4" stroke="#111" stroke-width="1.6" /><line x1="1128.2" y1="226.5" x2="1128.2" y2="220.5" stroke="#111" stroke-width="1.6" /><line x1="1108.9" y1="1041.2" x2="1114.9" y2="1041.2" stroke="#111" stroke-width="1.6" /><line x1="1139.7" y1="233.8" x2="1139.7" y2="221.8" stroke="#111" stroke-width="1.6" /><line x1="1119.5" y1="1026.7" x2="1125.5" y2="1026.7" stroke="#111" stroke-width="1.6" /><line x1="1150.6" y1="240.7" x2="1150.6" y2="234.7" stroke="#111" stroke-width="1.6" /><line x1="1129.6" y1="1013.0" x2="1140.6" y2="1013.0" stroke="#111" stroke-width="1.6" /><line x1="1160.8" y1="247.2" x2="1160.8" y2="241.2" stroke="#111" stroke-width="1.6" />
<text x="801.3" y="348.3" font-family="'Liberation Sans', 'Noto Sans CJK SC', sans-serif" font-size="16.5" font-weight="bold" fill="#111" textLength="26.2" lengthAdjust="spacingAndGlyphs">600</text><text x="801.8" y="508.9" font-family="'Liberation Sans', 'Noto Sans CJK SC', sans-serif" font-size="16.5" font-weight="bold" fill="#111" textLength="25.8" lengthAdjust="spacingAndGlyphs">400</text><text x="801.3" y="662.9" font-family="'Liberation Sans', 'Noto Sans CJK SC', sans-serif" font-size="16.5" font-weight="bold" fill="#111" textLength="26.4" lengthAdjust="spacingAndGlyphs">200</text><text x="817.4" y="811" font-family="'Liberation Sans', 'Noto Sans CJK SC', sans-serif" font-size="16.5" font-weight="bold" fill="#111" textLength="10.3" lengthAdjust="spacingAndGlyphs">0</text><text x="795" y="954" font-family="'Liberation Sans', 'Noto Sans CJK SC', sans-serif" font-size="16.5" font-weight="bold" fill="#111" textLength="32.7" lengthAdjust="spacingAndGlyphs">-200</text><text x="1185.2" y="377" font-family="'Liberation Sans', 'Noto Sans CJK SC', sans-serif" font-size="16.5" font-weight="bold" fill="#111" textLength="25.8" lengthAdjust="spacingAndGlyphs">600</text><text x="1177.6" y="516.7" font-family="'Liberation Sans', 'Noto Sans CJK SC', sans-serif" font-size="16.5" font-weight="bold" fill="#111" textLength="25.9" lengthAdjust="spacingAndGlyphs">400</text><text x="1171.4" y="653.4" font-family="'Liberation Sans', 'Noto Sans CJK SC', sans-serif" font-size="16.5" font-weight="bold" fill="#111" textLength="25.9" lengthAdjust="spacingAndGlyphs">200</text><text x="1165.7" y="785.5" font-family="'Liberation Sans', 'Noto Sans CJK SC', sans-serif" font-size="16.5" font-weight="bold" fill="#111" textLength="9.8" lengthAdjust="spacingAndGlyphs">0</text><text x="1159.2" y="913.1" font-family="'Liberation Sans', 'Noto Sans CJK SC', sans-serif" font-size="16.5" font-weight="bold" fill="#111" textLength="30.3" lengthAdjust="spacingAndGlyphs">-200</text><text x="747.8" y="659" font-family="'Liberation Sans', 'Noto Sans CJK SC', sans-serif" font-size="16.5" font-weight="bold" fill="#111" textLength="43.5" lengthAdjust="spacingAndGlyphs">Z-axis</text><text x="1208.7" y="654.5" font-family="'Liberation Sans', 'Noto Sans CJK SC', sans-serif" font-size="16.5" font-weight="bold" fill="#111" textLength="43.5" lengthAdjust="spacingAndGlyphs">Z-axis</text><text x="1140.5" y="217.5" font-family="'Liberation Sans', 'Noto Sans CJK SC', sans-serif" font-size="16.5" font-weight="bold" fill="#111" textLength="60.5" lengthAdjust="spacingAndGlyphs">3612100</text><text x="1146.2" y="1027" font-family="'Liberation Sans', 'Noto Sans CJK SC', sans-serif" font-size="16.5" font-weight="bold" fill="#111" textLength="60.6" lengthAdjust="spacingAndGlyphs">3612120</text><text x="1103" y="1086.2" font-family="'Liberation Sans', 'Noto Sans CJK SC', sans-serif" font-size="16.5" font-weight="bold" fill="#111" textLength="60.5" lengthAdjust="spacingAndGlyphs">3612080</text><text x="1187.3" y="1071" font-family="'Liberation Sans', 'Noto Sans CJK SC', sans-serif" font-size="16.5" font-weight="bold" fill="#111" textLength="43.3" lengthAdjust="spacingAndGlyphs">Y-axis</text><text x="927.7" y="1145" font-family="'Liberation Sans', 'Noto Sans CJK SC', sans-serif" font-size="16.5" font-weight="bold" fill="#111" textLength="43.3" lengthAdjust="spacingAndGlyphs">X-axis</text><text x="966.6" y="1119.5" font-family="'Liberation Sans', 'Noto Sans CJK SC', sans-serif" font-size="15.5" font-weight="bold" fill="#111" textLength="80.1" lengthAdjust="spacingAndGlyphs">1.90626E+7</text>
<path d="M1117.2,253.0 C1117.1,259.2 1117.1,279.8 1116.8,290.0 C1116.5,300.2 1115.8,307.5 1115.2,314.0 C1114.6,320.5 1114.1,322.7 1113.0,329.0 C1111.9,335.3 1110.5,342.7 1108.6,351.7 C1106.7,360.7 1104.2,372.1 1101.4,382.8 C1098.7,393.5 1095.1,406.1 1092.1,416.0 C1089.1,425.9 1086.5,433.3 1083.5,442.0 C1080.5,450.7 1076.9,460.0 1074.0,468.0 C1071.1,476.0 1069.9,480.5 1066.2,490.0 C1062.5,499.5 1058.2,511.1 1052.1,525.2 C1046.0,539.3 1036.4,559.7 1029.7,574.6 C1023.0,589.5 1017.0,601.5 1011.8,614.9 C1006.6,628.3 1003.5,641.1 998.3,655.3 C993.1,669.5 987.9,683.2 980.5,700.0 C973.1,716.8 959.9,743.3 954.0,756.0 C948.1,768.7 950.3,764.6 945.0,776.0 C939.7,787.4 928.7,810.0 922.3,824.3 C915.9,838.5 911.4,849.1 906.8,861.5 C902.1,873.9 898.3,886.4 894.4,898.8 C890.5,911.2 887.1,923.7 883.5,936.1 C879.9,948.5 875.7,961.0 872.6,973.4 C869.5,985.8 867.5,997.6 864.9,1010.7 C862.3,1023.8 858.6,1045.1 857.3,1052.0" fill="none" stroke="#5a0000" stroke-width="7.4" stroke-linecap="butt"/>
<path d="M1117.2,253.0 C1117.1,259.2 1117.1,279.8 1116.8,290.0 C1116.5,300.2 1115.8,307.5 1115.2,314.0 C1114.6,320.5 1114.1,322.7 1113.0,329.0 C1111.9,335.3 1110.5,342.7 1108.6,351.7 C1106.7,360.7 1104.2,372.1 1101.4,382.8 C1098.7,393.5 1095.1,406.1 1092.1,416.0 C1089.1,425.9 1086.5,433.3 1083.5,442.0 C1080.5,450.7 1076.9,460.0 1074.0,468.0 C1071.1,476.0 1069.9,480.5 1066.2,490.0 C1062.5,499.5 1058.2,511.1 1052.1,525.2 C1046.0,539.3 1036.4,559.7 1029.7,574.6 C1023.0,589.5 1017.0,601.5 1011.8,614.9 C1006.6,628.3 1003.5,641.1 998.3,655.3 C993.1,669.5 987.9,683.2 980.5,700.0 C973.1,716.8 959.9,743.3 954.0,756.0 C948.1,768.7 950.3,764.6 945.0,776.0 C939.7,787.4 928.7,810.0 922.3,824.3 C915.9,838.5 911.4,849.1 906.8,861.5 C902.1,873.9 898.3,886.4 894.4,898.8 C890.5,911.2 887.1,923.7 883.5,936.1 C879.9,948.5 875.7,961.0 872.6,973.4 C869.5,985.8 867.5,997.6 864.9,1010.7 C862.3,1023.8 858.6,1045.1 857.3,1052.0" fill="none" stroke="#d41818" stroke-width="4.4"/>
<path d="M1117.2,253.0 C1117.1,259.2 1117.1,279.8 1116.8,290.0 C1116.5,300.2 1115.8,307.5 1115.2,314.0 C1114.6,320.5 1114.1,322.7 1113.0,329.0 C1111.9,335.3 1110.5,342.7 1108.6,351.7 C1106.7,360.7 1104.2,372.1 1101.4,382.8 C1098.7,393.5 1095.1,406.1 1092.1,416.0 C1089.1,425.9 1086.5,433.3 1083.5,442.0 C1080.5,450.7 1076.9,460.0 1074.0,468.0 C1071.1,476.0 1069.9,480.5 1066.2,490.0 C1062.5,499.5 1058.2,511.1 1052.1,525.2 C1046.0,539.3 1036.4,559.7 1029.7,574.6 C1023.0,589.5 1017.0,601.5 1011.8,614.9 C1006.6,628.3 1003.5,641.1 998.3,655.3 C993.1,669.5 987.9,683.2 980.5,700.0 C973.1,716.8 959.9,743.3 954.0,756.0 C948.1,768.7 950.3,764.6 945.0,776.0 C939.7,787.4 928.7,810.0 922.3,824.3 C915.9,838.5 911.4,849.1 906.8,861.5 C902.1,873.9 898.3,886.4 894.4,898.8 C890.5,911.2 887.1,923.7 883.5,936.1 C879.9,948.5 875.7,961.0 872.6,973.4 C869.5,985.8 867.5,997.6 864.9,1010.7 C862.3,1023.8 858.6,1045.1 857.3,1052.0" fill="none" stroke="#f04040" stroke-width="1.4" opacity="0.8"/>
<path d="M1117.0,266.0 C1117.0,271.7 1116.6,286.8 1116.8,300.0 C1117.0,313.2 1117.2,330.8 1118.0,345.0 C1118.8,359.2 1120.5,372.5 1121.5,385.0 C1122.5,397.5 1123.6,407.5 1124.2,420.0 C1124.8,432.5 1124.8,448.3 1125.0,460.0 C1125.2,471.7 1125.2,478.3 1125.2,490.0 C1125.2,501.7 1125.4,515.8 1124.8,530.0 C1124.2,544.2 1123.0,560.8 1121.7,575.0 C1120.4,589.2 1118.0,608.3 1117.2,615.0" fill="none" stroke="#0000a8" stroke-width="6.6" stroke-linecap="butt"/>
<path d="M1117.0,266.0 C1117.0,271.7 1116.6,286.8 1116.8,300.0 C1117.0,313.2 1117.2,330.8 1118.0,345.0 C1118.8,359.2 1120.5,372.5 1121.5,385.0 C1122.5,397.5 1123.6,407.5 1124.2,420.0 C1124.8,432.5 1124.8,448.3 1125.0,460.0 C1125.2,471.7 1125.2,478.3 1125.2,490.0 C1125.2,501.7 1125.4,515.8 1124.8,530.0 C1124.2,544.2 1123.0,560.8 1121.7,575.0 C1120.4,589.2 1118.0,608.3 1117.2,615.0" fill="none" stroke="#1212f0" stroke-width="4.2"/>
<text x="1096.8" y="252.8" font-family="'Liberation Sans', 'Noto Sans CJK SC', sans-serif" font-size="20" fill="#111" textLength="11.1" lengthAdjust="spacingAndGlyphs">0</text>
<line x1="1108.4" y1="252.3" x2="1112" y2="252.3" stroke="#111" stroke-width="1.3"/>
<text x="1096.6" y="268.8" font-family="'Liberation Sans', 'Noto Sans CJK SC', sans-serif" font-size="20" fill="#111" textLength="11.1" lengthAdjust="spacingAndGlyphs">0</text>
<line x1="1108.2" y1="268.3" x2="1113" y2="268.3" stroke="#111" stroke-width="1.3"/>
<text x="1070.4" y="324.8" font-family="'Liberation Sans', 'Noto Sans CJK SC', sans-serif" font-size="20" fill="#111" textLength="33.3" lengthAdjust="spacingAndGlyphs">100</text>
<line x1="1104.2" y1="324.3" x2="1112" y2="324.3" stroke="#111" stroke-width="1.3"/>
<text x="1077" y="340.4" font-family="'Liberation Sans', 'Noto Sans CJK SC', sans-serif" font-size="20" fill="#111" textLength="33.3" lengthAdjust="spacingAndGlyphs">100</text>
<line x1="1110.8" y1="339.9" x2="1114" y2="339.9" stroke="#111" stroke-width="1.3"/>
<text x="1054.5" y="395.8" font-family="'Liberation Sans', 'Noto Sans CJK SC', sans-serif" font-size="20" fill="#111" textLength="33.3" lengthAdjust="spacingAndGlyphs">200</text>
<line x1="1088.3" y1="395.3" x2="1096" y2="395.3" stroke="#111" stroke-width="1.3"/>
<text x="1080.9" y="411.5" font-family="'Liberation Sans', 'Noto Sans CJK SC', sans-serif" font-size="20" fill="#111" textLength="33.3" lengthAdjust="spacingAndGlyphs">200</text>
<line x1="1114.7" y1="411.0" x2="1122" y2="411.0" stroke="#111" stroke-width="1.3"/>
<text x="1033" y="465.9" font-family="'Liberation Sans', 'Noto Sans CJK SC', sans-serif" font-size="20" fill="#111" textLength="33.3" lengthAdjust="spacingAndGlyphs">300</text>
<line x1="1066.8" y1="465.4" x2="1073" y2="465.4" stroke="#111" stroke-width="1.3"/>
<text x="1080.9" y="483.2" font-family="'Liberation Sans', 'Noto Sans CJK SC', sans-serif" font-size="20" fill="#111" textLength="33.3" lengthAdjust="spacingAndGlyphs">300</text>
<line x1="1114.7" y1="482.7" x2="1122" y2="482.7" stroke="#111" stroke-width="1.3"/>
<text x="1003.9" y="536.4" font-family="'Liberation Sans', 'Noto Sans CJK SC', sans-serif" font-size="20" fill="#111" textLength="33.3" lengthAdjust="spacingAndGlyphs">400</text>
<line x1="1037.7" y1="535.9" x2="1046" y2="535.9" stroke="#111" stroke-width="1.3"/>
<text x="1076.8" y="557.7" font-family="'Liberation Sans', 'Noto Sans CJK SC', sans-serif" font-size="20" fill="#111" textLength="33.3" lengthAdjust="spacingAndGlyphs">400</text>
<line x1="1110.6" y1="557.2" x2="1122" y2="557.2" stroke="#111" stroke-width="1.3"/>
<text x="974.8" y="608.2" font-family="'Liberation Sans', 'Noto Sans CJK SC', sans-serif" font-size="20" fill="#111" textLength="33.3" lengthAdjust="spacingAndGlyphs">500</text>
<line x1="1008.6" y1="607.7" x2="1016" y2="607.7" stroke="#111" stroke-width="1.3"/>
<text x="944.5" y="682.2" font-family="'Liberation Sans', 'Noto Sans CJK SC', sans-serif" font-size="20" fill="#111" textLength="33.3" lengthAdjust="spacingAndGlyphs">600</text>
<line x1="978.3" y1="681.7" x2="986" y2="681.7" stroke="#111" stroke-width="1.3"/>
<text x="910.4" y="756" font-family="'Liberation Sans', 'Noto Sans CJK SC', sans-serif" font-size="20" fill="#111" textLength="33.3" lengthAdjust="spacingAndGlyphs">700</text>
<line x1="944.2" y1="755.5" x2="950" y2="755.5" stroke="#111" stroke-width="1.3"/>
<text x="878" y="828.8" font-family="'Liberation Sans', 'Noto Sans CJK SC', sans-serif" font-size="20" fill="#111" textLength="33.3" lengthAdjust="spacingAndGlyphs">800</text>
<line x1="911.8" y1="828.3" x2="922" y2="828.3" stroke="#111" stroke-width="1.3"/>
<text x="849.8" y="902.3" font-family="'Liberation Sans', 'Noto Sans CJK SC', sans-serif" font-size="20" fill="#111" textLength="33.3" lengthAdjust="spacingAndGlyphs">900</text>
<line x1="883.6" y1="901.8" x2="889" y2="901.8" stroke="#111" stroke-width="1.3"/>
<text x="816" y="972.4" font-family="'Liberation Sans', 'Noto Sans CJK SC', sans-serif" font-size="20" fill="#111" textLength="44.4" lengthAdjust="spacingAndGlyphs">1000</text>
<line x1="860.9" y1="971.9" x2="868" y2="971.9" stroke="#111" stroke-width="1.3"/>
<text x="802.2" y="1043.8" font-family="'Liberation Sans', 'Noto Sans CJK SC', sans-serif" font-size="20" fill="#111" textLength="44.4" lengthAdjust="spacingAndGlyphs">1100</text>
<line x1="847.1" y1="1043.3" x2="856" y2="1043.3" stroke="#111" stroke-width="1.3"/>
<line x1="1006" y1="646.5" x2="1094" y2="619" stroke="#a00808" stroke-width="6"/>
<polygon points="994.5,650 1013.5,636 1017.5,653" fill="#a00808"/>
<polygon points="1108,615 1087.5,611.5 1093,629" fill="#a00808"/>
<text transform="translate(1041,691) rotate(-20)" font-family="'Liberation Serif', 'Noto Serif CJK SC', serif" font-size="38" fill="#111" stroke="#111" stroke-width="0.8" textLength="64" lengthAdjust="spacingAndGlyphs">30m</text>
<text x="954.8" y="522" font-family="'Liberation Sans', 'Noto Sans CJK SC', sans-serif" font-size="41.5" fill="#b80c0c" textLength="86" lengthAdjust="spacingAndGlyphs">探井</text>
<text x="1144.6" y="495.5" font-family="'Liberation Sans', 'Noto Sans CJK SC', sans-serif" font-size="44" fill="#0a0af0" textLength="115" lengthAdjust="spacingAndGlyphs">目标井</text>
<rect x="579.7" y="727.7" width="156.3" height="66.6" fill="#fff"/>
<text x="601.8" y="778.5" font-family="'Liberation Sans', 'Noto Sans CJK SC', sans-serif" font-size="43" font-weight="500" fill="#0a0af0" textLength="133" lengthAdjust="spacingAndGlyphs">目标井</text>
<line x1="586" y1="726" x2="509" y2="663" stroke="#000" stroke-width="4.6"/>
<polygon points="497.6,653.5 519,657 503,671" fill="#000"/>
<line x1="591" y1="812" x2="512" y2="940" stroke="#000" stroke-width="4.6"/>
<polygon points="505,952.9 522,944 506,934" fill="#000"/>
<rect x="603.5" y="969" width="132.5" height="158" fill="#fff"/>
<text x="637" y="997" font-family="'Liberation Sans', 'Noto Sans CJK SC', sans-serif" font-size="24" fill="#111" textLength="63" lengthAdjust="spacingAndGlyphs">North</text>
<ellipse cx="670.3" cy="1073.6" rx="53.0" ry="48.0" fill="none" stroke="#8c8c8c" stroke-width="0.9"/><ellipse cx="670.3" cy="1073.6" rx="43.5" ry="39.4" fill="none" stroke="#8c8c8c" stroke-width="0.9"/><ellipse cx="670.3" cy="1073.6" rx="33.9" ry="30.7" fill="none" stroke="#8c8c8c" stroke-width="0.9"/><ellipse cx="670.3" cy="1073.6" rx="24.4" ry="22.1" fill="none" stroke="#8c8c8c" stroke-width="0.9"/><ellipse cx="670.3" cy="1073.6" rx="12.7" ry="11.5" fill="none" stroke="#b0b0b0" stroke-width="0.8"/><line x1="683.0" y1="1073.6" x2="723.3" y2="1073.6" stroke="#a0a0a0" stroke-width="0.8"/><line x1="682.8" y1="1075.6" x2="722.5" y2="1081.9" stroke="#a0a0a0" stroke-width="0.8"/><line x1="682.3" y1="1077.5" x2="720.1" y2="1090.0" stroke="#a0a0a0" stroke-width="0.8"/><line x1="681.3" y1="1079.4" x2="716.2" y2="1097.6" stroke="#a0a0a0" stroke-width="0.8"/><line x1="680.0" y1="1081.0" x2="710.9" y2="1104.5" stroke="#a0a0a0" stroke-width="0.8"/><line x1="678.5" y1="1082.4" x2="704.4" y2="1110.4" stroke="#a0a0a0" stroke-width="0.8"/><line x1="676.7" y1="1083.6" x2="696.8" y2="1115.2" stroke="#a0a0a0" stroke-width="0.8"/><line x1="674.7" y1="1084.4" x2="688.4" y2="1118.7" stroke="#a0a0a0" stroke-width="0.8"/><line x1="672.5" y1="1084.9" x2="679.5" y2="1120.9" stroke="#a0a0a0" stroke-width="0.8"/><line x1="670.3" y1="1085.1" x2="670.3" y2="1121.6" stroke="#a0a0a0" stroke-width="0.8"/><line x1="668.1" y1="1084.9" x2="661.1" y2="1120.9" stroke="#a0a0a0" stroke-width="0.8"/><line x1="665.9" y1="1084.4" x2="652.2" y2="1118.7" stroke="#a0a0a0" stroke-width="0.8"/><line x1="663.9" y1="1083.6" x2="643.8" y2="1115.2" stroke="#a0a0a0" stroke-width="0.8"/><line x1="662.1" y1="1082.4" x2="636.2" y2="1110.4" stroke="#a0a0a0" stroke-width="0.8"/><line x1="660.6" y1="1081.0" x2="629.7" y2="1104.5" stroke="#a0a0a0" stroke-width="0.8"/><line x1="659.3" y1="1079.4" x2="624.4" y2="1097.6" stroke="#a0a0a0" stroke-width="0.8"/><line x1="658.3" y1="1077.5" x2="620.5" y2="1090.0" stroke="#a0a0a0" stroke-width="0.8"/><line x1="657.8" y1="1075.6" x2="618.1" y2="1081.9" stroke="#a0a0a0" stroke-width="0.8"/><line x1="657.6" y1="1073.6" x2="617.3" y2="1073.6" stroke="#a0a0a0" stroke-width="0.8"/><line x1="657.8" y1="1071.6" x2="618.1" y2="1065.3" stroke="#a0a0a0" stroke-width="0.8"/><line x1="658.3" y1="1069.7" x2="620.5" y2="1057.2" stroke="#a0a0a0" stroke-width="0.8"/><line x1="659.3" y1="1067.8" x2="624.4" y2="1049.6" stroke="#a0a0a0" stroke-width="0.8"/><line x1="660.6" y1="1066.2" x2="629.7" y2="1042.7" stroke="#a0a0a0" stroke-width="0.8"/><line x1="662.1" y1="1064.8" x2="636.2" y2="1036.8" stroke="#a0a0a0" stroke-width="0.8"/><line x1="663.9" y1="1063.6" x2="643.8" y2="1032.0" stroke="#a0a0a0" stroke-width="0.8"/><line x1="665.9" y1="1062.8" x2="652.2" y2="1028.5" stroke="#a0a0a0" stroke-width="0.8"/><line x1="668.1" y1="1062.3" x2="661.1" y2="1026.3" stroke="#a0a0a0" stroke-width="0.8"/><line x1="670.3" y1="1062.1" x2="670.3" y2="1025.6" stroke="#a0a0a0" stroke-width="0.8"/><line x1="672.5" y1="1062.3" x2="679.5" y2="1026.3" stroke="#a0a0a0" stroke-width="0.8"/><line x1="674.7" y1="1062.8" x2="688.4" y2="1028.5" stroke="#a0a0a0" stroke-width="0.8"/><line x1="676.7" y1="1063.6" x2="696.8" y2="1032.0" stroke="#a0a0a0" stroke-width="0.8"/><line x1="678.5" y1="1064.8" x2="704.4" y2="1036.8" stroke="#a0a0a0" stroke-width="0.8"/><line x1="680.0" y1="1066.2" x2="710.9" y2="1042.7" stroke="#a0a0a0" stroke-width="0.8"/><line x1="681.3" y1="1067.8" x2="716.2" y2="1049.6" stroke="#a0a0a0" stroke-width="0.8"/><line x1="682.3" y1="1069.7" x2="720.1" y2="1057.2" stroke="#a0a0a0" stroke-width="0.8"/><line x1="682.8" y1="1071.6" x2="722.5" y2="1065.3" stroke="#a0a0a0" stroke-width="0.8"/><line x1="670.3" y1="1021.5999999999999" x2="670.3" y2="1125.6" stroke="#808080" stroke-width="1"/><line x1="613.3" y1="1073.6" x2="727.3" y2="1073.6" stroke="#808080" stroke-width="1"/>
<polygon points="672,1072.5 709,1067.2 710,1071.8 724.4,1072.7 723.5,1080.8 692.8,1077.2 692,1079 673,1075.4" fill="#e01010"/>
<circle cx="670.3" cy="1073.6" r="3.2" fill="#5a3a9a"/>
<rect x="5.2" y="5" width="1258.4" height="1149" rx="4" fill="none" stroke="#000" stroke-width="8.4"/>
<rect x="69.5" y="5" width="8.5" height="1149" fill="#000" />
<rect x="197" y="5" width="8" height="1149" fill="#000" />
<rect x="348.3" y="5" width="8.3" height="1149" fill="#000" />
<rect x="571.4" y="5" width="8.3" height="1149" fill="#000" />
<rect x="5" y="138.6" width="1259" height="8.4" fill="#000" />
<rect x="205" y="63.6" width="374" height="6.8" fill="#000" />
<rect x="78" y="64" width="119" height="6.6" fill="#0000e6" />
<defs><linearGradient id="jet" x1="0" x2="1" y1="0" y2="0">
<stop offset="0" stop-color="#0a0cb8"/><stop offset="0.13" stop-color="#1020e8"/><stop offset="0.19" stop-color="#1048ff"/>
<stop offset="0.25" stop-color="#109cff"/><stop offset="0.3" stop-color="#00eeff"/><stop offset="0.45" stop-color="#10ffff"/>
<stop offset="0.5" stop-color="#70ffa0"/><stop offset="0.55" stop-color="#c8ff48"/><stop offset="0.585" stop-color="#f8ff10"/>
<stop offset="0.7" stop-color="#ffff00"/><stop offset="0.75" stop-color="#ffc000"/><stop offset="0.8" stop-color="#ff8000"/>
<stop offset="0.86" stop-color="#ff3000"/><stop offset="0.9" stop-color="#ff1010"/><stop offset="1" stop-color="#ff0808"/>
</linearGradient></defs>
<rect x="205" y="121.5" width="143.3" height="17.1" fill="url(#jet)" />
<rect x="356.6" y="121.5" width="214.8" height="17.1" fill="url(#jet)" />
<text x="138.5" y="44.7" font-family="'Liberation Serif', 'Noto Serif CJK SC', serif" font-size="29" font-weight="bold" text-anchor="middle" fill="#000" >GR</text>
<text x="137.5" y="96.6" font-family="'Liberation Serif', 'Noto Serif CJK SC', serif" font-size="27" font-weight="normal" text-anchor="middle" fill="#000" >API</text>
<text x="80.5" y="129.5" font-family="'Liberation Serif', 'Noto Serif CJK SC', serif" font-size="26" font-weight="bold" text-anchor="start" fill="#000" >0</text>
<text x="185" y="129.5" font-family="'Liberation Serif', 'Noto Serif CJK SC', serif" font-size="26" font-weight="bold" text-anchor="end" fill="#000" >200</text>
<text x="278.5" y="45.3" font-family="'Liberation Sans', 'Noto Sans CJK SC', sans-serif" font-size="30.5" font-weight="bold" text-anchor="middle" fill="#000" >各向异性</text>
<text x="277" y="94.6" font-family="'Liberation Serif', 'Noto Serif CJK SC', serif" font-size="25" font-weight="bold" text-anchor="middle" fill="#000" >deg</text>
<text x="211" y="111.5" font-family="'Liberation Serif', 'Noto Serif CJK SC', serif" font-size="24.5" font-weight="bold" text-anchor="start" fill="#000" >0</text>
<text x="342.5" y="111.5" font-family="'Liberation Serif', 'Noto Serif CJK SC', serif" font-size="25.5" font-weight="bold" text-anchor="end" fill="#000" >360</text>
<text x="369" y="45" font-family="'Liberation Sans', 'Noto Sans CJK SC', sans-serif" font-size="29" font-weight="bold" fill="#000">北<tspan font-family="'Liberation Serif', 'Noto Serif CJK SC', serif" font-size="30">15°</tspan>东成像图</text>
<text x="462" y="95" font-family="'Liberation Serif', 'Noto Serif CJK SC', serif" font-size="24" font-weight="bold" text-anchor="middle" fill="#000" >m</text>
<text x="368" y="112.4" font-family="'Liberation Serif', 'Noto Serif CJK SC', serif" font-size="25" font-weight="bold" text-anchor="start" fill="#000" >0</text>
<text x="552.5" y="112.4" font-family="'Liberation Serif', 'Noto Serif CJK SC', serif" font-size="25" font-weight="bold" text-anchor="end" fill="#000" >45</text>
<text x="922" y="84" font-family="'Liberation Sans', 'Noto Sans CJK SC', sans-serif" font-size="44.5" font-weight="bold" text-anchor="middle" fill="#000" >三维井眼轨迹图</text>
<text transform="translate(47.5,75) rotate(-90)" font-family="'Liberation Serif', 'Noto Serif CJK SC', serif" font-size="26" font-weight="bold" text-anchor="middle" fill="#000"><tspan font-family="'Liberation Sans', 'Noto Sans CJK SC', sans-serif" font-weight="normal" font-size="26.5">深度</tspan> (m)</text>
<text x="40.2" y="252.8" font-family="'Liberation Serif', 'Noto Serif CJK SC', serif" font-size="27.5" font-weight="bold" text-anchor="middle" fill="#000" >250</text>
<text x="40.2" y="419.2" font-family="'Liberation Serif', 'Noto Serif CJK SC', serif" font-size="27.5" font-weight="bold" text-anchor="middle" fill="#000" >300</text>
<text x="40.2" y="585.6" font-family="'Liberation Serif', 'Noto Serif CJK SC', serif" font-size="27.5" font-weight="bold" text-anchor="middle" fill="#000" >350</text>
<text x="40.2" y="752.0" font-family="'Liberation Serif', 'Noto Serif CJK SC', serif" font-size="27.5" font-weight="bold" text-anchor="middle" fill="#000" >400</text>
<text x="40.2" y="918.4" font-family="'Liberation Serif', 'Noto Serif CJK SC', serif" font-size="27.5" font-weight="bold" text-anchor="middle" fill="#000" >450</text>
<text x="40.2" y="1084.8" font-family="'Liberation Serif', 'Noto Serif CJK SC', serif" font-size="27.5" font-weight="bold" text-anchor="middle" fill="#000" >500</text>
</svg></body></html>
